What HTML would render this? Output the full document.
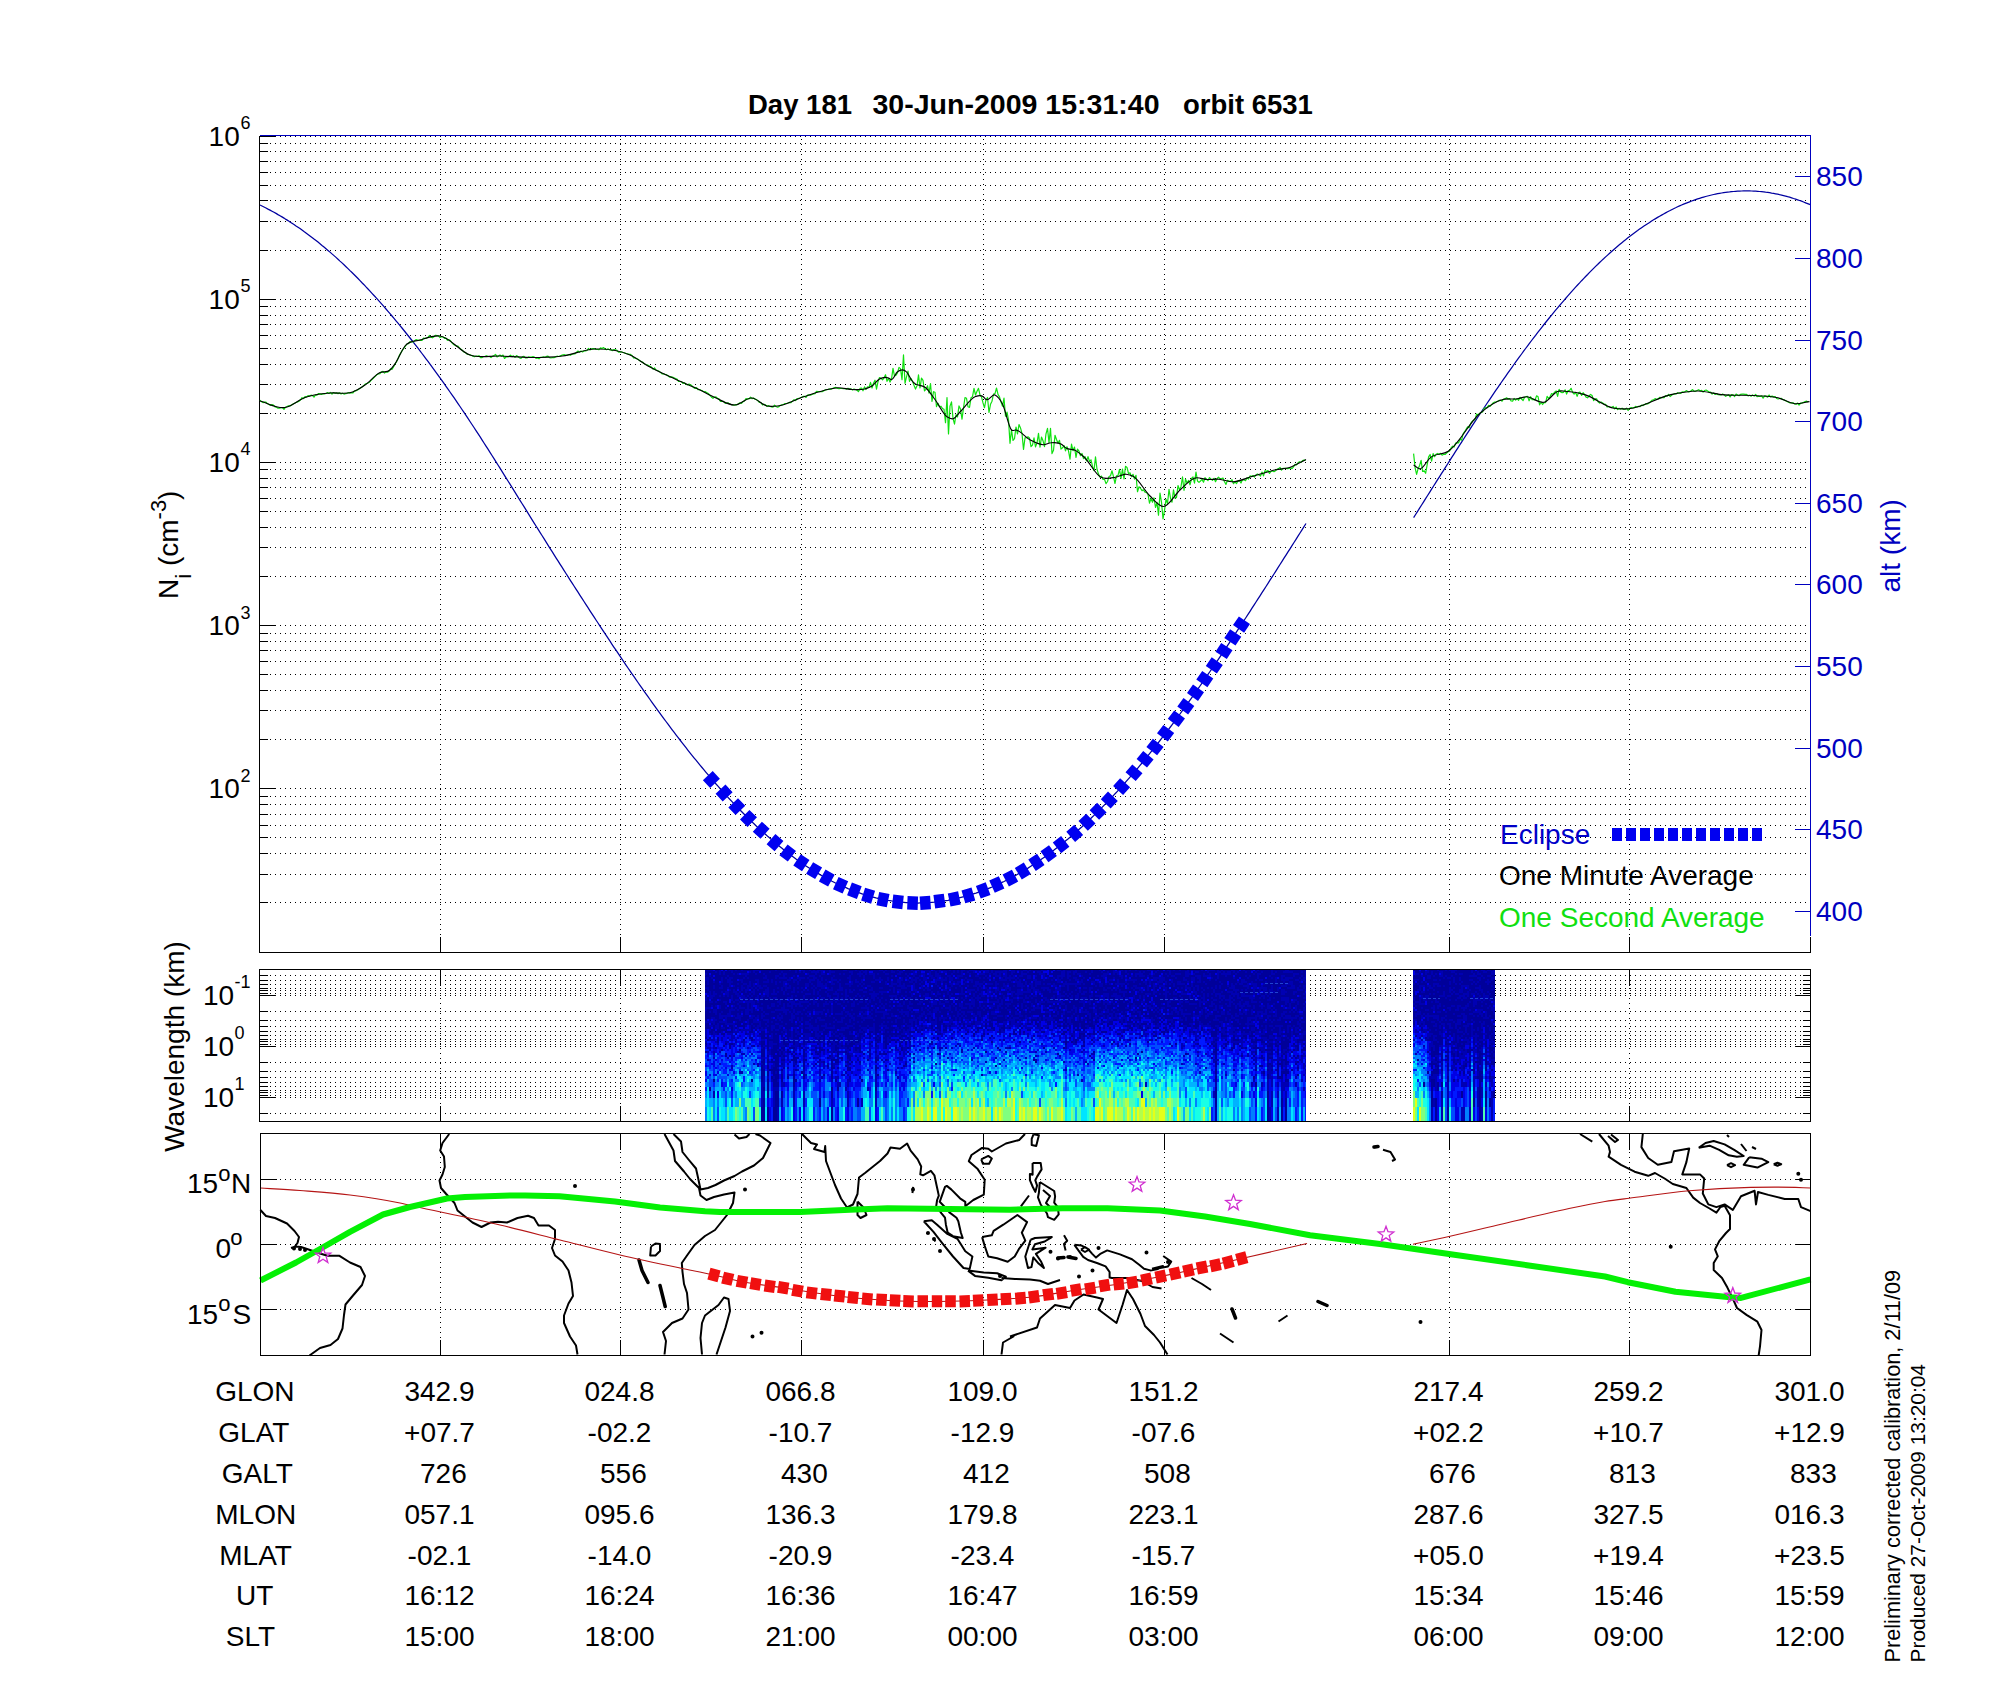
<!DOCTYPE html>
<html><head><meta charset="utf-8"><title>orbit 6531</title>
<style>html,body{margin:0;padding:0;background:#fff;overflow:hidden;width:2000px;height:1700px}svg{display:block}</style>
</head><body>
<svg width="2000" height="1700" viewBox="0 0 2000 1700" font-family="'Liberation Sans', sans-serif">
<rect width="2000" height="1700" fill="#fff"/>
<path d="M260 902.5H1810.5M260 874.5H1810.5M260 853.5H1810.5M260 837.5H1810.5M260 825.5H1810.5M260 814.5H1810.5M260 804.5H1810.5M260 796.5H1810.5M260 788.5H1810.5M260 739.5H1810.5M260 710.5H1810.5M260 690.5H1810.5M260 674.5H1810.5M260 661.5H1810.5M260 650.5H1810.5M260 641.5H1810.5M260 633.5H1810.5M260 625.5H1810.5M260 576.5H1810.5M260 547.5H1810.5M260 527.5H1810.5M260 511.5H1810.5M260 498.5H1810.5M260 487.5H1810.5M260 478.5H1810.5M260 469.5H1810.5M260 462.5H1810.5M260 413.5H1810.5M260 384.5H1810.5M260 364.5H1810.5M260 348.5H1810.5M260 335.5H1810.5M260 324.5H1810.5M260 315.5H1810.5M260 306.5H1810.5M260 299.5H1810.5M260 250.5H1810.5M260 221.5H1810.5M260 200.5H1810.5M260 185.5H1810.5M260 172.5H1810.5M260 161.5H1810.5M260 151.5H1810.5M260 143.5H1810.5M260 136.5H1810.5" stroke="#000" stroke-width="1" stroke-dasharray="1 4" fill="none" shape-rendering="crispEdges"/>
<path d="M440.5 138.5V951.5M620.5 138.5V951.5M801.5 138.5V951.5M983.5 138.5V951.5M1164.5 138.5V951.5M1449.5 138.5V951.5M1629.5 138.5V951.5" stroke="#000" stroke-width="1" stroke-dasharray="1 4" fill="none" shape-rendering="crispEdges"/>
<path d="M259.5 952.5H275.5M259.5 902.5H267.5M259.5 874.5H267.5M259.5 853.5H267.5M259.5 837.5H267.5M259.5 825.5H267.5M259.5 814.5H267.5M259.5 804.5H267.5M259.5 796.5H267.5M259.5 788.5H275.5M259.5 739.5H267.5M259.5 710.5H267.5M259.5 690.5H267.5M259.5 674.5H267.5M259.5 661.5H267.5M259.5 650.5H267.5M259.5 641.5H267.5M259.5 633.5H267.5M259.5 625.5H275.5M259.5 576.5H267.5M259.5 547.5H267.5M259.5 527.5H267.5M259.5 511.5H267.5M259.5 498.5H267.5M259.5 487.5H267.5M259.5 478.5H267.5M259.5 469.5H267.5M259.5 462.5H275.5M259.5 413.5H267.5M259.5 384.5H267.5M259.5 364.5H267.5M259.5 348.5H267.5M259.5 335.5H267.5M259.5 324.5H267.5M259.5 315.5H267.5M259.5 306.5H267.5M259.5 299.5H275.5M259.5 250.5H267.5M259.5 221.5H267.5M259.5 200.5H267.5M259.5 185.5H267.5M259.5 172.5H267.5M259.5 161.5H267.5M259.5 151.5H267.5M259.5 143.5H267.5M259.5 136.5H275.5" stroke="#000" stroke-width="1.2" fill="none" shape-rendering="crispEdges"/>
<path d="M440.5 952.5V936.5M620.5 952.5V936.5M801.5 952.5V936.5M983.5 952.5V936.5M1164.5 952.5V936.5M1449.5 952.5V936.5M1629.5 952.5V936.5M1810.5 952.5V936.5" stroke="#000" stroke-width="1.2" fill="none" shape-rendering="crispEdges"/>
<path d="M1810.5 911.5H1794.5M1810.5 829.5H1794.5M1810.5 748.5H1794.5M1810.5 666.5H1794.5M1810.5 584.5H1794.5M1810.5 503.5H1794.5M1810.5 421.5H1794.5M1810.5 340.5H1794.5M1810.5 258.5H1794.5M1810.5 176.5H1794.5" stroke="#0000c0" stroke-width="1.2" fill="none" shape-rendering="crispEdges"/>
<path d="M259.5 135.5V952.5H1810.5" stroke="#000" stroke-width="1.3" fill="none" shape-rendering="crispEdges"/>
<path d="M259.5 135.5H1810.5V935.5" stroke="#0000c0" stroke-width="1.3" fill="none" shape-rendering="crispEdges"/>
<text x="208.6" y="798.3" font-size="28">10</text>
<text x="240.5" y="781.8" font-size="18">2</text>
<text x="208.6" y="635.1" font-size="28">10</text>
<text x="240.5" y="618.6" font-size="18">3</text>
<text x="208.6" y="471.9" font-size="28">10</text>
<text x="240.5" y="455.4" font-size="18">4</text>
<text x="208.6" y="308.7" font-size="28">10</text>
<text x="240.5" y="292.2" font-size="18">5</text>
<text x="208.6" y="145.5" font-size="28">10</text>
<text x="240.5" y="129" font-size="18">6</text>
<text x="1816" y="920.7" font-size="28" fill="#0000c0">400</text>
<text x="1816" y="839.1" font-size="28" fill="#0000c0">450</text>
<text x="1816" y="757.5" font-size="28" fill="#0000c0">500</text>
<text x="1816" y="675.9" font-size="28" fill="#0000c0">550</text>
<text x="1816" y="594.3" font-size="28" fill="#0000c0">600</text>
<text x="1816" y="512.7" font-size="28" fill="#0000c0">650</text>
<text x="1816" y="431.1" font-size="28" fill="#0000c0">700</text>
<text x="1816" y="349.5" font-size="28" fill="#0000c0">750</text>
<text x="1816" y="267.9" font-size="28" fill="#0000c0">800</text>
<text x="1816" y="186.3" font-size="28" fill="#0000c0">850</text>
<g transform="translate(178 599) rotate(-90)"><text x="0" y="0" font-size="28">N<tspan font-size="22" dy="13">i</tspan><tspan dy="-13"> (cm</tspan><tspan font-size="22" dy="-12">-3</tspan><tspan dy="12">)</tspan></text></g>
<g transform="translate(1900 592.5) rotate(-90)"><text x="0" y="0" font-size="28" fill="#0000c0">alt (km)</text></g>
<text x="748" y="114" font-size="27.5" font-weight="bold">Day 181</text>
<text x="872.5" y="114" font-size="27.5" font-weight="bold" textLength="287" lengthAdjust="spacingAndGlyphs">30-Jun-2009 15:31:40</text>
<text x="1183" y="114" font-size="27.5" font-weight="bold">orbit 6531</text>
<path d="M260 205L262 206 264 207 266 208 268 209.1 270 210.1 272 211.2 274 212.3 276 213.4 278 214.6 280 215.7 282 216.9 284 218.1 286 219.4 288 220.6 290 221.9 292 223.2 294 224.5 296 225.9 298 227.2 300 228.6 302 230 304 231.5 306 232.9 308 234.4 310 235.9 312 237.4 314 239 316 240.5 318 242.1 320 243.7 322 245.4 324 247 326 248.7 328 250.4 330 252.1 332 253.9 334 255.6 336 257.4 338 259.2 340 261.1 342 262.9 344 264.8 346 266.7 348 268.6 350 270.6 352 272.5 354 274.5 356 276.5 358 278.5 360 280.6 362 282.7 364 284.7 366 286.9 368 289 370 291.1 372 293.3 374 295.5 376 297.7 378 299.9 380 302.1 382 304.4 384 306.7 386 309 388 311.3 390 313.6 392 316 394 318.4 396 320.8 398 323.2 400 325.6 402 328 404 330.5 406 333 408 335.5 410 338 412 340.5 414 343.1 416 345.7 418 348.2 420 350.8 422 353.5 424 356.1 426 358.8 428 361.4 430 364.1 432 366.8 434 369.6 436 372.3 438 375.1 440 377.8 442 380.6 444 383.4 446 386.3 448 389.1 450 392 452 394.8 454 397.7 456 400.6 458 403.6 460 406.5 462 409.5 464 412.4 466 415.4 468 418.4 470 421.5 472 424.5 474 427.5 476 430.6 478 433.7 480 436.7 482 439.8 484 443 486 446.1 488 449.2 490 452.3 492 455.5 494 458.7 496 461.8 498 465 500 468.2 502 471.4 504 474.6 506 477.8 508 481 510 484.2 512 487.4 514 490.6 516 493.8 518 497.1 520 500.3 522 503.5 524 506.7 526 509.9 528 513.1 530 516.3 532 519.6 534 522.8 536 526 538 529.2 540 532.4 542 535.5 544 538.7 546 541.9 548 545.1 550 548.3 552 551.4 554 554.6 556 557.8 558 560.9 560 564.1 562 567.2 564 570.4 566 573.5 568 576.6 570 579.8 572 582.9 574 586 576 589.1 578 592.2 580 595.3 582 598.4 584 601.5 586 604.6 588 607.7 590 610.8 592 613.9 594 616.9 596 620 598 623 600 626.1 602 629.1 604 632.2 606 635.2 608 638.2 610 641.2 612 644.3 614 647.3 616 650.2 618 653.2 620 656.2 622 659.2 624 662.1 626 665.1 628 668 630 670.9 632 673.8 634 676.7 636 679.6 638 682.5 640 685.4 642 688.2 644 691.1 646 693.9 648 696.7 650 699.5 652 702.3 654 705.1 656 707.9 658 710.6 660 713.4 662 716.1 664 718.8 666 721.5 668 724.2 670 726.9 672 729.6 674 732.2 676 734.8 678 737.4 680 740 682 742.6 684 745.2 686 747.7 688 750.3 690 752.8 692 755.3 694 757.8 696 760.2 698 762.7 700 765.1 702 767.5 704 769.9 706 772.3 708 774.7 710 777 712 779.4 714 781.7 716 784 718 786.2 720 788.5 722 790.7 724 792.9 726 795.1 728 797.3 730 799.5 732 801.6 734 803.7 736 805.8 738 807.9 740 810 742 812 744 814 746 816 748 818 750 819.9 752 821.9 754 823.8 756 825.7 758 827.6 760 829.4 762 831.2 764 833 766 834.8 768 836.6 770 838.3 772 840.1 774 841.8 776 843.4 778 845.1 780 846.7 782 848.3 784 849.9 786 851.5 788 853 790 854.6 792 856.1 794 857.5 796 859 798 860.4 800 861.8 802 863.2 804 864.6 806 865.9 808 867.2 810 868.5 812 869.8 814 871 816 872.3 818 873.4 820 874.6 822 875.8 824 876.9 826 878 828 879.1 830 880.1 832 881.2 834 882.2 836 883.2 838 884.1 840 885.1 842 886 844 886.9 846 887.7 848 888.6 850 889.4 852 890.2 854 891 856 891.7 858 892.4 860 893.1 862 893.8 864 894.5 866 895.1 868 895.7 870 896.3 872 896.8 874 897.3 876 897.9 878 898.3 880 898.8 882 899.2 884 899.6 886 900 888 900.4 890 900.7 892 901 894 901.3 896 901.6 898 901.8 900 902.1 902 902.2 904 902.4 906 902.6 908 902.7 910 902.8 912 902.9 914 902.9 916 903 918 903 920 902.9 922 902.9 924 902.8 926 902.7 928 902.6 930 902.5 932 902.3 934 902.2 936 902 938 901.7 940 901.5 942 901.2 944 900.9 946 900.6 948 900.3 950 899.9 952 899.5 954 899.1 956 898.7 958 898.2 960 897.7 962 897.2 964 896.7 966 896.1 968 895.6 970 895 972 894.4 974 893.7 976 893.1 978 892.4 980 891.7 982 891 984 890.2 986 889.4 988 888.6 990 887.8 992 887 994 886.1 996 885.2 998 884.3 1000 883.4 1002 882.4 1004 881.5 1006 880.5 1008 879.5 1010 878.4 1012 877.4 1014 876.3 1016 875.2 1018 874 1020 872.9 1022 871.7 1024 870.5 1026 869.3 1028 868.1 1030 866.8 1032 865.5 1034 864.2 1036 862.9 1038 861.6 1040 860.2 1042 858.8 1044 857.4 1046 856 1048 854.5 1050 853.1 1052 851.6 1054 850.1 1056 848.5 1058 847 1060 845.4 1062 843.8 1064 842.2 1066 840.5 1068 838.9 1070 837.2 1072 835.5 1074 833.8 1076 832 1078 830.3 1080 828.5 1082 826.7 1084 824.8 1086 823 1088 821.1 1090 819.2 1092 817.3 1094 815.4 1096 813.4 1098 811.5 1100 809.5 1102 807.4 1104 805.4 1106 803.4 1108 801.3 1110 799.2 1112 797.1 1114 794.9 1116 792.8 1118 790.6 1120 788.4 1122 786.2 1124 784 1126 781.7 1128 779.4 1130 777.1 1132 774.8 1134 772.5 1136 770.2 1138 767.8 1140 765.4 1142 763 1144 760.6 1146 758.1 1148 755.7 1150 753.2 1152 750.7 1154 748.2 1156 745.6 1158 743.1 1160 740.5 1162 737.9 1164 735.3 1166 732.7 1168 730.1 1170 727.5 1172 724.8 1174 722.1 1176 719.4 1178 716.7 1180 714 1182 711.2 1184 708.5 1186 705.7 1188 702.9 1190 700.1 1192 697.3 1194 694.5 1196 691.7 1198 688.8 1200 686 1202 683.1 1204 680.2 1206 677.3 1208 674.4 1210 671.5 1212 668.6 1214 665.7 1216 662.7 1218 659.8 1220 656.8 1222 653.8 1224 650.8 1226 647.8 1228 644.8 1230 641.8 1232 638.8 1234 635.8 1236 632.7 1238 629.7 1240 626.7 1242 623.6 1244 620.5 1246 617.5 1248 614.4 1250 611.3 1252 608.2 1254 605.1 1256 602 1258 598.9 1260 595.8 1262 592.7 1264 589.6 1266 586.5 1268 583.4 1270 580.2 1272 577.1 1274 574 1276 570.8 1278 567.7 1280 564.5 1282 561.4 1284 558.2 1286 555.1 1288 551.9 1290 548.8 1292 545.6 1294 542.5 1296 539.3 1298 536.2 1300 533 1302 529.8 1304 526.7 1306 523.5" stroke="#0000a0" stroke-width="1.25" fill="none"/>
<path d="M1413.6 517.6L1415.6 514.5 1417.6 511.3 1419.6 508.2 1421.6 505 1423.6 501.8 1425.6 498.7 1427.6 495.5 1429.6 492.4 1431.6 489.2 1433.6 486 1435.6 482.9 1437.6 479.7 1439.6 476.6 1441.6 473.4 1443.6 470.3 1445.6 467.1 1447.6 464 1449.6 460.8 1451.6 457.7 1453.6 454.6 1455.6 451.4 1457.6 448.3 1459.6 445.2 1461.6 442.1 1463.6 439 1465.6 435.9 1467.6 432.8 1469.6 429.8 1471.6 426.7 1473.6 423.6 1475.6 420.6 1477.6 417.5 1479.6 414.5 1481.6 411.5 1483.6 408.5 1485.6 405.5 1487.6 402.5 1489.6 399.6 1491.6 396.6 1493.6 393.7 1495.6 390.7 1497.6 387.8 1499.6 384.9 1501.6 382 1503.6 379.1 1505.6 376.3 1507.6 373.4 1509.6 370.6 1511.6 367.8 1513.6 365 1515.6 362.2 1517.6 359.4 1519.6 356.7 1521.6 354 1523.6 351.2 1525.6 348.5 1527.6 345.8 1529.6 343.2 1531.6 340.5 1533.6 337.9 1535.6 335.3 1537.6 332.7 1539.6 330.1 1541.6 327.6 1543.6 325 1545.6 322.5 1547.6 320 1549.6 317.5 1551.6 315.1 1553.6 312.6 1555.6 310.2 1557.6 307.8 1559.6 305.5 1561.6 303.1 1563.6 300.8 1565.6 298.5 1567.6 296.2 1569.6 293.9 1571.6 291.6 1573.6 289.4 1575.6 287.2 1577.6 285 1579.6 282.9 1581.6 280.7 1583.6 278.6 1585.6 276.5 1587.6 274.5 1589.6 272.4 1591.6 270.4 1593.6 268.4 1595.6 266.4 1597.6 264.5 1599.6 262.5 1601.6 260.6 1603.6 258.8 1605.6 256.9 1607.6 255.1 1609.6 253.3 1611.6 251.5 1613.6 249.7 1615.6 248 1617.6 246.3 1619.6 244.6 1621.6 242.9 1623.6 241.3 1625.6 239.7 1627.6 238.1 1629.6 236.6 1631.6 235 1633.6 233.5 1635.6 232 1637.6 230.6 1639.6 229.1 1641.6 227.7 1643.6 226.3 1645.6 225 1647.6 223.7 1649.6 222.4 1651.6 221.1 1653.6 219.8 1655.6 218.6 1657.6 217.4 1659.6 216.2 1661.6 215.1 1663.6 214 1665.6 212.9 1667.6 211.8 1669.6 210.8 1671.6 209.7 1673.6 208.7 1675.6 207.8 1677.6 206.8 1679.6 205.9 1681.6 205 1683.6 204.2 1685.6 203.4 1687.6 202.6 1689.6 201.8 1691.6 201 1693.6 200.3 1695.6 199.6 1697.6 198.9 1699.6 198.3 1701.6 197.7 1703.6 197.1 1705.6 196.5 1707.6 196 1709.6 195.5 1711.6 195 1713.6 194.5 1715.6 194.1 1717.6 193.7 1719.6 193.3 1721.6 193 1723.6 192.7 1725.6 192.4 1727.6 192.1 1729.6 191.9 1731.6 191.6 1733.6 191.5 1735.6 191.3 1737.6 191.2 1739.6 191.1 1741.6 191 1743.6 190.9 1745.6 190.9 1747.6 190.9 1749.6 190.9 1751.6 191 1753.6 191.1 1755.6 191.2 1757.6 191.3 1759.6 191.5 1761.6 191.7 1763.6 191.9 1765.6 192.2 1767.6 192.4 1769.6 192.7 1771.6 193.1 1773.6 193.4 1775.6 193.8 1777.6 194.2 1779.6 194.7 1781.6 195.1 1783.6 195.6 1785.6 196.1 1787.6 196.7 1789.6 197.2 1791.6 197.8 1793.6 198.5 1795.6 199.1 1797.6 199.8 1799.6 200.5 1801.6 201.2 1803.6 202 1805.6 202.8 1807.6 203.6 1809.6 204.4 1810 204.6" stroke="#0000a0" stroke-width="1.25" fill="none"/>
<path d="M260 400.2L261.5 401.7 263 402.6 264.5 402.1 266 402.2 267.5 403.6 269 404.5 270.5 405.5 272 404.6 273.5 405.1 275 406.9 276.5 407.2 278 408.2 279.5 408.1 281 407.6 282.5 407.5 284 409.3 285.5 407.2 287 406.5 288.5 405.8 290 405.9 291.5 405.1 293 404 294.5 403.3 296 402.5 297.5 401.9 299 401.2 300.5 399.8 302 397.7 303.5 398.6 305 396.6 306.5 396.9 308 395.6 309.5 396.1 311 395.2 312.5 395.5 314 397.2 315.5 394.8 317 395.1 318.5 393.5 320 393.9 321.5 394.4 323 393.7 324.5 393.8 326 393.5 327.5 392.6 329 393.5 330.5 392.4 332 394.1 333.5 392.5 335 393.3 336.5 392.9 338 393.6 339.5 392.8 341 393.9 342.5 393.2 344 394.1 345.5 393.7 347 393.3 348.5 392.5 350 393.2 351.5 392.6 353 392.9 354.5 390.9 356 390.8 357.5 390 359 389 360.5 388.1 362 387.1 363.5 385.6 365 384.4 366.5 383.6 368 383 369.5 382.2 371 380.4 372.5 379 374 377.5 375.5 376.1 377 374.5 378.5 373.8 380 373.6 381.5 371.8 383 371.4 384.5 373.1 386 371.9 387.5 372.1 389 371.3 390.5 368.8 392 369.4 393.5 367 395 363.9 396.5 361.8 398 358.7 399.5 355.1 401 352.6 402.5 350.1 404 348.1 405.5 345.9 407 344 408.5 343.7 410 341.6 411.5 342 413 341.9 414.5 340.8 416 339.6 417.5 340 419 340.4 420.5 340.2 422 340.3 423.5 338.2 425 338.4 426.5 338.3 428 337.3 429.5 335.5 431 337.2 432.5 337.8 434 336.7 435.5 335.3 437 335.6 438.5 336 440 337.6 441.5 336.7 443 336.8 444.5 338.4 446 338.1 447.5 340.3 449 339.6 450.5 340.8 452 342.8 453.5 344.4 455 345.2 456.5 346.2 458 346.1 459.5 348 461 349.3 462.5 350.5 464 352.2 465.5 352.6 467 354.2 468.5 354.5 470 354.8 471.5 355.5 473 356.1 474.5 356.7 476 356 477.5 356.4 479 355.7 480.5 357.7 482 357.6 483.5 356.5 485 356.3 486.5 355.7 488 356.5 489.5 356.5 491 357.6 492.5 356.3 494 355.6 495.5 354.4 497 356.9 498.5 356.1 500 355 501.5 356.2 503 355.1 504.5 358.5 506 357 507.5 356.8 509 356.4 510.5 355.2 512 356.6 513.5 355.8 515 357.3 516.5 355.6 518 356.5 519.5 357.9 521 358.3 522.5 356.6 524 356.4 525.5 358 527 358 528.5 356.9 530 357.1 531.5 357.1 533 356.7 534.5 357.1 536 358.3 537.5 357.9 539 358.8 540.5 357.4 542 357.3 543.5 356.8 545 357.3 546.5 356.4 548 356.1 549.5 357.6 551 358 552.5 357.5 554 357.7 555.5 356.9 557 356.2 558.5 356.5 560 356.1 561.5 355.4 563 354.8 564.5 354.7 566 355.4 567.5 355.2 569 354.5 570.5 355.3 572 354.1 573.5 354 575 353.9 576.5 352.2 578 351 579.5 352.4 581 351 582.5 351.9 584 350.9 585.5 351 587 350.5 588.5 348.4 590 349.9 591.5 348.8 593 348.6 594.5 348.7 596 349.5 597.5 349.5 599 349.6 600.5 347.9 602 348.6 603.5 347.5 605 349.1 606.5 349.6 608 348.9 609.5 349.7 611 349.9 612.5 350.6 614 349.6 615.5 349.9 617 350.3 618.5 352.2 620 352.2 621.5 351.8 623 352.5 624.5 352.9 626 353.5 627.5 353.8 629 354.4 630.5 354.4 632 355.5 633.5 357.8 635 358 636.5 358.6 638 359.3 639.5 360.5 641 361.6 642.5 362 644 363.5 645.5 364.5 647 364.8 648.5 365.6 650 366.4 651.5 367.1 653 369.2 654.5 367.9 656 370 657.5 370.5 659 371.2 660.5 372.4 662 373.8 663.5 373.8 665 374.3 666.5 374.7 668 375.7 669.5 377.1 671 376.9 672.5 377.1 674 377.7 675.5 378.5 677 379 678.5 381.3 680 381.5 681.5 381.7 683 383.5 684.5 382.7 686 384.3 687.5 385 689 384.1 690.5 384.7 692 385.8 693.5 387.6 695 388.5 696.5 387.6 698 389.7 699.5 389.5 701 390.2 702.5 390.9 704 391.8 705.5 391.6 707 392.9 708.5 393.5 710 395.4 711.5 397.2 713 398.3 714.5 397.1 716 396.9 717.5 398.4 719 398.9 720.5 401.5 722 401.4 723.5 401.3 725 403.1 726.5 403.5 728 402.7 729.5 403.9 731 404.5 732.5 404.9 734 405.1 735.5 404.7 737 404.8 738.5 403.7 740 402.7 741.5 403.4 743 401.7 744.5 400.9 746 398.7 747.5 398.8 749 398.9 750.5 397.2 752 398.7 753.5 398.1 755 399.2 756.5 399.6 758 400.8 759.5 402.5 761 402.6 762.5 404.9 764 404.3 765.5 404.9 767 406.5 768.5 405.6 770 406.2 771.5 407 773 407.2 774.5 405.2 776 406.5 777.5 407.2 779 406.6 780.5 405.4 782 404.8 783.5 404.5 785 403.5 786.5 403.5 788 403 789.5 402.4 791 402.6 792.5 401.1 794 399.7 795.5 400.6 797 398.6 798.5 398.4 800 398 801.5 397.3 803 396.4 804.5 396.3 806 397.4 807.5 395.1 809 394.9 810.5 395.2 812 394.5 813.5 394 815 393.6 816.5 391.3 818 391.5 819.5 391.7 821 391.5 822.5 391.6 824 390.7 825.5 389.8 827 389.7 828.5 389.2 830 389.2 831.5 389.1 833 388.2 834.5 387.6 836 387.4 837.5 388.5 839 388.6 840.5 388.5 842 388.5 843.5 388.7 845 388.5 846.5 389.2 848 388.3 849.5 389.1 851 388.9 852.5 390.1 854 389 855.5 389.5 857 390.2 858.5 391.6 860 388.4 861.5 388 863 390.8 864.5 386.9 866 389.5 867.5 386.9 869 387.3 870.5 382.3 872 388 873.5 383.2 875 380.2 876.5 389.2 878 381.7 879.5 377.5 881 378.1 882.5 379.9 884 378.1 885.5 374.7 887 381.3 888.5 378.4 890 382.1 891.5 379.1 893 368.3 894.5 376.1 896 375.2 897.5 372.9 899 367.4 900.5 368.6 902 379.7 903.5 354.9 905 383.3 906.5 376.8 908 371.1 909.5 381.3 911 378.5 912.5 381 914 385.3 915.5 389.1 917 385.8 918.5 374.8 920 387.9 921.5 378.1 923 380.4 924.5 390.8 926 389.4 927.5 385.7 929 393.1 930.5 383.6 932 401.4 933.5 391.7 935 392.2 936.5 406.6 938 403.3 939.5 406.7 941 406.2 942.5 408.6 944 409.2 945.5 422.7 947 397.5 948.5 433.9 950 406.1 951.5 401.9 953 418.4 954.5 424.2 956 414.6 957.5 416.9 959 405.9 960.5 409.1 962 419.1 963.5 407.9 965 397.5 966.5 398.3 968 406.8 969.5 407.4 971 397.8 972.5 396.7 974 388.3 975.5 395 977 391.2 978.5 388.4 980 395.2 981.5 396.8 983 402.9 984.5 407.7 986 399.5 987.5 397.5 989 412.5 990.5 404.3 992 401.2 993.5 394.1 995 393.6 996.5 388 998 394.4 999.5 396.9 1001 401.9 1002.5 406.2 1004 398.2 1005.5 416.2 1007 412.1 1008.5 419.9 1010 443.3 1011.5 429.8 1013 440.4 1014.5 438.6 1016 427 1017.5 434 1019 424.5 1020.5 427.9 1022 433.5 1023.5 449.5 1025 437.8 1026.5 437.7 1028 436.8 1029.5 437.9 1031 446.6 1032.5 445 1034 437.8 1035.5 446.9 1037 443 1038.5 433.4 1040 447.1 1041.5 437.1 1043 440.7 1044.5 446.7 1046 433.8 1047.5 428.3 1049 442.8 1050.5 428.3 1052 453.6 1053.5 450.3 1055 435.3 1056.5 439.5 1058 443.3 1059.5 440.4 1061 449.1 1062.5 447.8 1064 445.6 1065.5 450.8 1067 446.7 1068.5 450.9 1070 459.2 1071.5 444.2 1073 450.7 1074.5 447 1076 457.3 1077.5 449.2 1079 451.2 1080.5 455.7 1082 453.5 1083.5 458.6 1085 456.6 1086.5 460.9 1088 456.6 1089.5 461.5 1091 459.8 1092.5 466.4 1094 470.6 1095.5 456.8 1097 469.3 1098.5 474.1 1100 477.2 1101.5 476.1 1103 479.5 1104.5 479.3 1106 483.6 1107.5 481.5 1109 476.6 1110.5 475.7 1112 470.8 1113.5 476.6 1115 483.5 1116.5 475.8 1118 475.3 1119.5 469.3 1121 478.3 1122.5 469.1 1124 479 1125.5 466.3 1127 467.4 1128.5 473.5 1130 472.8 1131.5 476.7 1133 474.3 1134.5 479.1 1136 475.3 1137.5 491.7 1139 486.8 1140.5 488.2 1142 490.6 1143.5 489.9 1145 492.2 1146.5 492.5 1148 494.5 1149.5 503.1 1151 498.6 1152.5 502.2 1154 497.8 1155.5 507.5 1157 502.4 1158.5 515.1 1160 493 1161.5 502.3 1163 518.8 1164.5 510.4 1166 499.3 1167.5 503.5 1169 489.4 1170.5 498.2 1172 502.2 1173.5 489.9 1175 498.2 1176.5 497.4 1178 485.5 1179.5 489.8 1181 486.7 1182.5 476.8 1184 490.3 1185.5 479 1187 483 1188.5 480.5 1190 484.8 1191.5 478.5 1193 477 1194.5 483.2 1196 472 1197.5 481 1199 482.4 1200.5 481 1202 479.4 1203.5 482.2 1205 477.7 1206.5 479.2 1208 480.6 1209.5 477.6 1211 479.1 1212.5 480.3 1214 478.3 1215.5 481.7 1217 478.7 1218.5 477.1 1220 478.9 1221.5 478.6 1223 478 1224.5 481.7 1226 484.4 1227.5 480.3 1229 481.2 1230.5 481.4 1232 479.6 1233.5 483.7 1235 481.8 1236.5 483.6 1238 480.8 1239.5 480.7 1241 483 1242.5 479.6 1244 479.8 1245.5 480.7 1247 477.7 1248.5 479 1250 475.9 1251.5 476.3 1253 475.5 1254.5 477 1256 474.8 1257.5 474 1259 475.1 1260.5 476.1 1262 472 1263.5 475.9 1265 470.7 1266.5 471.4 1268 470.6 1269.5 473.4 1271 471.5 1272.5 470.9 1274 471.7 1275.5 470.8 1277 469.4 1278.5 468.6 1280 467.4 1281.5 470.1 1283 468.4 1284.5 468.3 1286 468.4 1287.5 468.6 1289 468.4 1290.5 467.9 1292 468.6 1293.5 466.9 1295 464.3 1296.5 465 1298 462.8 1299.5 461.7 1301 462.5 1302.5 460.5 1304 460.1 1305.5 460.5" stroke="#10e010" stroke-width="1.2" fill="none" stroke-linejoin="round"/>
<path d="M1413.6 453.6L1415.1 467.8 1416.6 474.3 1418.1 468.7 1419.6 465.4 1421.1 460.3 1422.6 471.5 1424.1 470.7 1425.6 473.3 1427.1 465.1 1428.6 456.8 1430.1 454.5 1431.6 461.1 1433.1 453.6 1434.6 456.7 1436.1 454.3 1437.6 453.4 1439.1 454.5 1440.6 453.3 1442.1 455.2 1443.6 454.3 1445.1 454.5 1446.6 453 1448.1 451.7 1449.6 450.9 1451.1 447.9 1452.6 446.2 1454.1 447 1455.6 443.2 1457.1 442.8 1458.6 442.8 1460.1 439.1 1461.6 440.2 1463.1 433.8 1464.6 431.7 1466.1 429.2 1467.6 426.8 1469.1 427.7 1470.6 423.7 1472.1 421.4 1473.6 420.2 1475.1 419.7 1476.6 414 1478.1 414.9 1479.6 413.3 1481.1 412.4 1482.6 411.9 1484.1 408.5 1485.6 407.7 1487.1 407.6 1488.6 405.3 1490.1 406.3 1491.6 404.7 1493.1 403 1494.6 402 1496.1 401.8 1497.6 401.3 1499.1 400.4 1500.6 400 1502.1 401.2 1503.6 399 1505.1 398.7 1506.6 397.8 1508.1 399.2 1509.6 398.6 1511.1 401 1512.6 401.1 1514.1 398.5 1515.6 400.1 1517.1 398.6 1518.6 400.3 1520.1 397.3 1521.6 399 1523.1 400.5 1524.6 397.2 1526.1 396.6 1527.6 396.4 1529.1 400.8 1530.6 396.7 1532.1 399.7 1533.6 399.7 1535.1 399.9 1536.6 395.8 1538.1 396.8 1539.6 404.8 1541.1 402.3 1542.6 404.5 1544.1 402.6 1545.6 402.7 1547.1 396.3 1548.6 398.3 1550.1 396.6 1551.6 393.6 1553.1 394.3 1554.6 392.1 1556.1 390.9 1557.6 396.3 1559.1 389.4 1560.6 391.9 1562.1 392.6 1563.6 392.3 1565.1 389.8 1566.6 394.1 1568.1 390.5 1569.6 390.4 1571.1 388.3 1572.6 392.4 1574.1 394.1 1575.6 392.3 1577.1 396.4 1578.6 392.6 1580.1 392.2 1581.6 395.5 1583.1 392.7 1584.6 394.7 1586.1 397.1 1587.6 397.8 1589.1 395.9 1590.6 394.4 1592.1 395.4 1593.6 400.6 1595.1 398.8 1596.6 398.9 1598.1 401.7 1599.6 403.1 1601.1 402 1602.6 403 1604.1 404.1 1605.6 404.3 1607.1 406.9 1608.6 406.5 1610.1 407.1 1611.6 407.3 1613.1 406.4 1614.6 408.9 1616.1 407 1617.6 409.6 1619.1 408.3 1620.6 409.1 1622.1 408.2 1623.6 409.5 1625.1 409.3 1626.6 408.1 1628.1 410.5 1629.6 408.3 1631.1 407.6 1632.6 408 1634.1 407.7 1635.6 406.4 1637.1 407 1638.6 406.3 1640.1 406.7 1641.6 405.2 1643.1 405.6 1644.6 404.5 1646.1 403.6 1647.6 404 1649.1 403.1 1650.6 401.7 1652.1 400.2 1653.6 399.8 1655.1 398.6 1656.6 399.4 1658.1 399 1659.6 397.4 1661.1 397.7 1662.6 397.6 1664.1 397.6 1665.6 395.7 1667.1 396.1 1668.6 394.3 1670.1 396.5 1671.6 395.2 1673.1 394.2 1674.6 393.7 1676.1 394 1677.6 392.7 1679.1 393.2 1680.6 393.5 1682.1 391.9 1683.6 392 1685.1 391.5 1686.6 390.6 1688.1 391.8 1689.6 391.7 1691.1 390.7 1692.6 389.6 1694.1 391.4 1695.6 391.3 1697.1 390.5 1698.6 389.7 1700.1 390.8 1701.6 390.3 1703.1 392.1 1704.6 390.5 1706.1 390 1707.6 391 1709.1 392 1710.6 392 1712.1 394.1 1713.6 392.9 1715.1 394.5 1716.6 393.5 1718.1 394.7 1719.6 394.8 1721.1 395 1722.6 394.1 1724.1 394.7 1725.6 396.3 1727.1 395.5 1728.6 394.7 1730.1 397 1731.6 394.6 1733.1 394.8 1734.6 396.5 1736.1 394.1 1737.6 395.1 1739.1 395.7 1740.6 394.3 1742.1 394.1 1743.6 394.2 1745.1 394.4 1746.6 394.4 1748.1 395.9 1749.6 395.3 1751.1 396.2 1752.6 394.9 1754.1 396.1 1755.6 394.4 1757.1 396.6 1758.6 396.1 1760.1 396.4 1761.6 395.9 1763.1 398.2 1764.6 395.9 1766.1 396.2 1767.6 397.2 1769.1 395 1770.6 396.9 1772.1 396.1 1773.6 396.9 1775.1 396.5 1776.6 398.5 1778.1 399 1779.6 398.5 1781.1 398.3 1782.6 399.5 1784.1 399.9 1785.6 400.7 1787.1 401.5 1788.6 402.2 1790.1 403 1791.6 402.9 1793.1 402.8 1794.6 403.9 1796.1 404.2 1797.6 403.1 1799.1 405.1 1800.6 403.1 1802.1 402.9 1803.6 402.4 1805.1 401.5 1806.6 401.2 1808.1 402.1" stroke="#10e010" stroke-width="1.2" fill="none" stroke-linejoin="round"/>
<path d="M260 401C268.3 403.2 276.7 408.9 285 407.5C291.7 406.4 298.3 399.9 305 397.5C313.3 394.5 321.7 393.9 330 393C337.5 392.2 345 394.8 352.5 392C356.7 390.4 360.8 387.9 365 385C370 381.6 375 374.9 380 372.5C383.3 370.9 386.7 373.1 390 370C391.7 368.5 393.3 366.1 395 363.8C398.3 359 401.7 350.1 405 346C410 339.9 415 341.6 420 340C426.7 337.9 433.3 335.1 440 336C450 337.3 460 351.7 470 355C480 358.3 490 355.6 500 356C510 356.4 520 357.5 530 357.5C540.8 357.5 551.7 357.4 562.5 356C573.3 354.6 584.2 349.3 595 349C606.7 348.7 618.3 349.8 630 355C636.7 358 643.3 363.4 650 367C658.3 371.6 666.7 375.2 675 379C683.3 382.8 691.7 386 700 390C705 392.4 710 395.3 715 397.5C721.7 400.5 728.3 405.3 735 405C740.7 404.7 746.3 397.5 752 398C757 398.5 762 404.9 767 406C770.5 406.8 774 406.4 777.5 406C786 405.1 794.5 399.8 803 397C812 394.1 821 390.7 830 389C832.5 388.5 835 388 837.5 387.8C842.5 387.5 847.5 389.4 852.5 389.5C856.5 389.6 860.5 390 864.5 389C867 388.3 869.5 387.7 872 386C874.5 384.3 877 380.4 879.5 379C882.5 377.3 885.5 376.8 888.5 378C889.5 378.4 890.5 379.8 891.5 379.7C893.5 379.6 895.5 373.3 897.5 371.8C900.5 369.4 903.5 368.8 906.5 371.8C908.5 373.7 910.5 379 912.5 381.5C917 387.2 921.5 383.7 926 388C929 390.9 932 395.5 935 399.5C939 404.9 943 414 947 416.8C949 418.1 951 419.2 953 418.7C955.5 418.1 958 413.9 960.5 411.5C965.5 406.6 970.5 398.2 975.5 396.5C978 395.7 980.5 394.7 983 396.5C984 397.2 985 398.9 986 399.5C989 401.4 992 393.7 995 395C997.5 396.1 1000 399.1 1002.5 404C1005.5 409.9 1008.5 427.1 1011.5 430C1013 431.4 1014.5 429.7 1016 430C1020.7 430.8 1025.3 437.3 1030 439.8C1034.5 442.1 1039 444.9 1043.5 444.7C1046 444.6 1048.5 443 1051 442.8C1054.5 442.4 1058 442.1 1061.5 444.2C1063 445.2 1064.5 447 1066 448C1069 449.9 1072 448.8 1075 450.2C1078 451.8 1081 454.3 1084 457C1089.5 462 1095 473.8 1100.5 477C1105.5 479.9 1110.5 478.1 1115.5 477.2C1119 476.7 1122.5 474.1 1126 474.2C1128.5 474.4 1131 475.1 1133.5 476.5C1139 479.7 1144.5 490.7 1150 496C1154.5 500.3 1159 506.6 1163.5 506.5C1169 506.4 1174.5 494.9 1180 490C1185 485.5 1190 479.4 1195 478C1199 476.9 1203 479.3 1207 479.5C1211 479.7 1215 478.9 1219 479.2C1223.5 479.5 1228 481.7 1232.5 481.8C1239 481.8 1245.5 478.3 1252 476.5C1260 474.3 1268 471.4 1276 469.8C1280.5 468.8 1285 468.9 1289.5 467.5C1295 465.8 1300.5 462.2 1306 459.5" stroke="#000" stroke-width="1.15" fill="none"/>
<path d="M1413.6 465C1415.7 466.3 1417.9 468.9 1420 468.8C1423.5 468.7 1426.9 460.4 1430.4 457.6C1436.4 452.8 1442.3 455.2 1448.3 451.3C1458.8 444.4 1469.3 422.5 1479.8 413.5C1487.5 406.9 1495.2 401.5 1502.9 399.5C1507.8 398.2 1512.7 399.6 1517.6 398.8C1520.4 398.3 1523.2 397 1526 396.8C1532.3 396.2 1538.6 404.5 1544.9 402C1549.1 400.4 1553.3 393.1 1557.5 391.5C1561 390.2 1564.5 391.3 1568 391.5C1573.6 391.9 1579.2 393 1584.8 394.6C1594.6 397.4 1604.4 406.6 1614.2 408.3C1619.1 409.1 1624 409 1628.9 408.7C1642.9 407.8 1656.9 397.6 1670.9 394.6C1680 392.7 1689.1 390.8 1698.2 391C1705.9 391.2 1713.6 393.8 1721.3 394.6C1733.2 395.9 1745.1 394.8 1757 395.7C1764 396.2 1771 396.1 1778 397.8C1783.6 399.1 1789.2 403.2 1794.8 403.7C1799.7 404.1 1804.6 402.3 1809.5 401.6" stroke="#000" stroke-width="1.15" fill="none"/>
<path d="M712.7 771L719.9 778.7L710.1 787.9L702.9 780.2ZM725.5 784.6L732.6 792.3L722.7 801.5L715.6 793.8ZM738 798.2L745.3 805.8L735.6 815.1L728.3 807.6ZM749.4 809.9L757 817.2L747.6 826.9L740 819.6ZM761.9 821.7L769.6 828.8L760.5 838.8L752.8 831.7ZM775.4 834.1L783.4 841L774.6 851.2L766.6 844.3ZM787.6 844.5L796 850.9L787.8 861.6L779.4 855.2ZM800.8 854.3L809.5 860.1L802 871.3L793.3 865.5ZM813.1 862.2L822.1 867.6L815.1 879.1L806.1 873.7ZM825.5 869.6L834.7 874.7L828.1 886.5L818.9 881.5ZM838.6 876.9L848.2 881.3L842.6 893.5L833 889.2ZM851.9 882.6L861.7 886.3L856.9 898.9L847.1 895.2ZM865.1 887.7L875.1 890.8L871.1 903.7L861.1 900.6ZM879.2 892L889.5 894.1L886.8 907.3L876.5 905.2ZM893.3 894.6L903.8 895.8L902.3 909.2L891.8 908ZM907.6 896L918.1 896.4L917.6 909.9L907.1 909.5ZM919.6 896.6L930.1 895.8L931 909.3L920.5 910ZM933.4 895.1L943.8 893.7L945.6 907L935.2 908.5ZM947.8 893.4L958.1 891.3L960.8 904.6L950.5 906.6ZM961.5 890.4L971.5 887.4L975.3 900.4L965.3 903.3ZM975.9 886L985.7 882.3L990.5 894.9L980.7 898.6ZM989.2 880.6L998.8 876.2L1004.4 888.5L994.8 892.8ZM1002.6 874.6L1011.9 869.7L1018.2 881.6L1008.9 886.5ZM1014.8 867.9L1023.8 862.4L1030.8 874L1021.8 879.4ZM1028.3 859.6L1037 853.8L1044.5 865L1035.8 870.9ZM1040.5 851.3L1049 845.2L1056.9 856.1L1048.4 862.3ZM1052.8 842.5L1061.1 836.1L1069.4 846.7L1061.1 853.2ZM1066.3 831.7L1074.3 824.8L1083.1 835.1L1075.1 841.9ZM1078.5 821L1086.2 813.8L1095.5 823.6L1087.8 830.8ZM1089.6 810.2L1097.1 802.8L1106.6 812.4L1099.1 819.8ZM1100.8 799.2L1108 791.6L1117.8 800.9L1110.6 808.5ZM1113.1 786L1120.1 778.2L1130.1 787.3L1123.1 795ZM1125.5 772.3L1132.3 764.4L1142.5 773.2L1135.7 781.1ZM1136.6 759.1L1143.2 751L1153.6 759.5L1147 767.6ZM1146.4 747L1152.9 738.7L1163.6 747L1157.1 755.3ZM1157 733.2L1163.4 724.9L1174.2 733L1167.8 741.4ZM1167.8 718.8L1174.2 710.4L1185 718.5L1178.6 726.9ZM1177.3 706.5L1183.5 698L1194.3 706L1188.1 714.5ZM1187 693.1L1193 684.5L1204 692.3L1198 700.9ZM1196.3 679.6L1202.2 670.9L1213.3 678.6L1207.4 687.2ZM1205.8 666L1211.7 657.3L1222.8 664.9L1216.9 673.6ZM1215.5 651.7L1221.2 642.9L1232.5 650.3L1226.8 659.1ZM1224.3 638L1230.1 629.2L1241.3 636.7L1235.5 645.5ZM1233 625.1L1238.9 616.4L1250 624L1244.1 632.7Z" fill="#0000f0"/>
<text x="1500" y="843.5" font-size="28" fill="#0000c8">Eclipse</text>
<path d="M1612 834.5H1762" stroke="#0000f0" stroke-width="13" stroke-dasharray="10 4" fill="none"/>
<text x="1499" y="884.5" font-size="28" fill="#000">One Minute Average</text>
<text x="1499" y="926.5" font-size="28" fill="#10e010">One Second Average</text>
<path d="M260 975.5H1810.5M260 980.5H1810.5M260 984.5H1810.5M260 988.5H1810.5M260 990.5H1810.5M260 993.5H1810.5M260 995.5H1810.5M260 1011.5H1810.5M260 1020.5H1810.5M260 1026.5H1810.5M260 1031.5H1810.5M260 1035.5H1810.5M260 1039.5H1810.5M260 1041.5H1810.5M260 1044.5H1810.5M260 1046.5H1810.5M260 1062.5H1810.5M260 1071.5H1810.5M260 1077.5H1810.5M260 1082.5H1810.5M260 1086.5H1810.5M260 1090.5H1810.5M260 1092.5H1810.5M260 1095.5H1810.5M260 1097.5H1810.5M260 1113.5H1810.5" stroke="#000" stroke-width="1" stroke-dasharray="1 4" fill="none" shape-rendering="crispEdges"/><path d="M440.5 972.5V1121.5M620.5 972.5V1121.5M801.5 972.5V1121.5M983.5 972.5V1121.5M1164.5 972.5V1121.5M1449.5 972.5V1121.5M1629.5 972.5V1121.5" stroke="#000" stroke-width="1" stroke-dasharray="1 4" fill="none" shape-rendering="crispEdges"/>
<path d="M259.5 975.5H267.5M1810.5 975.5H1802.5M259.5 980.5H267.5M1810.5 980.5H1802.5M259.5 984.5H267.5M1810.5 984.5H1802.5M259.5 988.5H267.5M1810.5 988.5H1802.5M259.5 990.5H267.5M1810.5 990.5H1802.5M259.5 993.5H267.5M1810.5 993.5H1802.5M259.5 995.5H275.5M1810.5 995.5H1794.5M259.5 1011.5H267.5M1810.5 1011.5H1802.5M259.5 1020.5H267.5M1810.5 1020.5H1802.5M259.5 1026.5H267.5M1810.5 1026.5H1802.5M259.5 1031.5H267.5M1810.5 1031.5H1802.5M259.5 1035.5H267.5M1810.5 1035.5H1802.5M259.5 1039.5H267.5M1810.5 1039.5H1802.5M259.5 1041.5H267.5M1810.5 1041.5H1802.5M259.5 1044.5H267.5M1810.5 1044.5H1802.5M259.5 1046.5H275.5M1810.5 1046.5H1794.5M259.5 1062.5H267.5M1810.5 1062.5H1802.5M259.5 1071.5H267.5M1810.5 1071.5H1802.5M259.5 1077.5H267.5M1810.5 1077.5H1802.5M259.5 1082.5H267.5M1810.5 1082.5H1802.5M259.5 1086.5H267.5M1810.5 1086.5H1802.5M259.5 1090.5H267.5M1810.5 1090.5H1802.5M259.5 1092.5H267.5M1810.5 1092.5H1802.5M259.5 1095.5H267.5M1810.5 1095.5H1802.5M259.5 1097.5H275.5M1810.5 1097.5H1794.5M259.5 1113.5H267.5M1810.5 1113.5H1802.5M440.5 1121.5V1105.5M440.5 969.5V985.5M620.5 1121.5V1105.5M620.5 969.5V985.5M801.5 1121.5V1105.5M801.5 969.5V985.5M983.5 1121.5V1105.5M983.5 969.5V985.5M1164.5 1121.5V1105.5M1164.5 969.5V985.5M1449.5 1121.5V1105.5M1449.5 969.5V985.5M1629.5 1121.5V1105.5M1629.5 969.5V985.5M1810.5 1121.5V1105.5M1810.5 969.5V985.5" stroke="#000" stroke-width="1.2" fill="none" shape-rendering="crispEdges"/>
<path d="M1305.5 1069v2M1305.5 1045v6M1305.5 1035v6M1305.5 1007v24M1305.5 1003v2M1305.5 999v2M1305.5 987v2M1305.5 983v2M1305.5 979v2M1305.5 970v1" stroke="#00009a" stroke-width="1" fill="none" shape-rendering="crispEdges"/>
<path d="M706 1051v2M706 1043v2M706 1037v2M706 1023v6M706 1011v10M706 1001v6M706 995v2M706 989v4M706 981v6M706 975v2M706 971v2M708 1039v2M708 1023v6M708 1009v10M708 997v10M708 991v2M708 985v2M708 971v6M710 1087v4M710 1037v2M710 1031v2M710 1027v2M710 1013v6M710 1009v2M710 1003v4M710 977v14M710 971v2M712 1029v6M712 1023v2M712 1009v8M712 1003v2M712 999v2M712 979v16M712 971v6M714 1079v3M714 1025v6M714 1013v4M714 997v12M714 989v2M714 983v2M714 977v2M714 971v4M716 1047v2M716 1031v2M716 1021v4M716 1015v4M716 1007v2M716 1003v2M716 995v6M716 973v20M716 970v1M718 1037v6M718 1029v6M718 1009v14M718 1001v4M718 970v29M720 1023v10M720 1019v2M720 1009v4M720 1001v4M720 997v2M720 989v6M720 985v2M720 975v6M722 1049v2M722 1033v2M722 1029v2M722 1023v2M722 1019v2M722 1013v2M722 993v18M722 989v2M722 983v2M722 971v6M724 1045v2M724 1033v2M724 1029v2M724 1023v4M724 1017v2M724 1003v12M724 997v4M724 975v18M724 970v1M726 1053v4M726 1043v2M726 1025v8M726 1009v6M726 1005v2M726 995v6M726 979v12M726 971v6M728 1031v2M728 1027v2M728 1017v6M728 1007v6M728 997v8M728 983v4M728 977v2M728 970v5M730 1055v2M730 1043v6M730 1031v2M730 1025v2M730 1017v6M730 1003v6M730 991v8M730 987v2M730 971v6M732 1043v2M732 1025v8M732 1017v6M732 1011v4M732 1001v4M732 987v8M732 983v2M732 979v2M732 973v4M734 1017v4M734 1011v4M734 1007v2M734 1003v2M734 993v8M734 987v2M734 975v10M734 970v3M736 1033v2M736 1027v2M736 1023v2M736 1019v2M736 1009v8M736 1001v6M736 995v4M736 971v20M738 1019v8M738 1011v2M738 1005v4M738 1001v2M738 997v2M738 991v2M738 985v2M738 981v2M738 975v4M738 970v3M740 1049v2M740 1029v2M740 1021v6M740 1009v6M740 1003v2M740 999v2M740 993v2M740 981v10M740 975v4M740 970v3M742 1025v2M742 1017v6M742 1009v2M742 1003v4M742 991v2M742 983v2M742 975v4M742 971v2M744 1039v2M744 1023v6M744 1009v12M744 1003v4M744 999v2M744 989v6M744 985v2M744 979v4M744 975v2M744 970v3M746 1037v2M746 1033v2M746 1023v2M746 1015v6M746 1003v6M746 993v4M746 985v4M746 977v6M746 970v3M748 1015v4M748 997v4M748 991v4M748 979v6M748 975v2M748 970v1M750 1037v2M750 1031v2M750 1019v6M750 1011v4M750 1003v6M750 995v2M750 991v2M750 987v2M750 973v8M750 970v1M752 1079v3M752 1037v4M752 1025v8M752 1019v4M752 1013v2M752 997v2M752 993v2M752 989v2M752 970v17M754 1045v2M754 1027v2M754 1023v2M754 1017v2M754 1007v8M754 995v6M754 987v2M754 973v10M756 1029v2M756 1023v4M756 1011v6M756 999v6M756 989v8M756 985v2M756 981v2M756 975v4M756 971v2M758 1023v2M758 1011v4M758 1003v2M758 991v4M758 987v2M758 971v8M760 1033v2M760 1027v2M760 1009v12M760 995v12M760 989v4M760 973v12M762 1107v15M762 1065v17M762 1061v2M762 1049v8M762 1041v6M762 1031v8M762 1019v8M762 1011v2M762 1005v2M762 999v4M762 989v6M762 970v17M764 1098v24M764 1087v4M764 1069v7M764 1059v6M764 1047v10M764 1041v4M764 1031v8M764 1021v8M764 1017v2M764 1013v2M764 997v14M764 987v4M764 983v2M764 979v2M764 975v2M764 970v3M766 1037v2M766 1025v2M766 1021v2M766 1015v4M766 995v18M766 987v2M766 983v2M766 979v2M766 970v5M768 1107v15M768 1079v19M768 1071v5M768 1065v4M768 1059v4M768 1055v2M768 1033v18M768 1027v4M768 1023v2M768 1015v4M768 1009v4M768 997v8M768 983v4M768 970v9M770 1069v2M770 1039v2M770 1009v26M770 999v8M770 973v24M770 970v1M772 1076v3M772 1069v2M772 1059v4M772 1049v6M772 1039v2M772 1031v2M772 1023v2M772 1019v2M772 1013v4M772 1007v4M772 995v8M772 983v10M772 970v9M774 1107v15M774 1079v8M774 1067v9M774 1061v2M774 1045v14M774 1029v14M774 1019v6M774 1013v4M774 1007v4M774 999v4M774 995v2M774 970v19M776 1091v31M776 1074v13M776 1055v16M776 1045v8M776 1035v8M776 1031v2M776 1025v4M776 1021v2M776 1011v8M776 999v10M776 995v2M776 985v8M776 979v2M776 971v4M778 1091v16M778 1082v5M778 1069v10M778 1051v16M778 1031v18M778 1025v4M778 1019v4M778 1011v4M778 1007v2M778 1003v2M778 993v8M778 989v2M778 977v10M778 970v5M780 1055v2M780 1049v2M780 1029v6M780 1021v4M780 1015v2M780 1011v2M780 1005v4M780 983v16M780 979v2M780 975v2M780 970v3M782 1091v7M782 1074v8M782 1069v2M782 1063v2M782 1059v2M782 1051v4M782 1047v2M782 1033v4M782 1027v4M782 1023v2M782 1019v2M782 1011v4M782 991v16M782 979v8M782 973v4M782 970v1M784 1067v2M784 1059v2M784 1055v2M784 1047v4M784 1037v8M784 1031v2M784 1013v14M784 995v8M784 987v4M784 979v2M784 970v3M786 1043v4M786 1039v2M786 1035v2M786 1025v4M786 1015v8M786 991v18M786 979v2M786 975v2M786 970v3M788 1076v3M788 1067v2M788 1049v4M788 1043v2M788 1011v30M788 1007v2M788 1001v2M788 995v2M788 989v4M788 985v2M788 981v2M788 970v9M790 1051v2M790 1047v2M790 1041v2M790 1031v6M790 1021v8M790 1013v6M790 1007v4M790 1003v2M790 989v8M790 981v4M790 971v6M792 1059v2M792 1053v2M792 1047v2M792 1023v4M792 1009v4M792 999v2M792 993v2M792 979v12M792 970v7M794 1074v13M794 1065v2M794 1055v6M794 1051v2M794 1047v2M794 1041v4M794 1029v10M794 1019v8M794 1013v2M794 1005v4M794 993v8M794 983v4M794 977v2M794 970v5M796 1079v3M796 1069v2M796 1057v6M796 1053v2M796 1037v2M796 1033v2M796 1025v2M796 1015v6M796 1007v6M796 1001v2M796 997v2M796 981v14M796 973v6M798 1057v2M798 1035v4M798 1029v2M798 1021v6M798 1015v2M798 1005v6M798 1001v2M798 993v6M798 989v2M798 985v2M798 979v2M798 970v5M800 1061v2M800 1053v2M800 1043v4M800 1035v2M800 1027v6M800 1023v2M800 1013v8M800 1007v4M800 981v20M800 973v4M802 1071v3M802 1047v2M802 1033v2M802 1021v2M802 1015v2M802 1007v6M802 1003v2M802 993v8M802 989v2M802 979v8M802 971v6M804 1074v5M804 1059v10M804 1049v8M804 1041v4M804 1035v2M804 1011v22M804 1003v6M804 999v2M804 991v4M804 979v10M804 973v4M806 1059v2M806 1029v4M806 1025v2M806 1015v6M806 1009v4M806 1003v4M806 995v4M806 989v4M806 975v8M806 970v3M808 1041v2M808 1029v4M808 1025v2M808 1017v4M808 1013v2M808 1007v4M808 1003v2M808 995v6M808 991v2M808 987v2M808 979v4M808 975v2M808 970v3M810 1041v2M810 1031v2M810 1021v2M810 1017v2M810 1005v6M810 1001v2M810 995v4M810 983v10M810 977v2M810 971v4M812 1053v2M812 1033v4M812 1029v2M812 1019v6M812 989v28M812 985v2M812 981v2M812 977v2M812 973v2M812 970v1M814 1057v2M814 1041v2M814 1031v6M814 1015v12M814 1005v4M814 995v2M814 987v2M814 981v4M814 973v2M816 1063v2M816 1051v2M816 1047v2M816 1037v2M816 1023v4M816 1015v4M816 1003v8M816 989v12M816 979v8M816 975v2M816 970v1M818 1053v2M818 1043v2M818 1039v2M818 1031v2M818 1019v6M818 1015v2M818 1007v4M818 999v4M818 995v2M818 987v4M818 973v6M820 1098v9M820 1059v2M820 1047v6M820 1037v6M820 1033v2M820 1021v10M820 1013v4M820 997v14M820 991v4M820 987v2M820 977v4M820 971v4M822 1049v2M822 1035v2M822 1027v4M822 1021v4M822 1015v4M822 1001v10M822 989v8M822 981v2M822 975v2M824 1074v2M824 1061v2M824 1049v2M824 1043v4M824 1031v10M824 1027v2M824 1021v4M824 1011v8M824 1007v2M824 999v4M824 989v8M824 975v10M826 1029v6M826 1017v6M826 1005v8M826 993v8M826 989v2M826 981v2M826 970v9M828 1065v2M828 1057v2M828 1049v2M828 1041v4M828 1029v4M828 1013v14M828 1005v4M828 997v6M828 991v2M828 983v4M828 975v6M828 970v3M830 1055v2M830 1041v2M830 1037v2M830 1029v2M830 1025v2M830 1017v6M830 1003v12M830 999v2M830 991v4M830 983v6M830 975v6M832 1107v15M832 1087v11M832 1071v8M832 1059v10M832 1043v2M832 1037v2M832 1033v2M832 1029v2M832 1015v12M832 991v10M832 985v2M832 973v4M832 970v1M834 1067v2M834 1059v2M834 1051v2M834 1035v6M834 1029v4M834 1023v2M834 1019v2M834 1001v16M834 995v2M834 985v8M834 981v2M834 977v2M834 973v2M834 970v1M836 1079v3M836 1059v4M836 1045v6M836 1041v2M836 1037v2M836 1033v2M836 1021v10M836 1015v4M836 1003v10M836 999v2M836 995v2M836 981v10M836 970v9M838 1087v4M838 1067v2M838 1059v4M838 1051v6M838 1047v2M838 1037v8M838 1031v4M838 1023v6M838 1015v6M838 1005v8M838 1001v2M838 991v2M838 983v6M838 970v11M840 1039v2M840 1035v2M840 1031v2M840 1023v6M840 1015v6M840 1005v8M840 991v12M840 981v2M840 975v4M840 970v3M842 1057v2M842 1045v2M842 1037v2M842 1031v2M842 1023v4M842 1015v2M842 1007v4M842 1001v4M842 995v2M842 991v2M842 970v17M844 1031v4M844 1019v8M844 1011v6M844 1003v4M844 975v24M844 971v2M846 1065v2M846 1051v2M846 1043v4M846 1039v2M846 1029v8M846 1025v2M846 1017v6M846 1013v2M846 1007v4M846 999v6M846 985v4M846 971v12M848 1067v4M848 1061v2M848 1053v6M848 1045v4M848 1029v12M848 1015v10M848 1003v8M848 997v4M848 985v10M848 979v4M848 970v7M850 1067v4M850 1063v2M850 1055v6M850 1049v2M850 1043v4M850 1035v6M850 1027v4M850 1023v2M850 1017v2M850 999v14M850 993v4M850 987v2M850 973v2M850 970v1M852 1061v2M852 1035v12M852 1027v6M852 1019v6M852 1011v4M852 1007v2M852 1001v2M852 993v6M852 985v6M852 975v6M852 970v1M854 1043v2M854 1035v2M854 1029v2M854 1025v2M854 1021v2M854 1015v2M854 1007v6M854 999v2M854 991v6M854 970v19M856 1055v2M856 1047v4M856 1039v4M856 1033v2M856 1001v30M856 997v2M856 983v12M856 971v8M858 1098v9M858 1059v2M858 1047v2M858 1037v6M858 1023v10M858 1017v4M858 1005v10M858 995v8M858 987v6M858 983v2M858 975v6M858 970v3M860 1076v3M860 1061v2M860 1045v8M860 1033v8M860 1027v2M860 1017v8M860 1003v8M860 997v4M860 991v4M860 985v4M860 977v6M860 970v1M862 1079v3M862 1033v2M862 1029v2M862 1023v4M862 1019v2M862 1013v2M862 1009v2M862 1003v4M862 999v2M862 991v6M862 987v2M862 983v2M862 975v4M862 971v2M864 1053v2M864 1035v2M864 1031v2M864 1021v6M864 1015v2M864 1009v4M864 997v10M864 993v2M864 989v2M864 985v2M864 981v2M864 973v2M864 970v1M866 1019v8M866 1015v2M866 1009v2M866 1003v2M866 993v6M866 989v2M866 975v12M868 1059v2M868 1033v2M868 1027v2M868 1019v6M868 1005v2M868 999v4M868 987v10M868 970v15M870 1053v4M870 1049v2M870 1043v2M870 1031v8M870 1019v8M870 1013v2M870 1003v8M870 995v4M870 991v2M870 987v2M870 975v10M870 970v1M872 1041v2M872 1031v2M872 1019v8M872 1015v2M872 1011v2M872 1007v2M872 999v6M872 991v2M872 983v4M872 975v6M872 970v1M874 1021v2M874 1009v10M874 1001v4M874 983v8M874 979v2M874 970v3M876 1087v4M876 1065v6M876 1057v6M876 1051v2M876 1043v4M876 1037v4M876 1017v18M876 1013v2M876 1005v4M876 997v6M876 981v12M876 970v9M878 1074v2M878 1059v2M878 1039v4M878 1035v2M878 1013v20M878 1009v2M878 999v8M878 995v2M878 981v12M878 975v4M878 970v3M880 1053v2M880 1037v4M880 1031v2M880 1027v2M880 1013v12M880 1007v4M880 1003v2M880 993v6M880 989v2M880 983v4M880 971v6M882 1019v4M882 1013v4M882 1009v2M882 1005v2M882 999v4M882 995v2M882 989v2M882 981v6M882 971v8M884 1053v2M884 1041v2M884 1037v2M884 1033v2M884 1027v2M884 1023v2M884 1019v2M884 1009v2M884 993v12M884 973v18M884 970v1M886 1065v2M886 1059v2M886 1053v2M886 1029v20M886 1015v10M886 1005v4M886 1001v2M886 993v6M886 985v6M886 975v6M886 971v2M888 1069v2M888 1043v2M888 1033v4M888 1029v2M888 1023v4M888 1019v2M888 1015v2M888 1011v2M888 993v16M888 985v6M888 981v2M888 975v2M888 970v3M890 1041v2M890 1037v2M890 1019v16M890 1011v6M890 1007v2M890 1003v2M890 997v4M890 991v4M890 987v2M890 970v15M892 1039v2M892 1033v4M892 1027v4M892 1023v2M892 1017v4M892 1009v4M892 1001v6M892 987v8M892 977v2M892 973v2M894 1039v2M894 1033v2M894 1027v2M894 1017v8M894 1007v8M894 1003v2M894 997v2M894 993v2M894 985v2M894 973v10M894 970v1M896 1047v2M896 1041v2M896 1029v8M896 1023v2M896 1017v2M896 1003v12M896 999v2M896 985v10M896 977v6M896 970v5M898 1039v2M898 1033v2M898 1019v8M898 1011v4M898 1007v2M898 1003v2M898 995v6M898 987v2M898 983v2M898 975v4M898 971v2M900 1053v2M900 1043v4M900 1037v2M900 1031v4M900 1019v10M900 1013v4M900 1007v4M900 1001v2M900 993v4M900 987v2M900 975v2M900 970v1M902 1047v4M902 1039v4M902 1035v2M902 1029v4M902 1015v10M902 1007v2M902 997v8M902 989v6M902 981v4M902 973v4M902 970v1M904 1065v2M904 1039v2M904 1035v2M904 1027v2M904 1023v2M904 1017v2M904 1013v2M904 1005v6M904 999v2M904 989v8M904 971v12M906 1063v2M906 1041v4M906 1035v2M906 1025v6M906 1015v8M906 1001v10M906 997v2M906 993v2M906 989v2M906 981v6M906 975v2M906 970v3M908 1051v2M908 1047v2M908 1037v2M908 1027v2M908 1017v8M908 1009v2M908 999v6M908 987v10M908 981v4M908 977v2M908 970v5M910 1059v2M910 1053v2M910 1039v4M910 1031v2M910 1023v2M910 1011v8M910 1005v2M910 999v2M910 993v4M910 987v4M910 983v2M910 979v2M910 975v2M910 970v3M912 1031v2M912 1017v2M912 1013v2M912 1009v2M912 1005v2M912 997v6M912 991v2M912 983v2M912 975v2M912 971v2M914 1061v2M914 1045v2M914 1037v2M914 1031v2M914 1021v6M914 1011v4M914 995v14M914 991v2M914 981v2M914 977v2M914 970v1M916 1027v4M916 1013v6M916 1001v8M916 993v4M916 983v6M916 975v2M918 1031v2M918 1019v6M918 1013v4M918 1005v4M918 1001v2M918 993v6M918 979v12M918 971v6M920 1049v2M920 1005v10M920 997v4M920 989v4M920 985v2M920 981v2M920 977v2M920 970v5M922 1033v2M922 1029v2M922 1025v2M922 1017v4M922 1011v2M922 1003v4M922 989v12M922 983v2M922 977v4M924 1015v4M924 1005v6M924 1001v2M924 997v2M924 991v4M924 987v2M924 981v4M924 970v1M926 1037v2M926 1027v2M926 1019v2M926 1009v6M926 999v8M926 989v4M926 985v2M926 970v7M928 1015v8M928 1011v2M928 1007v2M928 999v6M928 991v2M928 979v4M928 975v2M928 970v3M930 1015v2M930 1009v2M930 1003v4M930 999v2M930 991v6M930 983v6M930 977v4M930 970v1M932 1041v2M932 1033v2M932 1025v4M932 1017v4M932 1007v6M932 995v4M932 989v2M932 983v2M932 979v2M932 971v4M934 1047v2M934 1037v2M934 1029v2M934 1019v2M934 1005v4M934 995v4M934 983v10M934 971v6M936 1063v2M936 1031v2M936 1027v2M936 1013v4M936 1005v2M936 997v2M936 985v10M936 977v2M936 970v1M938 1053v2M938 1037v2M938 1033v2M938 1011v18M938 1001v6M938 995v4M938 987v4M938 981v4M938 970v3M940 1033v2M940 1021v10M940 1013v4M940 1005v6M940 999v2M940 995v2M940 989v4M940 981v6M940 973v2M942 1019v4M942 1009v6M942 1005v2M942 991v12M942 987v2M942 973v4M942 970v1M944 1029v2M944 1023v4M944 1007v10M944 1001v2M944 991v2M944 981v8M944 973v6M944 970v1M946 1047v2M946 1025v6M946 1019v2M946 1009v8M946 1003v4M946 991v8M946 981v2M946 975v2M946 970v1M948 1017v4M948 1009v2M948 1003v4M948 995v6M948 989v2M948 977v10M948 970v5M950 1029v2M950 1025v2M950 1011v4M950 999v6M950 991v4M950 985v2M950 971v4M952 1037v2M952 1023v2M952 1013v6M952 1005v6M952 999v4M952 995v2M952 987v6M952 981v2M952 975v2M952 970v3M954 1031v2M954 1017v4M954 1007v8M954 1003v2M954 985v12M954 977v4M954 973v2M956 1011v6M956 1005v2M956 995v8M956 989v4M956 985v2M956 979v4M956 970v7M958 1017v4M958 999v12M958 995v2M958 985v8M958 979v2M958 973v2M960 1029v2M960 1023v2M960 1015v2M960 1011v2M960 1007v2M960 995v8M960 987v6M960 983v2M960 977v4M960 970v5M962 1035v2M962 1027v2M962 1017v6M962 1013v2M962 1009v2M962 999v2M962 995v2M962 985v2M962 977v2M964 1023v4M964 1015v2M964 1009v2M964 1001v6M964 995v4M964 985v8M964 981v2M964 975v4M964 971v2M966 1033v2M966 1017v2M966 1009v6M966 1005v2M966 999v4M966 993v2M966 989v2M966 983v4M966 979v2M966 970v7M968 1031v2M968 1025v2M968 1013v6M968 1005v6M968 997v6M968 993v2M968 987v2M968 983v2M968 973v6M968 970v1M970 1025v2M970 1013v8M970 1009v2M970 1001v2M970 995v4M970 981v8M970 977v2M970 971v2M972 1023v2M972 1015v2M972 1009v2M972 1005v2M972 991v6M972 983v6M972 971v8M974 1033v4M974 1021v4M974 1017v2M974 1007v6M974 997v2M974 991v2M974 987v2M974 973v12M976 1031v2M976 999v16M976 993v4M976 987v4M976 977v4M976 973v2M978 1027v4M978 1015v6M978 1009v2M978 1001v6M978 991v4M978 985v2M978 977v4M978 970v1M980 1027v2M980 1017v4M980 1007v4M980 999v2M980 995v2M980 987v6M980 979v4M980 975v2M980 970v1M982 1074v2M982 1039v2M982 1035v2M982 1027v2M982 1009v8M982 1003v4M982 997v4M982 989v2M982 985v2M982 975v8M982 971v2M984 1033v2M984 1011v4M984 1007v2M984 1003v2M984 997v4M984 989v2M984 983v2M984 979v2M984 975v2M986 1051v2M986 1023v6M986 1019v2M986 1009v6M986 1003v4M986 995v6M986 989v4M986 985v2M986 977v6M986 973v2M988 1033v2M988 1029v2M988 1007v4M988 1003v2M988 985v4M988 979v4M988 973v4M990 1037v2M990 1021v6M990 1009v10M990 1003v2M990 997v4M990 985v2M990 981v2M990 970v3M992 1041v2M992 1035v2M992 1023v6M992 1015v6M992 1009v2M992 1003v2M992 999v2M992 993v2M992 989v2M992 985v2M992 973v10M994 1027v4M994 1019v2M994 1015v2M994 1007v4M994 997v4M994 989v4M994 981v6M994 975v2M994 970v3M996 1065v2M996 1019v2M996 1015v2M996 1003v6M996 999v2M996 993v2M996 977v4M996 970v1M998 1047v2M998 1017v6M998 1013v2M998 1003v2M998 991v8M998 985v2M998 977v6M998 973v2M998 970v1M1000 1049v2M1000 1029v4M1000 1017v6M1000 1013v2M1000 1007v4M1000 999v4M1000 995v2M1000 981v10M1000 970v1M1002 1027v2M1002 1017v6M1002 1009v6M1002 1005v2M1002 995v4M1002 991v2M1002 981v6M1002 973v4M1002 970v1M1004 1039v2M1004 1025v6M1004 999v22M1004 991v4M1004 987v2M1004 981v2M1004 977v2M1006 1019v2M1006 1009v6M1006 1005v2M1006 1001v2M1006 991v6M1006 981v4M1008 1017v2M1008 1011v4M1008 1007v2M1008 1001v2M1008 989v2M1008 979v4M1008 970v7M1010 1047v2M1010 1033v4M1010 1027v2M1010 1021v4M1010 1015v2M1010 1005v4M1010 1001v2M1010 995v4M1010 991v2M1010 981v6M1010 971v4M1012 1017v2M1012 1003v12M1012 997v2M1012 983v8M1012 979v2M1012 975v2M1014 1039v2M1014 1031v4M1014 1007v10M1014 999v6M1014 993v4M1014 987v4M1014 983v2M1014 979v2M1014 973v2M1016 1033v2M1016 1019v4M1016 1015v2M1016 1009v2M1016 999v8M1016 995v2M1016 983v10M1016 977v2M1016 970v5M1018 1019v2M1018 1015v2M1018 1011v2M1018 1007v2M1018 1001v2M1018 987v2M1018 979v2M1018 973v4M1020 1041v2M1020 1029v6M1020 1025v2M1020 1017v2M1020 999v12M1020 995v2M1020 987v2M1020 977v2M1020 970v5M1022 1027v2M1022 1023v2M1022 1017v4M1022 1009v6M1022 999v4M1022 995v2M1022 977v6M1022 970v1M1024 1031v2M1024 1011v8M1024 1003v6M1024 993v6M1024 987v4M1024 981v4M1024 975v4M1024 971v2M1026 1013v2M1026 1007v2M1026 1003v2M1026 999v2M1026 993v2M1026 985v6M1026 975v6M1026 971v2M1028 1029v2M1028 1023v2M1028 1019v2M1028 1009v8M1028 1003v4M1028 999v2M1028 993v4M1028 979v6M1028 973v2M1028 970v1M1030 1041v2M1030 1029v2M1030 1023v2M1030 1013v4M1030 1003v8M1030 997v4M1030 993v2M1030 985v4M1030 979v4M1030 971v4M1032 1019v4M1032 1011v4M1032 1007v2M1032 999v4M1032 995v2M1032 989v4M1032 970v11M1034 1059v2M1034 1035v2M1034 1019v2M1034 1011v4M1034 997v8M1034 993v2M1034 981v6M1034 973v2M1034 970v1M1036 1061v2M1036 1019v6M1036 1009v6M1036 1003v4M1036 997v2M1036 987v2M1036 977v2M1036 970v5M1038 1023v4M1038 1017v4M1038 1009v6M1038 993v10M1038 985v4M1038 973v8M1038 970v1M1040 1021v2M1040 1009v8M1040 1005v2M1040 995v6M1040 985v6M1040 975v6M1040 970v1M1042 1031v2M1042 1027v2M1042 1013v8M1042 1003v2M1042 997v2M1042 989v4M1042 979v8M1042 971v2M1044 1047v2M1044 1031v2M1044 1013v2M1044 1009v2M1044 1003v2M1044 999v2M1044 991v6M1044 985v2M1044 981v2M1046 1019v2M1046 1013v4M1046 1009v2M1046 1001v6M1046 989v8M1046 979v8M1046 973v4M1048 1027v2M1048 1021v4M1048 1013v4M1048 1009v2M1048 1003v4M1048 991v8M1048 985v2M1048 979v4M1048 975v2M1050 1021v4M1050 1007v2M1050 1003v2M1050 993v8M1050 985v4M1050 977v6M1050 970v5M1052 1041v2M1052 1011v6M1052 1007v2M1052 1003v2M1052 999v2M1052 987v10M1052 981v4M1052 977v2M1052 973v2M1052 970v1M1054 1021v2M1054 1017v2M1054 1013v2M1054 1005v4M1054 999v2M1054 993v2M1054 987v4M1054 979v4M1054 971v6M1056 1027v2M1056 1017v4M1056 1011v4M1056 1003v4M1056 993v8M1056 981v4M1056 970v9M1058 1053v2M1058 1025v2M1058 1015v8M1058 1005v6M1058 983v4M1058 971v4M1060 1025v2M1060 1021v2M1060 1009v10M1060 1003v2M1060 991v2M1060 983v2M1060 977v2M1060 971v4M1062 1033v2M1062 1021v2M1062 1011v2M1062 1005v4M1062 997v4M1062 987v8M1062 983v2M1062 979v2M1062 970v1M1064 1047v2M1064 1031v4M1064 1023v6M1064 1019v2M1064 1015v2M1064 1005v4M1064 1001v2M1064 997v2M1064 993v2M1064 987v4M1064 977v6M1066 1041v4M1066 1031v2M1066 1025v2M1066 1011v12M1066 1001v4M1066 995v4M1066 985v8M1066 970v11M1068 1029v2M1068 1023v2M1068 1013v4M1068 1001v10M1068 997v2M1068 991v4M1068 979v4M1068 970v1M1070 1037v2M1070 1025v4M1070 1013v4M1070 1003v8M1070 999v2M1070 995v2M1070 985v8M1070 981v2M1070 977v2M1070 973v2M1070 970v1M1072 1041v2M1072 1035v2M1072 1019v4M1072 1011v4M1072 999v10M1072 993v2M1072 985v6M1072 970v13M1074 1031v2M1074 1015v14M1074 1009v4M1074 985v20M1074 979v4M1074 975v2M1074 970v1M1076 1039v4M1076 1029v2M1076 1021v6M1076 1013v4M1076 1001v6M1076 991v4M1076 987v2M1076 981v2M1076 973v4M1078 1021v10M1078 999v16M1078 989v4M1078 985v2M1078 975v4M1078 970v3M1080 1033v6M1080 1029v2M1080 1013v10M1080 1003v4M1080 993v8M1080 985v2M1080 977v4M1080 970v3M1082 1033v2M1082 1021v8M1082 1013v4M1082 1003v4M1082 995v2M1082 983v10M1082 977v2M1082 970v5M1084 1045v2M1084 1041v2M1084 1033v4M1084 1019v12M1084 1013v4M1084 1007v4M1084 995v2M1084 989v2M1084 985v2M1084 979v4M1084 970v7M1086 1027v2M1086 1023v2M1086 1017v2M1086 1013v2M1086 1003v6M1086 999v2M1086 993v4M1086 989v2M1086 973v14M1086 970v1M1088 1033v2M1088 1015v10M1088 1003v8M1088 981v20M1088 970v9M1090 1055v2M1090 1033v2M1090 1023v4M1090 1019v2M1090 1009v4M1090 1005v2M1090 993v2M1090 979v8M1090 975v2M1090 970v3M1092 1039v2M1092 1009v18M1092 1001v6M1092 997v2M1092 989v2M1092 985v2M1092 973v8M1094 1059v2M1094 1051v2M1094 1031v4M1094 1025v4M1094 1013v4M1094 985v18M1094 979v2M1094 970v7M1096 1019v4M1096 1007v2M1096 1003v2M1096 997v4M1096 993v2M1096 987v4M1096 981v4M1096 970v9M1098 1031v2M1098 1025v2M1098 1021v2M1098 1017v2M1098 1003v12M1098 997v4M1098 991v4M1098 983v6M1098 977v2M1098 970v5M1100 1037v2M1100 1027v2M1100 1015v2M1100 1009v4M1100 1003v4M1100 987v8M1100 971v8M1102 1031v2M1102 1023v2M1102 1019v2M1102 1015v2M1102 999v12M1102 987v8M1102 977v6M1102 973v2M1102 970v1M1104 1031v2M1104 1021v2M1104 1013v2M1104 1005v4M1104 991v2M1104 979v8M1104 971v2M1106 1031v2M1106 1013v6M1106 1009v2M1106 1003v2M1106 997v4M1106 991v2M1106 985v4M1106 970v3M1108 1023v4M1108 1013v2M1108 1005v4M1108 989v4M1108 983v4M1108 975v6M1108 970v1M1110 1027v2M1110 1021v4M1110 1015v2M1110 1005v8M1110 989v12M1110 985v2M1110 981v2M1110 975v4M1110 970v3M1112 1043v2M1112 1021v4M1112 1011v2M1112 1003v6M1112 997v2M1112 991v4M1112 985v4M1112 981v2M1112 970v9M1114 1041v2M1114 1019v2M1114 1013v4M1114 1009v2M1114 1005v2M1114 997v6M1114 989v4M1114 981v6M1114 975v2M1116 1019v2M1116 1009v4M1116 1003v4M1116 999v2M1116 991v2M1116 985v2M1116 973v10M1118 1033v2M1118 1015v2M1118 1011v2M1118 1007v2M1118 1001v2M1118 989v6M1118 975v4M1118 970v1M1120 1039v2M1120 1033v2M1120 1021v2M1120 999v14M1120 993v2M1120 985v4M1120 977v6M1122 1035v2M1122 1023v2M1122 1013v2M1122 999v12M1122 993v4M1122 987v4M1122 979v4M1122 971v4M1124 1029v4M1124 1019v4M1124 1003v12M1124 997v4M1124 985v6M1124 970v13M1126 1025v2M1126 1013v4M1126 1009v2M1126 1001v6M1126 993v4M1126 989v2M1126 983v2M1126 973v2M1128 1029v2M1128 1025v2M1128 1021v2M1128 1015v2M1128 1009v2M1128 1001v2M1128 989v8M1128 985v2M1128 981v2M1128 975v4M1128 970v3M1130 1043v2M1130 1039v2M1130 1025v4M1130 1017v6M1130 1011v2M1130 1003v6M1130 999v2M1130 993v4M1130 981v10M1130 971v6M1132 1027v4M1132 1021v2M1132 1017v2M1132 1011v4M1132 1003v2M1132 989v8M1132 981v6M1132 977v2M1132 970v3M1134 1023v4M1134 1013v2M1134 999v4M1134 991v4M1134 987v2M1134 983v2M1134 970v9M1136 1057v2M1136 1037v2M1136 1021v2M1136 1017v2M1136 1011v4M1136 1007v2M1136 1001v4M1136 995v4M1136 989v2M1136 981v4M1136 977v2M1136 971v2M1138 1053v2M1138 1023v2M1138 1013v6M1138 1009v2M1138 1001v6M1138 993v6M1138 989v2M1138 975v12M1138 970v3M1140 1025v4M1140 1017v4M1140 1007v4M1140 999v6M1140 991v4M1140 985v2M1140 977v6M1140 970v1M1142 1051v2M1142 1035v2M1142 1027v4M1142 1023v2M1142 1005v10M1142 993v8M1142 981v6M1142 977v2M1142 970v3M1144 1023v2M1144 1015v2M1144 1011v2M1144 1007v2M1144 1003v2M1144 991v4M1144 983v4M1144 977v4M1144 973v2M1144 970v1M1146 1029v2M1146 1023v2M1146 1011v6M1146 995v8M1146 985v8M1146 970v9M1148 1041v2M1148 1027v2M1148 1015v2M1148 1007v4M1148 997v8M1148 991v2M1148 981v4M1148 971v4M1150 1023v2M1150 1009v10M1150 1003v2M1150 995v6M1150 987v6M1150 975v4M1150 971v2M1152 1011v6M1152 1005v2M1152 991v6M1152 981v8M1152 977v2M1154 1035v2M1154 1031v2M1154 1027v2M1154 1021v2M1154 1013v6M1154 1009v2M1154 995v6M1154 981v2M1154 975v2M1154 970v3M1156 1039v2M1156 1035v2M1156 1027v2M1156 1017v8M1156 1011v4M1156 1007v2M1156 997v8M1156 993v2M1156 987v4M1156 981v2M1156 973v4M1156 970v1M1158 1027v2M1158 1019v4M1158 1013v4M1158 1009v2M1158 991v16M1158 985v4M1158 979v2M1158 971v6M1160 1037v2M1160 1033v2M1160 1029v2M1160 1023v2M1160 1019v2M1160 1015v2M1160 1011v2M1160 995v14M1160 989v4M1160 983v2M1160 970v5M1162 1031v2M1162 1021v2M1162 1017v2M1162 1013v2M1162 1005v2M1162 987v16M1162 983v2M1162 970v3M1164 1031v4M1164 1027v2M1164 1023v2M1164 1019v2M1164 1015v2M1164 1009v4M1164 1005v2M1164 995v8M1164 991v2M1164 981v2M1164 971v6M1166 1027v4M1166 1015v4M1166 1001v12M1166 985v2M1166 975v6M1166 970v3M1168 1031v2M1168 1021v4M1168 1015v4M1168 1007v2M1168 993v8M1168 977v14M1168 971v4M1170 1025v2M1170 1021v2M1170 1015v4M1170 1007v6M1170 1003v2M1170 995v4M1170 989v4M1170 985v2M1170 981v2M1170 975v4M1172 1023v2M1172 1015v4M1172 1009v2M1172 1001v6M1172 983v16M1172 977v2M1172 970v5M1174 1031v2M1174 1025v2M1174 1019v4M1174 1011v6M1174 1001v6M1174 995v2M1174 987v4M1174 977v6M1174 971v4M1176 1043v2M1176 1019v2M1176 1013v4M1176 1001v6M1176 995v2M1176 991v2M1176 979v10M1176 975v2M1176 970v3M1178 1015v2M1178 1005v6M1178 1001v2M1178 993v6M1178 989v2M1178 985v2M1178 975v6M1178 970v3M1180 1021v6M1180 1011v6M1180 1005v2M1180 997v2M1180 993v2M1180 985v6M1180 975v6M1180 971v2M1182 1025v2M1182 1021v2M1182 1015v4M1182 1007v2M1182 1003v2M1182 999v2M1182 995v2M1182 989v2M1182 985v2M1182 970v13M1184 1037v2M1184 1029v2M1184 1017v8M1184 1001v12M1184 995v4M1184 985v8M1184 981v2M1184 970v7M1186 1053v2M1186 1027v2M1186 1021v4M1186 1015v2M1186 1011v2M1186 1003v6M1186 995v4M1186 991v2M1186 981v4M1186 977v2M1186 970v1M1188 1015v12M1188 1003v10M1188 995v6M1188 989v2M1188 985v2M1188 977v4M1190 1031v2M1190 1025v2M1190 1015v8M1190 1005v8M1190 999v4M1190 991v2M1190 975v12M1190 970v3M1192 1019v4M1192 1005v12M1192 995v8M1192 987v4M1192 975v2M1194 1031v2M1194 1025v2M1194 1005v6M1194 999v4M1194 993v2M1194 983v4M1194 975v2M1194 970v3M1196 1039v2M1196 1019v10M1196 1009v6M1196 1005v2M1196 1001v2M1196 995v2M1196 987v4M1196 977v8M1196 973v2M1196 970v1M1198 1043v2M1198 1021v6M1198 1001v14M1198 997v2M1198 991v4M1198 983v2M1198 979v2M1198 973v2M1198 970v1M1200 1031v4M1200 1017v4M1200 1007v4M1200 997v2M1200 983v12M1200 970v5M1202 1027v4M1202 1015v8M1202 1003v6M1202 999v2M1202 993v4M1202 989v2M1202 971v16M1204 1035v2M1204 1009v16M1204 1005v2M1204 991v2M1204 983v6M1204 977v4M1204 970v3M1206 1019v6M1206 1013v2M1206 1003v4M1206 985v16M1206 977v6M1206 971v4M1208 1043v2M1208 1029v2M1208 1017v6M1208 1011v2M1208 1001v8M1208 997v2M1208 989v4M1208 979v8M1208 973v2M1210 1023v2M1210 1015v6M1210 1007v4M1210 981v24M1210 971v2M1212 1057v2M1212 1043v2M1212 1031v6M1212 1015v12M1212 1007v4M1212 999v2M1212 995v2M1212 989v4M1212 979v8M1212 971v6M1214 1051v2M1214 1045v2M1214 1041v2M1214 1031v6M1214 1021v8M1214 1011v8M1214 1005v4M1214 1001v2M1214 993v6M1214 971v18M1216 1087v20M1216 1076v6M1216 1069v5M1216 1061v6M1216 1043v16M1216 1039v2M1216 1027v10M1216 1021v4M1216 1011v4M1216 1001v4M1216 997v2M1216 989v4M1216 981v4M1216 975v4M1216 970v3M1218 1029v2M1218 1021v4M1218 1017v2M1218 1013v2M1218 995v16M1218 979v14M1220 1031v2M1220 1023v4M1220 1017v4M1220 1009v6M1220 1003v2M1220 999v2M1220 989v4M1220 983v2M1220 973v8M1220 970v1M1222 1033v4M1222 1027v2M1222 1015v6M1222 1009v2M1222 1001v4M1222 997v2M1222 993v2M1222 985v6M1222 975v8M1222 971v2M1224 1047v2M1224 1035v2M1224 1015v8M1224 999v10M1224 975v20M1224 970v1M1226 1043v4M1226 1039v2M1226 1035v2M1226 1031v2M1226 1027v2M1226 1021v2M1226 1005v12M1226 1001v2M1226 991v8M1226 977v12M1226 970v3M1228 1041v2M1228 1015v8M1228 1007v4M1228 1001v4M1228 993v6M1228 987v4M1228 975v6M1228 970v1M1230 1015v4M1230 1011v2M1230 1007v2M1230 993v2M1230 989v2M1230 975v12M1230 970v1M1232 1047v4M1232 1023v2M1232 1019v2M1232 1003v12M1232 999v2M1232 995v2M1232 989v2M1232 971v12M1234 1069v2M1234 1043v6M1234 1035v6M1234 1031v2M1234 1019v8M1234 1005v12M1234 1001v2M1234 997v2M1234 991v2M1234 979v6M1234 973v2M1236 1039v2M1236 1029v2M1236 1021v6M1236 1017v2M1236 1009v4M1236 995v10M1236 985v4M1236 975v8M1236 970v3M1238 1043v2M1238 1039v2M1238 1029v2M1238 1023v4M1238 1017v2M1238 1005v10M1238 999v4M1238 991v2M1238 983v6M1238 973v6M1238 970v1M1240 1045v2M1240 1025v4M1240 1015v8M1240 1007v2M1240 999v2M1240 985v12M1240 979v4M1240 971v6M1242 1055v2M1242 1047v2M1242 1037v2M1242 1019v14M1242 1015v2M1242 1009v4M1242 1001v4M1242 997v2M1242 991v2M1242 985v4M1242 970v9M1244 1035v2M1244 1029v2M1244 1013v14M1244 1007v2M1244 997v6M1244 987v6M1244 983v2M1244 971v8M1246 1047v2M1246 1035v4M1246 1029v4M1246 1025v2M1246 1015v8M1246 1005v4M1246 997v4M1246 991v4M1246 987v2M1246 983v2M1246 977v4M1246 973v2M1246 970v1M1248 1029v4M1248 1011v6M1248 1007v2M1248 997v4M1248 989v6M1248 979v4M1248 970v7M1250 1035v2M1250 1025v6M1250 1021v2M1250 1007v10M1250 999v6M1250 985v10M1250 977v6M1250 970v5M1252 1039v4M1252 1031v6M1252 1025v2M1252 1019v2M1252 1015v2M1252 1003v6M1252 989v6M1252 985v2M1252 973v8M1254 1076v3M1254 1055v2M1254 1047v2M1254 1041v2M1254 1035v2M1254 1031v2M1254 1025v2M1254 1019v2M1254 1013v4M1254 1009v2M1254 1003v2M1254 999v2M1254 975v8M1254 971v2M1256 1082v5M1256 1069v2M1256 1051v4M1256 1045v4M1256 1037v6M1256 1027v4M1256 1003v12M1256 989v12M1256 981v2M1256 973v6M1256 970v1M1258 1047v2M1258 1039v2M1258 1029v2M1258 1017v4M1258 995v16M1258 989v4M1258 979v8M1258 971v2M1260 1065v2M1260 1049v2M1260 1039v2M1260 1019v10M1260 1013v2M1260 1007v4M1260 1003v2M1260 999v2M1260 995v2M1260 981v6M1260 975v4M1260 970v3M1262 1065v2M1262 1055v4M1262 1051v2M1262 1039v4M1262 1035v2M1262 1027v6M1262 1019v6M1262 1009v2M1262 997v6M1262 993v2M1262 989v2M1262 981v2M1262 973v6M1262 970v1M1264 1071v3M1264 1041v2M1264 1035v2M1264 1023v6M1264 1015v6M1264 1007v6M1264 999v6M1264 993v2M1264 985v2M1264 970v13M1266 1049v2M1266 1043v2M1266 1033v4M1266 1023v2M1266 1015v4M1266 995v14M1266 991v2M1266 983v4M1266 979v2M1266 970v7M1268 1091v31M1268 1074v5M1268 1069v2M1268 1063v4M1268 1053v8M1268 1049v2M1268 1045v2M1268 1041v2M1268 1019v20M1268 1009v6M1268 1001v2M1268 997v2M1268 970v25M1270 1063v2M1270 1057v2M1270 1053v2M1270 1049v2M1270 1043v4M1270 1039v2M1270 1027v8M1270 1021v4M1270 1017v2M1270 1013v2M1270 1009v2M1270 1001v4M1270 995v2M1270 977v12M1270 970v5M1272 1069v2M1272 1065v2M1272 1057v2M1272 1043v12M1272 1039v2M1272 1031v4M1272 1027v2M1272 1023v2M1272 1013v8M1272 1007v2M1272 993v12M1272 979v6M1272 975v2M1274 1035v2M1274 1029v4M1274 1021v6M1274 1017v2M1274 1013v2M1274 1009v2M1274 1005v2M1274 999v4M1274 993v4M1274 975v16M1274 970v3M1276 1043v4M1276 1039v2M1276 1027v6M1276 1017v8M1276 983v26M1276 973v4M1276 970v1M1278 1061v18M1278 1049v6M1278 1045v2M1278 1041v2M1278 1027v10M1278 1021v4M1278 1003v16M1278 991v10M1278 979v8M1278 970v7M1280 1076v3M1280 1063v2M1280 1043v2M1280 1035v2M1280 1021v4M1280 989v28M1280 970v17M1282 1098v24M1282 1071v8M1282 1059v10M1282 1055v2M1282 1037v16M1282 1033v2M1282 1027v4M1282 1017v8M1282 1007v6M1282 1001v4M1282 995v2M1282 987v2M1282 981v4M1282 970v5M1284 1071v3M1284 1059v2M1284 1053v2M1284 1041v8M1284 1037v2M1284 1033v2M1284 1019v10M1284 1015v2M1284 1009v2M1284 1001v4M1284 995v2M1284 987v2M1284 983v2M1284 977v2M1284 973v2M1284 970v1M1286 1098v24M1286 1079v3M1286 1069v7M1286 1055v10M1286 1051v2M1286 1037v12M1286 1023v12M1286 1019v2M1286 1013v2M1286 1009v2M1286 1005v2M1286 993v4M1286 987v4M1286 981v2M1286 973v4M1288 1079v3M1288 1071v3M1288 1061v2M1288 1049v2M1288 1039v8M1288 1033v4M1288 1019v6M1288 1009v6M1288 1003v4M1288 989v8M1288 985v2M1288 981v2M1288 973v4M1290 1041v2M1290 1027v12M1290 1023v2M1290 1019v2M1290 1013v2M1290 1009v2M1290 989v14M1290 985v2M1290 979v2M1290 973v4M1290 970v1M1292 1069v2M1292 1051v2M1292 1021v6M1292 1011v6M1292 1003v6M1292 989v10M1292 979v2M1292 973v4M1292 970v1M1294 1055v2M1294 1049v2M1294 1043v2M1294 1027v8M1294 1019v6M1294 1013v4M1294 1009v2M1294 1003v4M1294 995v4M1294 989v2M1294 977v8M1294 970v3M1296 1063v2M1296 1057v2M1296 1045v2M1296 1033v4M1296 1019v8M1296 1011v4M1296 1001v4M1296 993v6M1296 981v10M1296 975v4M1296 970v3M1298 1074v2M1298 1067v2M1298 1061v2M1298 1055v2M1298 1045v6M1298 1039v4M1298 1033v2M1298 1029v2M1298 1025v2M1298 1017v4M1298 1013v2M1298 1005v6M1298 997v4M1298 991v4M1298 981v6M1298 975v4M1298 970v3M1300 1039v2M1300 1031v2M1300 1027v2M1300 1021v2M1300 1015v2M1300 997v12M1300 991v4M1300 987v2M1300 983v2M1300 979v2M1300 970v7M1302 1055v2M1302 1049v2M1302 1039v2M1302 1029v4M1302 1023v4M1302 1019v2M1302 1015v2M1302 991v20M1302 983v6M1302 977v2M1302 973v2M1302 970v1M1304 1047v4M1304 1043v2M1304 1035v6M1304 1023v8M1304 1011v10M1304 1005v2M1304 999v4M1304 995v2M1304 989v4M1304 981v4M1304 970v7M1414 1021v4M1414 1011v8M1414 1005v2M1414 1001v2M1414 985v12M1414 981v2M1414 975v4M1414 970v1M1416 1035v2M1416 1017v2M1416 1011v2M1416 1007v2M1416 1003v2M1416 995v6M1416 983v8M1416 975v4M1416 970v3M1418 1059v2M1418 1015v10M1418 1003v8M1418 993v8M1418 985v4M1418 981v2M1418 975v4M1418 970v3M1420 1037v2M1420 1025v2M1420 1015v6M1420 1005v6M1420 991v4M1420 973v12M1422 1035v2M1422 1027v4M1422 1023v2M1422 1009v6M1422 1005v2M1422 999v4M1422 993v2M1422 987v4M1422 983v2M1422 977v4M1422 970v3M1424 1082v5M1424 1031v2M1424 1019v2M1424 1015v2M1424 1005v8M1424 1001v2M1424 993v4M1424 981v4M1424 970v7M1426 1037v2M1426 1017v8M1426 1011v4M1426 1005v4M1426 983v12M1426 975v6M1428 1071v3M1428 1051v2M1428 1039v2M1428 1029v2M1428 1021v6M1428 1011v2M1428 999v10M1428 991v4M1428 987v2M1428 979v4M1428 973v2M1430 1037v4M1430 1031v2M1430 1017v12M1430 995v20M1430 989v4M1430 979v6M1430 970v5M1432 1079v28M1432 1071v5M1432 1061v8M1432 1047v10M1432 1035v6M1432 1023v10M1432 1017v4M1432 1009v6M1432 1003v4M1432 989v12M1432 975v12M1432 970v1M1434 1079v8M1434 1069v5M1434 1063v2M1434 1051v6M1434 1041v4M1434 1027v8M1434 1023v2M1434 1019v2M1434 1013v2M1434 995v10M1434 991v2M1434 987v2M1434 981v2M1434 977v2M1434 970v5M1436 1098v24M1436 1069v5M1436 1063v4M1436 1057v4M1436 1041v14M1436 1037v2M1436 1031v4M1436 1027v2M1436 1019v4M1436 1003v12M1436 985v14M1436 981v2M1436 975v4M1436 970v3M1438 1082v9M1438 1065v9M1438 1061v2M1438 1043v12M1438 1021v20M1438 1013v2M1438 1009v2M1438 1003v2M1438 993v8M1438 987v4M1438 971v12M1440 1035v10M1440 1029v2M1440 1023v2M1440 1013v8M1440 1007v4M1440 997v6M1440 987v8M1440 981v4M1440 977v2M1440 970v1M1442 1091v7M1442 1082v5M1442 1069v2M1442 1063v2M1442 1051v10M1442 1037v8M1442 1025v8M1442 1021v2M1442 997v20M1442 977v18M1442 970v1M1444 1019v4M1444 1011v6M1444 1007v2M1444 997v8M1444 987v4M1444 979v6M1444 970v7M1446 1059v2M1446 1055v2M1446 1051v2M1446 1041v4M1446 1037v2M1446 1033v2M1446 1021v8M1446 1017v2M1446 1013v2M1446 999v12M1446 977v20M1446 971v4M1448 1107v15M1448 1076v6M1448 1063v8M1448 1055v6M1448 1049v4M1448 1043v2M1448 1039v2M1448 1025v12M1448 1009v14M1448 997v10M1448 979v16M1448 970v7M1450 1043v2M1450 1033v2M1450 1029v2M1450 1021v2M1450 1011v8M1450 1001v6M1450 997v2M1450 993v2M1450 985v2M1450 979v2M1450 971v6M1452 1069v2M1452 1051v4M1452 1047v2M1452 1041v2M1452 1029v8M1452 1021v6M1452 1007v12M1452 995v10M1452 991v2M1452 977v12M1452 973v2M1454 1079v3M1454 1059v4M1454 1053v4M1454 1047v2M1454 1041v4M1454 1023v10M1454 1015v6M1454 1007v6M1454 993v12M1454 989v2M1454 983v4M1454 973v4M1456 1069v2M1456 1063v2M1456 1047v2M1456 1029v14M1456 1011v12M1456 1001v8M1456 995v4M1456 985v8M1456 975v8M1456 971v2M1458 1059v2M1458 1051v6M1458 1043v6M1458 1033v2M1458 1025v4M1458 1017v2M1458 1011v4M1458 999v6M1458 995v2M1458 970v23M1460 1071v3M1460 1067v2M1460 1063v2M1460 1039v8M1460 1033v4M1460 1029v2M1460 1025v2M1460 1017v2M1460 1007v8M1460 999v6M1460 993v2M1460 985v4M1460 981v2M1460 975v2M1460 970v3M1462 1091v7M1462 1053v2M1462 1045v4M1462 1041v2M1462 1037v2M1462 1033v2M1462 1021v10M1462 1015v4M1462 1009v4M1462 1001v6M1462 997v2M1462 993v2M1462 983v2M1462 975v6M1462 970v3M1464 1071v3M1464 1065v4M1464 1049v2M1464 1041v6M1464 1035v4M1464 1027v6M1464 1023v2M1464 1011v2M1464 999v8M1464 987v6M1464 970v15M1466 1063v4M1466 1059v2M1466 1041v2M1466 1033v4M1466 1021v4M1466 1009v6M1466 999v6M1466 995v2M1466 989v4M1466 970v15M1468 1049v4M1468 1035v4M1468 1027v6M1468 1007v16M1468 997v6M1468 989v2M1468 970v15M1470 1074v2M1470 1065v2M1470 1057v6M1470 1047v8M1470 1043v2M1470 1039v2M1470 1025v12M1470 1015v8M1470 1011v2M1470 1003v6M1470 991v10M1470 981v8M1470 977v2M1470 970v5M1472 1049v2M1472 1021v2M1472 1015v4M1472 999v14M1472 995v2M1472 985v8M1472 981v2M1472 977v2M1472 973v2M1474 1098v9M1474 1069v5M1474 1063v2M1474 1057v2M1474 1047v2M1474 1037v8M1474 1031v4M1474 1023v6M1474 1017v4M1474 1013v2M1474 1007v4M1474 983v10M1474 977v4M1474 970v3M1476 1061v2M1476 1045v2M1476 1013v20M1476 1005v4M1476 993v6M1476 989v2M1476 985v2M1476 977v6M1476 971v4M1478 1076v3M1478 1065v6M1478 1061v2M1478 1057v2M1478 1047v6M1478 1043v2M1478 1037v4M1478 1031v4M1478 1017v10M1478 1013v2M1478 1001v8M1478 995v2M1478 989v4M1478 983v4M1478 979v2M1478 975v2M1478 970v1M1480 1071v51M1480 1051v14M1480 1045v4M1480 1041v2M1480 1023v16M1480 1015v6M1480 1001v8M1480 997v2M1480 991v4M1480 981v4M1480 975v2M1480 970v3M1482 1076v6M1482 1071v3M1482 1057v2M1482 1053v2M1482 1041v6M1482 1033v6M1482 1029v2M1482 1017v6M1482 1011v2M1482 1007v2M1482 1003v2M1482 999v2M1482 993v4M1482 977v12M1482 971v4M1484 1025v2M1484 1019v2M1484 1013v4M1484 1001v10M1484 979v14M1484 973v4M1486 1091v16M1486 1067v4M1486 1057v8M1486 1049v4M1486 1041v6M1486 1035v4M1486 1019v14M1486 1005v6M1486 999v4M1486 983v12M1486 973v8M1486 970v1M1488 1027v12M1488 1019v6M1488 1009v8M1488 999v8M1488 993v2M1488 985v6M1488 977v2M1488 971v4M1490 1098v9M1490 1076v3M1490 1065v2M1490 1055v2M1490 1045v8M1490 1039v2M1490 1031v4M1490 1017v10M1490 1007v8M1490 1001v4M1490 995v4M1490 983v10M1490 977v4M1490 971v4M1492 1069v2M1492 1061v4M1492 1053v6M1492 1047v4M1492 1043v2M1492 1035v4M1492 1023v10M1492 1011v8M1492 1003v4M1492 991v10M1492 987v2M1492 981v4M1492 975v2M1492 970v1M1494 1091v7M1494 1061v4M1494 1057v2M1494 1051v2M1494 1047v2M1494 1037v4M1494 1025v4M1494 1021v2M1494 1015v4M1494 989v12M1494 979v8M1494 975v2" stroke="#00009a" stroke-width="2" fill="none" shape-rendering="crispEdges"/>
<path d="M1305.5 1076v6M1305.5 1071v3M1305.5 1065v2M1305.5 1059v4M1305.5 1055v2M1305.5 1041v4M1305.5 1031v4M1305.5 1005v2M1305.5 993v6M1305.5 989v2M1305.5 985v2M1305.5 981v2M1305.5 971v8" stroke="#0000b2" stroke-width="1" fill="none" shape-rendering="crispEdges"/>
<path d="M706 1045v2M706 1041v2M706 1029v8M706 1021v2M706 1007v4M706 997v4M706 987v2M706 977v4M706 973v2M706 970v1M708 1059v2M708 1051v2M708 1047v2M708 1021v2M708 1007v2M708 993v2M708 987v4M708 977v8M708 970v1M710 1047v4M710 1043v2M710 1039v2M710 1033v2M710 1029v2M710 1025v2M710 1019v4M710 1011v2M710 1007v2M710 1001v2M710 991v8M710 975v2M710 970v1M712 1039v2M712 1025v2M712 1021v2M712 1017v2M712 1005v2M712 1001v2M712 995v4M712 977v2M712 970v1M714 1091v7M714 1057v2M714 1051v4M714 1045v4M714 1031v10M714 1017v8M714 1009v4M714 991v6M714 985v4M714 981v2M716 1041v2M716 1033v2M716 1025v4M716 1019v2M716 1009v6M716 1005v2M716 1001v2M716 993v2M716 971v2M718 1043v2M718 1023v6M720 1063v2M720 1051v2M720 1021v2M720 1013v6M720 1005v4M720 999v2M720 995v2M720 987v2M720 983v2M720 970v5M722 1037v4M722 1031v2M722 1027v2M722 1021v2M722 1015v4M722 1011v2M722 991v2M722 985v4M722 977v6M724 1035v2M724 1027v2M724 1021v2M724 1015v2M724 1001v2M724 995v2M724 971v4M726 1041v2M726 1015v10M726 1007v2M726 1001v4M726 991v4M726 977v2M728 1057v2M728 1041v2M728 1037v2M728 1033v2M728 1023v2M728 1013v4M728 991v6M728 987v2M728 979v4M728 975v2M730 1039v2M730 1033v2M730 1027v2M730 1023v2M730 1009v8M730 989v2M730 977v10M730 970v1M732 1065v4M732 1033v8M732 1023v2M732 1007v4M732 995v6M732 981v2M732 977v2M732 970v3M734 1055v2M734 1043v4M734 1035v4M734 1023v10M734 1015v2M734 1009v2M734 1005v2M734 1001v2M734 989v4M734 985v2M734 973v2M736 1039v4M736 1031v2M736 1021v2M736 1017v2M736 1007v2M736 999v2M736 991v4M736 970v1M738 1051v2M738 1037v2M738 1027v6M738 1013v6M738 1009v2M738 1003v2M738 999v2M738 993v4M738 987v2M738 983v2M738 973v2M740 1071v3M740 1051v2M740 1045v2M740 1035v2M740 1015v6M740 1005v4M740 1001v2M740 995v2M740 991v2M740 979v2M742 1071v3M742 1053v2M742 1041v2M742 1029v4M742 1015v2M742 1011v2M742 1007v2M742 995v8M742 985v6M742 979v4M742 973v2M742 970v1M744 1053v2M744 1041v6M744 1029v2M744 1021v2M744 1007v2M744 995v4M744 987v2M744 983v2M744 977v2M744 973v2M746 1029v4M746 1025v2M746 1009v6M746 997v6M746 989v4M746 983v2M746 973v4M748 1047v2M748 1033v2M748 1029v2M748 1019v6M748 1001v14M748 995v2M748 985v6M748 977v2M748 973v2M750 1043v2M750 1033v4M750 1025v6M750 1017v2M750 1009v2M750 997v6M750 993v2M750 981v6M750 971v2M752 1053v2M752 1045v2M752 1023v2M752 1015v4M752 999v14M752 995v2M752 991v2M752 987v2M754 1063v2M754 1039v2M754 1031v6M754 1025v2M754 1019v4M754 1015v2M754 1001v4M754 989v6M754 983v4M754 970v3M756 1027v2M756 1017v6M756 1009v2M756 997v2M756 987v2M756 979v2M756 973v2M756 970v1M758 1063v4M758 1045v2M758 1035v2M758 1031v2M758 1025v4M758 1021v2M758 1015v4M758 1005v4M758 1001v2M758 995v4M758 989v2M758 979v8M758 970v1M760 1041v4M760 1035v2M760 1029v2M760 1021v6M760 1007v2M760 985v4M760 970v1M762 1082v25M762 1063v2M762 1057v4M762 1047v2M762 1039v2M762 1027v4M762 1013v6M762 1007v4M762 1003v2M762 995v4M762 987v2M764 1091v7M764 1076v11M764 1065v4M764 1057v2M764 1045v2M764 1039v2M764 1029v2M764 1019v2M764 1015v2M764 1011v2M764 995v2M764 991v2M764 985v2M764 981v2M764 977v2M764 973v2M766 1045v2M766 1033v2M766 1027v2M766 1023v2M766 1019v2M766 1013v2M766 989v6M766 985v2M766 981v2M766 975v4M768 1076v3M768 1069v2M768 1063v2M768 1057v2M768 1051v4M768 1031v2M768 1025v2M768 1019v4M768 1013v2M768 1005v4M768 987v10M768 979v4M770 1061v2M770 1049v6M770 1041v6M770 1037v2M770 1007v2M770 997v2M770 971v2M772 1079v3M772 1071v3M772 1065v4M772 1055v2M772 1041v8M772 1033v6M772 1025v6M772 1021v2M772 1017v2M772 1011v2M772 1003v4M772 993v2M772 979v4M774 1087v20M774 1076v3M774 1063v4M774 1043v2M774 1025v4M774 1011v2M774 1003v4M774 997v2M774 989v6M776 1087v4M776 1071v3M776 1043v2M776 1033v2M776 1029v2M776 1023v2M776 1019v2M776 1009v2M776 997v2M776 993v2M776 981v4M776 975v4M776 970v1M778 1107v15M778 1087v4M778 1079v3M778 1067v2M778 1049v2M778 1029v2M778 1023v2M778 1015v4M778 1009v2M778 1005v2M778 1001v2M778 991v2M778 987v2M778 975v2M780 1065v2M780 1051v4M780 1043v4M780 1025v4M780 1017v4M780 1013v2M780 1009v2M780 999v6M780 981v2M780 977v2M780 973v2M782 1098v9M782 1082v5M782 1071v3M782 1065v2M782 1061v2M782 1055v4M782 1049v2M782 1037v10M782 1031v2M782 1025v2M782 1021v2M782 1015v4M782 1007v4M782 987v4M782 977v2M782 971v2M784 1082v5M784 1061v6M784 1057v2M784 1051v4M784 1045v2M784 1033v2M784 1029v2M784 1003v10M784 991v4M784 981v6M784 973v6M786 1055v2M786 1051v2M786 1041v2M786 1029v4M786 1023v2M786 1009v6M786 985v6M786 981v2M786 977v2M786 973v2M788 1074v2M788 1063v2M788 1053v8M788 1045v2M788 1041v2M788 1009v2M788 1003v4M788 997v2M788 993v2M788 987v2M788 983v2M788 979v2M790 1061v2M790 1037v2M790 1029v2M790 1019v2M790 1011v2M790 1005v2M790 997v6M790 985v4M790 977v4M790 970v1M792 1045v2M792 1031v12M792 1013v10M792 1001v8M792 995v4M792 991v2M794 1087v20M794 1069v5M794 1061v4M794 1049v2M794 1045v2M794 1039v2M794 1027v2M794 1015v4M794 1009v4M794 1001v4M794 987v6M794 979v4M794 975v2M796 1063v2M796 1039v12M796 1035v2M796 1027v6M796 1023v2M796 1013v2M796 1003v4M796 995v2M796 979v2M796 970v3M798 1069v2M798 1065v2M798 1039v8M798 1031v4M798 1017v4M798 1011v4M798 1003v2M798 999v2M798 991v2M798 987v2M798 981v4M798 977v2M800 1047v4M800 1039v2M800 1033v2M800 1025v2M800 1021v2M800 1011v2M800 1001v6M800 977v4M800 971v2M802 1043v2M802 1037v2M802 1025v4M802 1017v4M802 1013v2M802 1005v2M802 1001v2M802 991v2M802 987v2M802 977v2M802 970v1M804 1091v16M804 1069v5M804 1057v2M804 1045v2M804 1037v4M804 1033v2M804 1009v2M804 1001v2M804 995v4M804 989v2M804 977v2M804 970v3M806 1074v2M806 1053v4M806 1047v4M806 1033v12M806 1027v2M806 1021v4M806 1013v2M806 1007v2M806 999v4M806 993v2M806 983v4M808 1063v2M808 1047v2M808 1033v8M808 1027v2M808 1021v4M808 1015v2M808 1011v2M808 1005v2M808 1001v2M808 993v2M808 989v2M808 983v4M808 977v2M808 973v2M810 1033v4M810 1023v8M810 1019v2M810 1015v2M810 1011v2M810 1003v2M810 999v2M810 993v2M810 979v4M810 975v2M810 970v1M812 1049v2M812 1045v2M812 1039v4M812 1025v4M812 1017v2M812 987v2M812 983v2M812 979v2M812 975v2M812 971v2M814 1065v2M814 1049v2M814 1045v2M814 1037v2M814 1027v4M814 1009v2M814 997v8M814 989v6M814 985v2M814 975v6M814 970v3M816 1057v2M816 1053v2M816 1049v2M816 1045v2M816 1039v4M816 1027v10M816 1019v4M816 1011v4M816 1001v2M816 987v2M816 977v2M816 971v4M818 1061v2M818 1057v2M818 1051v2M818 1047v2M818 1041v2M818 1033v6M818 1025v6M818 1017v2M818 1011v4M818 1003v4M818 991v4M818 979v8M818 970v3M820 1079v3M820 1069v7M820 1061v6M820 1053v4M820 1043v4M820 1035v2M820 1031v2M820 1017v4M820 1011v2M820 995v2M820 989v2M820 981v6M820 975v2M820 970v1M822 1076v3M822 1061v2M822 1047v2M822 1037v6M822 1031v2M822 1025v2M822 1019v2M822 1011v4M822 997v4M822 983v6M822 977v4M822 970v5M824 1063v6M824 1051v4M824 1041v2M824 1029v2M824 1025v2M824 1019v2M824 1009v2M824 1003v4M824 997v2M824 985v4M824 973v2M824 970v1M826 1023v6M826 1015v2M826 1001v4M826 991v2M826 983v4M826 979v2M828 1067v2M828 1063v2M828 1051v2M828 1045v2M828 1039v2M828 1033v4M828 1027v2M828 1009v4M828 1003v2M828 993v4M828 987v4M828 981v2M830 1057v2M830 1051v2M830 1045v2M830 1039v2M830 1027v2M830 1023v2M830 1015v2M830 1001v2M830 995v4M830 989v2M830 970v5M832 1098v9M832 1079v3M832 1069v2M832 1045v14M832 1039v4M832 1035v2M832 1031v2M832 1027v2M832 1005v8M832 1001v2M832 987v4M832 977v8M832 971v2M834 1063v4M834 1057v2M834 1041v10M834 1033v2M834 1025v4M834 1021v2M834 1017v2M834 997v4M834 993v2M834 983v2M834 979v2M834 975v2M834 971v2M836 1076v3M836 1071v3M836 1063v2M836 1055v2M836 1051v2M836 1043v2M836 1035v2M836 1031v2M836 1019v2M836 1013v2M836 1001v2M836 997v2M836 991v4M836 979v2M838 1082v5M838 1076v3M838 1063v2M838 1057v2M838 1049v2M838 1045v2M838 1035v2M838 1021v2M838 1013v2M838 1003v2M838 993v8M838 989v2M838 981v2M840 1082v5M840 1057v2M840 1051v2M840 1043v6M840 1037v2M840 1033v2M840 1029v2M840 1021v2M840 1013v2M840 1003v2M840 983v8M840 979v2M840 973v2M842 1074v2M842 1059v2M842 1051v2M842 1047v2M842 1039v6M842 1033v4M842 1027v4M842 1017v6M842 1011v4M842 1005v2M842 997v4M842 993v2M842 987v4M844 1074v2M844 1051v2M844 1045v4M844 1035v2M844 1027v4M844 1017v2M844 1009v2M844 999v4M844 973v2M844 970v1M846 1087v4M846 1071v3M846 1061v2M846 1053v2M846 1047v4M846 1041v2M846 1037v2M846 1027v2M846 1023v2M846 1015v2M846 1011v2M846 1005v2M846 989v10M846 983v2M846 970v1M848 1091v16M848 1079v8M848 1074v2M848 1063v4M848 1059v2M848 1049v4M848 1041v4M848 1025v4M848 1011v4M848 1001v2M848 995v2M848 983v2M848 977v2M850 1076v6M850 1053v2M850 1047v2M850 1041v2M850 1031v4M850 1025v2M850 1019v4M850 1013v4M850 997v2M850 989v4M850 983v4M850 975v6M850 971v2M852 1071v3M852 1053v4M852 1033v2M852 1025v2M852 1015v4M852 1009v2M852 1003v4M852 999v2M852 991v2M852 981v4M852 971v4M854 1065v2M854 1047v6M854 1037v6M854 1027v2M854 1023v2M854 1017v4M854 1013v2M854 1001v6M854 997v2M854 989v2M856 1074v2M856 1061v2M856 1051v2M856 1043v4M856 1037v2M856 1031v2M856 999v2M856 995v2M856 979v4M856 970v1M858 1069v2M858 1057v2M858 1049v4M858 1043v2M858 1033v4M858 1021v2M858 1015v2M858 1003v2M858 993v2M858 985v2M858 981v2M858 973v2M860 1069v2M860 1063v2M860 1055v2M860 1041v4M860 1029v4M860 1025v2M860 1015v2M860 1011v2M860 1001v2M860 995v2M860 989v2M860 983v2M860 971v6M862 1098v9M862 1051v2M862 1035v4M862 1031v2M862 1027v2M862 1021v2M862 1015v4M862 1011v2M862 1007v2M862 1001v2M862 997v2M862 989v2M862 985v2M862 979v4M862 973v2M862 970v1M864 1057v2M864 1045v2M864 1039v4M864 1033v2M864 1027v4M864 1017v4M864 1013v2M864 1007v2M864 995v2M864 991v2M864 987v2M864 983v2M864 975v4M864 971v2M866 1037v2M866 1027v6M866 1017v2M866 1011v4M866 1005v4M866 999v4M866 991v2M866 970v5M868 1087v4M868 1069v2M868 1051v2M868 1037v2M868 1025v2M868 1015v4M868 1007v4M868 1003v2M868 997v2M868 985v2M870 1057v2M870 1051v2M870 1045v4M870 1041v2M870 1027v4M870 1015v4M870 1011v2M870 999v4M870 993v2M870 989v2M870 985v2M870 973v2M872 1045v2M872 1035v2M872 1027v4M872 1017v2M872 1013v2M872 1009v2M872 993v6M872 987v4M872 981v2M872 973v2M874 1037v2M874 1023v12M874 1019v2M874 1005v4M874 991v10M874 981v2M874 973v6M876 1091v16M876 1071v16M876 1053v4M876 1047v4M876 1041v2M876 1035v2M876 1015v2M876 1009v4M876 1003v2M876 993v4M876 979v2M878 1067v2M878 1055v4M878 1045v4M878 1037v2M878 1011v2M878 997v2M878 993v2M878 979v2M878 973v2M880 1051v2M880 1041v2M880 1033v4M880 1029v2M880 1025v2M880 1011v2M880 1005v2M880 999v4M880 991v2M880 987v2M880 977v4M880 970v1M882 1059v2M882 1053v2M882 1033v2M882 1029v2M882 1023v4M882 1017v2M882 1011v2M882 1007v2M882 1003v2M882 997v2M882 991v4M882 987v2M882 979v2M882 970v1M884 1061v2M884 1051v2M884 1043v6M884 1039v2M884 1035v2M884 1029v4M884 1025v2M884 1021v2M884 1011v8M884 1005v4M884 991v2M884 971v2M886 1025v4M886 1011v4M886 1003v2M886 999v2M886 991v2M886 981v4M886 973v2M886 970v1M888 1059v2M888 1051v2M888 1037v6M888 1031v2M888 1027v2M888 1021v2M888 1017v2M888 1013v2M888 1009v2M888 977v4M888 973v2M890 1063v2M890 1051v2M890 1047v2M890 1039v2M890 1035v2M890 1017v2M890 1009v2M890 1005v2M890 1001v2M890 995v2M890 989v2M890 985v2M892 1049v2M892 1031v2M892 1025v2M892 1021v2M892 1013v4M892 1007v2M892 995v6M892 981v6M892 975v2M892 970v3M894 1035v2M894 1029v2M894 1015v2M894 999v2M894 995v2M894 987v6M894 983v2M894 971v2M896 1071v3M896 1049v2M896 1045v2M896 1039v2M896 1027v2M896 1019v4M896 1001v2M896 995v4M896 983v2M898 1076v3M898 1067v2M898 1057v2M898 1049v2M898 1035v2M898 1027v4M898 1015v4M898 1009v2M898 1005v2M898 993v2M898 989v2M898 985v2M898 979v4M898 973v2M898 970v1M900 1063v2M900 1057v4M900 1051v2M900 1041v2M900 1035v2M900 1029v2M900 1017v2M900 1011v2M900 1003v4M900 997v4M900 989v4M900 979v8M900 971v4M902 1067v2M902 1057v4M902 1045v2M902 1037v2M902 1033v2M902 1025v4M902 1009v6M902 1005v2M902 995v2M902 985v4M902 977v4M902 971v2M904 1047v10M904 1029v6M904 1019v4M904 1015v2M904 1011v2M904 1001v4M904 983v6M906 1065v2M906 1061v2M906 1053v2M906 1045v6M906 1037v4M906 1031v2M906 1023v2M906 1011v4M906 999v2M906 995v2M906 991v2M906 987v2M906 977v2M906 973v2M908 1039v2M908 1029v6M908 1025v2M908 1011v6M908 1005v4M908 997v2M908 985v2M908 979v2M908 975v2M910 1071v3M910 1043v6M910 1033v6M910 1025v6M910 1019v4M910 1007v4M910 1001v4M910 997v2M910 991v2M910 985v2M910 981v2M910 973v2M912 1035v2M912 1019v8M912 1011v2M912 1007v2M912 1003v2M912 993v4M912 977v6M912 970v1M914 1057v2M914 1053v2M914 1027v2M914 1015v6M914 983v8M914 979v2M914 971v6M916 1019v6M916 1011v2M916 997v4M916 989v4M916 977v6M916 973v2M916 970v1M918 1029v2M918 1025v2M918 1017v2M918 1011v2M918 1003v2M918 999v2M918 977v2M918 970v1M920 1043v2M920 1025v8M920 1015v6M920 1001v4M920 993v2M920 983v2M920 979v2M920 975v2M922 1027v2M922 1023v2M922 1013v4M922 1007v4M922 1001v2M922 985v4M922 981v2M922 973v2M922 970v1M924 1037v2M924 1025v6M924 1019v4M924 1011v4M924 999v2M924 995v2M924 989v2M924 973v8M926 1025v2M926 1015v2M926 1007v2M926 993v4M926 987v2M926 977v4M928 1047v2M928 1027v4M928 1013v2M928 1009v2M928 993v4M928 987v4M930 1043v2M930 1025v4M930 1017v6M930 1011v4M930 1007v2M930 1001v2M930 989v2M930 981v2M930 971v6M932 1043v2M932 1029v2M932 1021v4M932 1013v4M932 1003v4M932 999v2M932 991v4M932 987v2M932 975v4M934 1021v6M934 1009v4M934 999v6M934 977v2M934 970v1M936 1043v2M936 1017v8M936 1007v6M936 999v6M936 995v2M936 979v6M936 971v6M938 1039v2M938 1029v4M938 1007v4M938 991v4M938 985v2M938 973v8M940 1053v2M940 1047v4M940 1031v2M940 1017v4M940 1011v2M940 1001v4M940 997v2M940 993v2M940 979v2M940 975v2M940 970v3M942 1047v2M942 1033v4M942 1023v2M942 1017v2M942 1007v2M942 1003v2M942 985v2M942 977v6M944 1031v2M944 1027v2M944 1017v4M944 1003v2M944 997v4M944 993v2M944 989v2M944 979v2M944 971v2M946 1043v2M946 1035v2M946 1031v2M946 1023v2M946 1017v2M946 1007v2M946 999v4M946 989v2M946 983v2M946 977v4M946 971v2M948 1057v2M948 1023v4M948 1015v2M948 1011v2M948 1007v2M948 1001v2M948 991v4M948 987v2M948 975v2M950 1027v2M950 1019v6M950 1015v2M950 1005v6M950 995v4M950 987v2M950 983v2M950 975v6M950 970v1M952 1047v2M952 1033v2M952 1029v2M952 1025v2M952 1019v4M952 1011v2M952 1003v2M952 993v2M952 983v4M952 977v4M952 973v2M954 1023v4M954 1015v2M954 1005v2M954 981v2M954 970v3M956 1045v2M956 1039v2M956 1025v2M956 1017v4M956 1007v4M956 987v2M956 983v2M958 1043v2M958 1031v2M958 1027v2M958 1021v4M958 1011v6M958 997v2M958 981v4M958 975v4M958 970v3M960 1045v2M960 1025v2M960 1017v4M960 1013v2M960 1009v2M960 1003v4M960 993v2M960 985v2M960 981v2M960 975v2M962 1049v4M962 1023v2M962 1015v2M962 1011v2M962 1003v6M962 997v2M962 987v8M962 970v7M964 1037v2M964 1027v2M964 1021v2M964 1017v2M964 1011v4M964 1007v2M964 999v2M964 993v2M964 983v2M964 979v2M964 970v1M966 1027v4M966 1023v2M966 1019v2M966 1015v2M966 1007v2M966 1003v2M966 997v2M966 981v2M966 977v2M968 1029v2M968 1019v6M968 1011v2M968 1003v2M968 995v2M968 989v4M968 985v2M968 979v2M968 971v2M970 1023v2M970 1011v2M970 1003v6M970 989v4M970 979v2M970 973v2M970 970v1M972 1059v2M972 1031v2M972 1025v4M972 1021v2M972 1017v2M972 1011v2M972 1007v2M972 997v8M972 989v2M972 979v4M972 970v1M974 1047v2M974 1029v2M974 1019v2M974 1013v4M974 999v8M974 993v4M974 989v2M974 985v2M974 970v3M976 1021v8M976 1015v2M976 997v2M976 991v2M976 981v6M976 975v2M976 970v1M978 1039v2M978 1031v2M978 1021v4M978 1011v4M978 1007v2M978 995v6M978 987v4M978 981v4M978 975v2M978 971v2M980 1021v4M980 1011v6M980 1003v4M980 997v2M980 993v2M980 983v4M980 977v2M980 973v2M982 1037v2M982 1023v4M982 1017v4M982 1007v2M982 991v6M982 987v2M982 983v2M982 973v2M982 970v1M984 1035v2M984 1029v4M984 1025v2M984 1021v2M984 1015v2M984 1009v2M984 1005v2M984 1001v2M984 995v2M984 981v2M984 977v2M984 973v2M984 970v1M986 1061v2M986 1021v2M986 1007v2M986 1001v2M986 987v2M986 975v2M986 970v3M988 1025v2M988 1021v2M988 1015v4M988 1011v2M988 997v2M988 989v6M988 983v2M988 977v2M988 970v3M990 1029v2M990 1019v2M990 1005v2M990 1001v2M990 993v4M990 989v2M990 983v2M990 977v2M990 973v2M992 1029v2M992 1021v2M992 1011v4M992 1005v4M992 1001v2M992 997v2M992 991v2M992 987v2M992 983v2M992 970v3M994 1037v2M994 1017v2M994 1011v4M994 1005v2M994 1001v2M994 995v2M994 979v2M994 973v2M996 1057v2M996 1023v2M996 1017v2M996 1013v2M996 1009v2M996 1001v2M996 997v2M996 989v4M996 981v6M996 971v6M998 1031v2M998 1023v4M998 1015v2M998 1005v6M998 999v4M998 987v4M998 983v2M998 975v2M998 971v2M1000 1063v2M1000 1039v2M1000 1033v2M1000 1025v4M1000 1015v2M1000 1011v2M1000 1003v4M1000 997v2M1000 991v2M1000 979v2M1000 971v6M1002 1029v4M1002 1025v2M1002 1015v2M1002 1007v2M1002 999v6M1002 993v2M1002 987v2M1002 977v4M1002 971v2M1004 1059v2M1004 1035v2M1004 1031v2M1004 1021v4M1004 995v4M1004 983v4M1004 979v2M1004 975v2M1004 970v3M1006 1051v2M1006 1047v2M1006 1027v2M1006 1021v4M1006 1015v4M1006 1007v2M1006 1003v2M1006 997v2M1006 985v6M1006 970v11M1008 1047v2M1008 1025v4M1008 1019v2M1008 1009v2M1008 1003v4M1008 995v2M1008 991v2M1008 987v2M1008 983v2M1008 977v2M1010 1025v2M1010 1017v4M1010 1013v2M1010 1009v2M1010 1003v2M1010 999v2M1010 987v4M1010 975v6M1012 1019v8M1012 1015v2M1012 999v4M1012 991v6M1012 981v2M1012 977v2M1012 970v5M1014 1029v2M1014 1017v8M1014 1005v2M1014 997v2M1014 991v2M1014 985v2M1014 975v4M1014 970v3M1016 1029v2M1016 1023v4M1016 1017v2M1016 1011v4M1016 997v2M1016 993v2M1016 979v4M1018 1023v6M1018 1017v2M1018 1013v2M1018 1003v2M1018 999v2M1018 989v8M1018 981v6M1018 977v2M1018 970v1M1020 1019v6M1020 1013v4M1020 997v2M1020 989v6M1020 979v8M1020 975v2M1022 1015v2M1022 1003v6M1022 997v2M1022 991v4M1022 983v6M1022 971v6M1024 1033v2M1024 1025v2M1024 1019v2M1024 1009v2M1024 999v4M1024 991v2M1024 985v2M1024 973v2M1024 970v1M1026 1057v2M1026 1023v6M1026 1015v4M1026 1011v2M1026 1005v2M1026 1001v2M1026 995v4M1026 991v2M1026 981v4M1026 973v2M1026 970v1M1028 1033v4M1028 1027v2M1028 1021v2M1028 1017v2M1028 1007v2M1028 997v2M1028 987v6M1028 975v4M1028 971v2M1030 1027v2M1030 1019v2M1030 1011v2M1030 1001v2M1030 995v2M1030 989v4M1030 983v2M1030 975v4M1030 970v1M1032 1037v2M1032 1027v2M1032 1023v2M1032 1015v4M1032 1009v2M1032 1003v4M1032 997v2M1032 983v6M1034 1039v2M1034 1025v2M1034 1017v2M1034 1007v4M1034 995v2M1034 987v6M1034 979v2M1036 1059v2M1036 1055v2M1036 1051v2M1036 1031v2M1036 1027v2M1036 1017v2M1036 1007v2M1036 999v4M1036 995v2M1036 989v2M1036 979v8M1036 975v2M1038 1035v2M1038 1031v2M1038 1027v2M1038 1005v4M1038 989v4M1038 981v4M1038 971v2M1040 1035v2M1040 1023v8M1040 1017v4M1040 1007v2M1040 1001v4M1040 991v2M1040 981v4M1040 971v4M1042 1043v2M1042 1001v2M1042 993v2M1042 987v2M1042 973v2M1042 970v1M1044 1025v2M1044 1017v4M1044 1005v4M1044 1001v2M1044 997v2M1044 987v4M1044 983v2M1044 973v8M1044 970v1M1046 1051v2M1046 1035v2M1046 1025v4M1046 1021v2M1046 1017v2M1046 1011v2M1046 1007v2M1046 997v4M1046 987v2M1046 970v1M1048 1025v2M1048 1017v4M1048 1011v2M1048 999v4M1048 987v4M1048 983v2M1048 977v2M1050 1037v2M1050 1029v2M1050 1017v4M1050 1011v4M1050 1001v2M1050 989v4M1050 983v2M1052 1033v2M1052 1029v2M1052 1017v4M1052 1005v2M1052 1001v2M1052 997v2M1052 979v2M1054 1047v2M1054 1033v4M1054 1023v6M1054 1019v2M1054 1015v2M1054 1009v2M1054 1001v2M1054 995v4M1054 991v2M1054 983v4M1054 977v2M1056 1023v2M1056 1015v2M1056 1007v4M1056 1001v2M1056 989v4M1056 985v2M1058 1031v2M1058 1023v2M1058 1011v4M1058 995v8M1058 987v4M1058 975v8M1058 970v1M1060 1055v2M1060 1035v6M1060 1031v2M1060 1027v2M1060 1023v2M1060 1005v2M1060 1001v2M1060 993v6M1060 987v4M1060 979v4M1060 975v2M1060 970v1M1062 1029v2M1062 1025v2M1062 1017v2M1062 1013v2M1062 1009v2M1062 1001v4M1062 995v2M1062 985v2M1062 971v8M1064 1061v2M1064 1041v2M1064 1021v2M1064 1017v2M1064 1011v4M1064 1003v2M1064 995v2M1064 991v2M1064 983v4M1064 970v7M1066 1069v2M1066 1045v4M1066 1035v6M1066 1027v2M1066 1023v2M1066 1005v6M1066 999v2M1066 993v2M1066 981v4M1068 1041v2M1068 1025v2M1068 1019v4M1068 1011v2M1068 999v2M1068 995v2M1068 983v8M1068 971v8M1070 1049v2M1070 1039v2M1070 1029v6M1070 1017v8M1070 1011v2M1070 997v2M1070 993v2M1070 983v2M1070 979v2M1070 975v2M1070 971v2M1072 1033v2M1072 1023v2M1072 1015v4M1072 1009v2M1072 995v4M1072 991v2M1072 983v2M1074 1033v12M1074 1029v2M1074 1013v2M1074 1005v4M1074 983v2M1074 977v2M1074 971v4M1076 1043v2M1076 1007v6M1076 995v6M1076 989v2M1076 983v4M1076 977v4M1076 970v3M1078 1074v2M1078 1037v4M1078 1015v6M1078 993v6M1078 987v2M1078 983v2M1078 979v2M1078 973v2M1080 1031v2M1080 1023v4M1080 1007v2M1080 1001v2M1080 989v4M1080 981v4M1080 973v2M1082 1079v3M1082 1051v2M1082 1045v2M1082 1035v6M1082 1031v2M1082 1019v2M1082 1009v4M1082 997v6M1082 993v2M1082 979v4M1082 975v2M1084 1049v2M1084 1043v2M1084 1037v4M1084 1031v2M1084 1017v2M1084 1011v2M1084 997v10M1084 991v4M1084 987v2M1084 983v2M1084 977v2M1086 1061v2M1086 1035v2M1086 1031v2M1086 1025v2M1086 1019v2M1086 1009v4M1086 997v2M1086 991v2M1086 987v2M1086 971v2M1088 1063v2M1088 1037v2M1088 1025v4M1088 1011v4M1088 1001v2M1090 1035v2M1090 1021v2M1090 1013v6M1090 1007v2M1090 995v10M1090 987v6M1090 973v2M1092 1057v2M1092 1053v2M1092 1043v2M1092 1033v2M1092 1027v2M1092 1007v2M1092 999v2M1092 993v4M1092 987v2M1092 981v2M1092 970v3M1094 1053v2M1094 1041v2M1094 1037v2M1094 1029v2M1094 1021v4M1094 1017v2M1094 1009v4M1094 1005v2M1094 981v4M1094 977v2M1096 1033v2M1096 1023v2M1096 1015v4M1096 1009v4M1096 1005v2M1096 1001v2M1096 995v2M1096 985v2M1098 1039v2M1098 1019v2M1098 1015v2M1098 995v2M1098 989v2M1098 981v2M1098 975v2M1100 1033v2M1100 1029v2M1100 1023v2M1100 1017v2M1100 1013v2M1100 1007v2M1100 1001v2M1100 995v4M1100 983v4M1100 979v2M1100 970v1M1102 1021v2M1102 1011v4M1102 997v2M1102 983v4M1102 975v2M1102 971v2M1104 1045v2M1104 1039v2M1104 1035v2M1104 1025v4M1104 1015v4M1104 1009v2M1104 1001v4M1104 993v6M1104 987v4M1104 973v6M1106 1021v2M1106 1011v2M1106 1005v4M1106 1001v2M1106 993v4M1106 989v2M1106 983v2M1106 973v4M1108 1037v2M1108 1015v8M1108 1009v4M1108 1001v4M1108 993v6M1108 987v2M1108 981v2M1108 971v4M1110 1033v2M1110 1029v2M1110 1019v2M1110 1013v2M1110 1003v2M1110 987v2M1110 983v2M1110 979v2M1112 1029v2M1112 1013v8M1112 1009v2M1112 999v4M1112 995v2M1112 989v2M1112 979v2M1114 1025v4M1114 1017v2M1114 1011v2M1114 1003v2M1114 993v4M1114 977v2M1114 970v5M1116 1031v2M1116 1023v2M1116 1013v6M1116 1007v2M1116 993v6M1116 987v4M1116 983v2M1116 971v2M1118 1043v4M1118 1029v2M1118 1017v4M1118 1013v2M1118 1009v2M1118 1003v2M1118 995v6M1118 987v2M1118 979v6M1118 971v4M1120 1037v2M1120 1027v4M1120 1019v2M1120 1015v2M1120 995v4M1120 989v4M1120 983v2M1120 975v2M1120 970v1M1122 1043v2M1122 1029v4M1122 1017v6M1122 1011v2M1122 997v2M1122 991v2M1122 983v4M1122 975v4M1122 970v1M1124 1039v2M1124 1025v2M1124 1015v4M1124 1001v2M1124 991v6M1124 983v2M1126 1045v2M1126 1029v2M1126 1017v6M1126 1011v2M1126 1007v2M1126 997v2M1126 991v2M1126 981v2M1126 977v2M1126 970v3M1128 1039v2M1128 1027v2M1128 1023v2M1128 1007v2M1128 1003v2M1128 997v4M1128 987v2M1128 983v2M1128 979v2M1128 973v2M1130 1033v2M1130 1023v2M1130 1009v2M1130 1001v2M1130 979v2M1130 970v1M1132 1033v2M1132 1023v2M1132 1015v2M1132 1005v4M1132 987v2M1132 979v2M1132 975v2M1134 1015v6M1134 1009v4M1134 1003v4M1134 995v4M1134 989v2M1134 985v2M1134 979v4M1136 1033v2M1136 1029v2M1136 1023v4M1136 1019v2M1136 1009v2M1136 1005v2M1136 999v2M1136 985v4M1136 979v2M1136 973v4M1136 970v1M1138 1033v2M1138 1025v4M1138 1019v2M1138 1011v2M1138 991v2M1138 987v2M1138 973v2M1140 1037v2M1140 1033v2M1140 1021v4M1140 1011v6M1140 1005v2M1140 995v4M1140 987v4M1140 983v2M1140 971v6M1142 1025v2M1142 1017v2M1142 1001v2M1142 989v4M1142 973v4M1144 1029v6M1144 1021v2M1144 1001v2M1144 995v4M1144 987v2M1144 981v2M1144 975v2M1144 971v2M1146 1082v5M1146 1033v4M1146 1025v4M1146 1021v2M1146 1017v2M1146 1005v4M1146 993v2M1146 981v4M1148 1033v2M1148 1025v2M1148 1021v2M1148 1017v2M1148 1011v2M1148 1005v2M1148 993v2M1148 985v6M1148 979v2M1148 975v2M1148 970v1M1150 1039v2M1150 1025v4M1150 1005v4M1150 993v2M1150 979v6M1150 973v2M1150 970v1M1152 1039v2M1152 1033v2M1152 1017v6M1152 1007v2M1152 1001v4M1152 975v2M1152 970v1M1154 1023v2M1154 1019v2M1154 1011v2M1154 1005v4M1154 1001v2M1154 983v12M1154 977v4M1154 973v2M1156 1031v4M1156 1025v2M1156 1015v2M1156 1009v2M1156 991v2M1156 985v2M1156 977v4M1156 971v2M1158 1037v2M1158 1023v4M1158 1017v2M1158 1011v2M1158 1007v2M1158 981v4M1158 977v2M1158 970v1M1160 1025v2M1160 1013v2M1160 1009v2M1160 993v2M1160 985v2M1160 977v6M1162 1047v2M1162 1015v2M1162 1007v2M1162 1003v2M1162 985v2M1162 975v8M1164 1017v2M1164 1007v2M1164 993v2M1164 985v4M1164 977v4M1166 1031v2M1166 1023v4M1166 1013v2M1166 987v14M1166 981v4M1166 973v2M1168 1037v2M1168 1029v2M1168 1019v2M1168 1011v2M1168 1001v6M1168 991v2M1168 975v2M1168 970v1M1170 1043v2M1170 1027v2M1170 1019v2M1170 1013v2M1170 1005v2M1170 999v4M1170 993v2M1170 983v2M1170 970v5M1172 1045v2M1172 1029v2M1172 1025v2M1172 1019v4M1172 1011v4M1172 1007v2M1172 999v2M1172 979v4M1172 975v2M1174 1027v2M1174 1023v2M1174 1007v4M1174 997v4M1174 991v4M1174 983v4M1174 975v2M1174 970v1M1176 1009v4M1176 997v4M1176 993v2M1176 977v2M1176 973v2M1178 1027v2M1178 1019v2M1178 1011v4M1178 999v2M1178 987v2M1178 981v4M1178 973v2M1180 1039v2M1180 1035v2M1180 1029v2M1180 1017v4M1180 1007v4M1180 999v6M1180 995v2M1180 981v4M1180 973v2M1180 970v1M1182 1063v2M1182 1043v6M1182 1033v2M1182 1019v2M1182 1009v6M1182 1005v2M1182 1001v2M1182 997v2M1182 991v4M1182 987v2M1182 983v2M1184 1055v2M1184 1045v2M1184 1031v2M1184 1025v4M1184 1013v4M1184 999v2M1184 993v2M1184 983v2M1184 977v4M1186 1041v2M1186 1037v2M1186 1029v2M1186 1025v2M1186 1017v4M1186 1013v2M1186 1009v2M1186 999v4M1186 993v2M1186 985v4M1186 979v2M1186 971v6M1188 1053v2M1188 1013v2M1188 1001v2M1188 991v2M1188 987v2M1188 981v2M1188 970v7M1190 1033v4M1190 1029v2M1190 1023v2M1190 1013v2M1190 1003v2M1190 995v4M1190 987v4M1190 973v2M1192 1023v10M1192 1017v2M1192 1003v2M1192 993v2M1192 983v4M1192 977v4M1192 970v1M1194 1045v2M1194 1041v2M1194 1033v2M1194 1027v2M1194 1021v2M1194 1013v4M1194 1003v2M1194 997v2M1194 987v6M1194 977v6M1194 973v2M1196 1063v2M1196 1043v2M1196 1031v8M1196 1015v4M1196 1007v2M1196 1003v2M1196 991v4M1196 985v2M1196 975v2M1196 971v2M1198 1055v2M1198 1051v2M1198 1039v2M1198 1035v2M1198 1027v6M1198 1019v2M1198 1015v2M1198 999v2M1198 985v6M1198 981v2M1198 975v4M1198 971v2M1200 1071v3M1200 1045v2M1200 1037v2M1200 1021v4M1200 1013v4M1200 999v8M1200 995v2M1200 975v8M1202 1023v4M1202 1009v6M1202 1001v2M1202 997v2M1202 991v2M1202 987v2M1202 970v1M1204 1029v4M1204 1025v2M1204 1007v2M1204 993v10M1204 989v2M1204 981v2M1204 973v4M1206 1067v2M1206 1053v2M1206 1037v4M1206 1031v2M1206 1025v2M1206 1015v4M1206 1009v4M1206 1001v2M1206 983v2M1206 975v2M1208 1033v2M1208 1023v4M1208 1013v4M1208 993v4M1208 987v2M1208 975v2M1208 970v3M1210 1045v2M1210 1037v2M1210 1029v4M1210 1025v2M1210 1021v2M1210 1011v4M1210 1005v2M1210 979v2M1210 973v4M1210 970v1M1212 1053v2M1212 1041v2M1212 1027v4M1212 1013v2M1212 1001v6M1212 997v2M1212 993v2M1212 987v2M1212 977v2M1212 970v1M1214 1091v7M1214 1059v4M1214 1053v2M1214 1049v2M1214 1043v2M1214 1037v4M1214 1019v2M1214 1009v2M1214 1003v2M1214 999v2M1214 989v4M1214 970v1M1216 1107v15M1216 1082v5M1216 1074v2M1216 1067v2M1216 1059v2M1216 1041v2M1216 1037v2M1216 1025v2M1216 1015v6M1216 1005v6M1216 999v2M1216 993v4M1216 985v4M1216 979v2M1218 1059v2M1218 1049v2M1218 1037v4M1218 1031v4M1218 1025v4M1218 1019v2M1218 1015v2M1218 1011v2M1218 993v2M1218 970v9M1220 1021v2M1220 1015v2M1220 1005v4M1220 1001v2M1220 993v6M1220 985v4M1220 981v2M1220 971v2M1222 1053v2M1222 1045v2M1222 1037v4M1222 1029v4M1222 1021v6M1222 1011v4M1222 1005v2M1222 999v2M1222 995v2M1222 991v2M1222 983v2M1222 973v2M1222 970v1M1224 1063v2M1224 1043v2M1224 1037v2M1224 1027v8M1224 1011v4M1224 995v4M1224 971v4M1226 1074v2M1226 1037v2M1226 1033v2M1226 1029v2M1226 1023v4M1226 1017v4M1226 1003v2M1226 999v2M1226 973v4M1228 1043v2M1228 1035v2M1228 1031v2M1228 1025v2M1228 1011v4M1228 1005v2M1228 999v2M1228 991v2M1228 985v2M1228 971v4M1230 1049v2M1230 1029v6M1230 1019v8M1230 1013v2M1230 1009v2M1230 995v12M1230 991v2M1230 987v2M1230 971v4M1232 1037v6M1232 1025v10M1232 1015v4M1232 1001v2M1232 997v2M1232 991v4M1232 983v6M1232 970v1M1234 1059v2M1234 1041v2M1234 1033v2M1234 1027v4M1234 1017v2M1234 1003v2M1234 999v2M1234 993v4M1234 985v6M1234 977v2M1234 970v3M1236 1041v4M1236 1031v6M1236 1027v2M1236 1019v2M1236 1013v4M1236 1005v4M1236 989v6M1236 983v2M1236 973v2M1238 1053v2M1238 1041v2M1238 1035v4M1238 1031v2M1238 1019v4M1238 1015v2M1238 1003v2M1238 993v6M1238 989v2M1238 981v2M1238 971v2M1240 1049v2M1240 1039v4M1240 1035v2M1240 1029v2M1240 1023v2M1240 1011v4M1240 1001v6M1240 997v2M1240 983v2M1242 1063v2M1242 1053v2M1242 1039v8M1242 1033v4M1242 1017v2M1242 1013v2M1242 1005v4M1242 999v2M1242 993v4M1242 989v2M1242 979v6M1244 1047v2M1244 1041v2M1244 1037v2M1244 1031v4M1244 1009v4M1244 1003v4M1244 993v4M1244 985v2M1244 979v4M1244 970v1M1246 1039v2M1246 1033v2M1246 1027v2M1246 1023v2M1246 1011v4M1246 1001v4M1246 995v2M1246 989v2M1246 985v2M1246 981v2M1246 975v2M1246 971v2M1248 1053v4M1248 1041v2M1248 1033v2M1248 1017v10M1248 1009v2M1248 1001v6M1248 995v2M1248 983v6M1248 977v2M1250 1049v2M1250 1043v4M1250 1037v2M1250 1031v4M1250 1023v2M1250 1017v4M1250 1005v2M1250 995v4M1250 975v2M1252 1082v5M1252 1057v2M1252 1051v4M1252 1045v4M1252 1037v2M1252 1027v4M1252 1021v4M1252 1017v2M1252 1009v6M1252 995v8M1252 981v4M1252 970v1M1254 1079v3M1254 1063v2M1254 1059v2M1254 1051v2M1254 1043v4M1254 1039v2M1254 1027v4M1254 1023v2M1254 1017v2M1254 1005v4M1254 1001v2M1254 997v2M1254 983v12M1254 973v2M1256 1074v2M1256 1065v4M1256 1057v6M1256 1049v2M1256 1043v2M1256 1031v4M1256 1015v8M1256 1001v2M1256 983v6M1256 979v2M1256 971v2M1258 1031v4M1258 1023v2M1258 1011v6M1258 973v6M1258 970v1M1260 1057v2M1260 1047v2M1260 1033v4M1260 1029v2M1260 1015v4M1260 1011v2M1260 1005v2M1260 1001v2M1260 997v2M1260 987v8M1260 979v2M1260 973v2M1262 1082v5M1262 1071v3M1262 1047v4M1262 1043v2M1262 1037v2M1262 1033v2M1262 1025v2M1262 1017v2M1262 1011v4M1262 1005v4M1262 995v2M1262 985v4M1262 979v2M1262 971v2M1264 1074v2M1264 1057v4M1264 1043v10M1264 1037v4M1264 1029v6M1264 1021v2M1264 1013v2M1264 1005v2M1264 995v4M1264 987v6M1264 983v2M1266 1037v4M1266 1025v6M1266 1021v2M1266 1009v6M1266 993v2M1266 987v4M1266 981v2M1268 1079v12M1268 1071v3M1268 1067v2M1268 1061v2M1268 1051v2M1268 1047v2M1268 1043v2M1268 1039v2M1268 1015v4M1268 1003v6M1268 999v2M1268 995v2M1270 1107v15M1270 1065v14M1270 1055v2M1270 1051v2M1270 1047v2M1270 1041v2M1270 1035v4M1270 1025v2M1270 1019v2M1270 1015v2M1270 1011v2M1270 1005v4M1270 997v4M1270 989v6M1270 975v2M1272 1091v16M1272 1076v11M1272 1071v3M1272 1067v2M1272 1059v6M1272 1055v2M1272 1041v2M1272 1035v4M1272 1029v2M1272 1025v2M1272 1021v2M1272 1009v4M1272 985v8M1272 977v2M1272 970v5M1274 1059v2M1274 1049v2M1274 1043v2M1274 1037v4M1274 1027v2M1274 1019v2M1274 1015v2M1274 1007v2M1274 1003v2M1274 997v2M1274 991v2M1274 973v2M1276 1069v2M1276 1059v2M1276 1051v2M1276 1041v2M1276 1035v2M1276 1025v2M1276 1009v8M1276 977v6M1276 971v2M1278 1107v15M1278 1091v7M1278 1082v5M1278 1055v6M1278 1047v2M1278 1043v2M1278 1037v4M1278 1025v2M1278 1019v2M1278 987v4M1280 1057v4M1280 1037v4M1280 1025v10M1280 1017v4M1282 1079v19M1282 1069v2M1282 1057v2M1282 1053v2M1282 1035v2M1282 1031v2M1282 1025v2M1282 1013v4M1282 997v4M1282 989v6M1282 985v2M1282 975v6M1284 1082v9M1284 1069v2M1284 1061v6M1284 1049v4M1284 1039v2M1284 1029v2M1284 1017v2M1284 1011v4M1284 1005v4M1284 997v4M1284 989v6M1284 985v2M1284 979v4M1284 975v2M1284 971v2M1286 1091v7M1286 1082v5M1286 1076v3M1286 1065v4M1286 1053v2M1286 1049v2M1286 1035v2M1286 1015v4M1286 1011v2M1286 997v8M1286 991v2M1286 983v4M1286 977v4M1286 970v3M1288 1082v5M1288 1069v2M1288 1063v2M1288 1051v2M1288 1047v2M1288 1037v2M1288 1025v8M1288 1015v4M1288 1007v2M1288 997v6M1288 987v2M1288 983v2M1288 977v4M1288 970v3M1290 1053v4M1290 1049v2M1290 1039v2M1290 1025v2M1290 1015v4M1290 1011v2M1290 1003v6M1290 987v2M1290 981v4M1290 977v2M1290 971v2M1292 1057v2M1292 1045v2M1292 1031v6M1292 1027v2M1292 1017v4M1292 1009v2M1292 1001v2M1292 981v8M1292 977v2M1292 971v2M1294 1045v2M1294 1037v4M1294 1025v2M1294 1017v2M1294 1011v2M1294 999v4M1294 991v4M1294 985v4M1294 973v4M1296 1082v5M1296 1076v3M1296 1061v2M1296 1047v4M1296 1039v4M1296 1027v6M1296 1015v4M1296 1005v6M1296 999v2M1296 991v2M1296 979v2M1296 973v2M1298 1069v2M1298 1065v2M1298 1057v2M1298 1043v2M1298 1035v2M1298 1031v2M1298 1027v2M1298 1021v4M1298 1015v2M1298 1011v2M1298 1001v4M1298 987v4M1298 979v2M1298 973v2M1300 1059v2M1300 1041v2M1300 1035v4M1300 1023v4M1300 1017v4M1300 1013v2M1300 1009v2M1300 995v2M1300 989v2M1300 985v2M1300 981v2M1300 977v2M1302 1079v3M1302 1057v6M1302 1051v2M1302 1041v6M1302 1033v6M1302 1027v2M1302 1021v2M1302 1013v2M1302 989v2M1302 979v2M1302 975v2M1302 971v2M1304 1087v4M1304 1074v2M1304 1063v6M1304 1053v4M1304 1031v4M1304 1021v2M1304 1007v4M1304 1003v2M1304 997v2M1304 993v2M1304 985v4M1304 977v4M1414 1039v2M1414 1025v2M1414 1019v2M1414 1009v2M1414 1003v2M1414 997v4M1414 983v2M1414 979v2M1416 1053v2M1416 1029v4M1416 1019v2M1416 1013v4M1416 1005v2M1416 1001v2M1416 979v2M1416 973v2M1418 1031v2M1418 1011v4M1418 1001v2M1418 989v2M1418 983v2M1418 979v2M1418 973v2M1420 1029v2M1420 1021v4M1420 1011v4M1420 997v8M1420 985v6M1420 971v2M1422 1039v2M1422 1031v2M1422 1025v2M1422 1021v2M1422 1015v4M1422 1007v2M1422 1003v2M1422 995v4M1422 991v2M1422 985v2M1422 981v2M1422 975v2M1424 1045v2M1424 1029v2M1424 1021v6M1424 1013v2M1424 1003v2M1424 997v4M1424 991v2M1424 985v2M1426 1039v2M1426 1029v4M1426 1015v2M1426 1009v2M1426 995v6M1426 981v2M1426 971v4M1428 1033v6M1428 1027v2M1428 1013v8M1428 1009v2M1428 995v4M1428 989v2M1428 985v2M1428 975v4M1428 970v3M1430 1076v6M1430 1063v2M1430 1053v2M1430 1043v8M1430 1033v4M1430 1029v2M1430 1015v2M1430 993v2M1430 985v4M1430 975v4M1432 1107v15M1432 1076v3M1432 1057v4M1432 1041v6M1432 1033v2M1432 1021v2M1432 1015v2M1432 1007v2M1432 1001v2M1432 987v2M1432 971v4M1434 1098v9M1434 1074v5M1434 1059v4M1434 1045v6M1434 1035v6M1434 1025v2M1434 1021v2M1434 1015v4M1434 1005v6M1434 993v2M1434 989v2M1434 983v4M1434 979v2M1434 975v2M1436 1074v17M1436 1067v2M1436 1061v2M1436 1055v2M1436 1039v2M1436 1035v2M1436 1029v2M1436 1023v4M1436 1015v4M1436 999v4M1436 983v2M1436 979v2M1436 973v2M1438 1074v2M1438 1063v2M1438 1055v6M1438 1041v2M1438 1015v6M1438 1011v2M1438 1005v4M1438 1001v2M1438 991v2M1438 983v4M1438 970v1M1440 1061v2M1440 1053v2M1440 1045v2M1440 1031v4M1440 1025v4M1440 1021v2M1440 1011v2M1440 1003v4M1440 995v2M1440 985v2M1440 979v2M1440 975v2M1440 971v2M1442 1098v24M1442 1071v8M1442 1065v4M1442 1061v2M1442 1045v6M1442 1033v4M1442 1023v2M1442 1017v4M1442 995v2M1442 971v6M1444 1037v2M1444 1029v4M1444 1023v4M1444 1017v2M1444 1005v2M1444 991v6M1444 985v2M1444 977v2M1446 1045v2M1446 1039v2M1446 1035v2M1446 1029v2M1446 1019v2M1446 1015v2M1446 1011v2M1446 997v2M1446 975v2M1446 970v1M1448 1082v25M1448 1071v5M1448 1061v2M1448 1053v2M1448 1045v4M1448 1041v2M1448 1023v2M1448 1007v2M1448 995v2M1448 977v2M1450 1037v4M1450 1031v2M1450 1023v6M1450 1019v2M1450 1007v4M1450 999v2M1450 995v2M1450 987v6M1450 981v4M1450 977v2M1450 970v1M1452 1065v4M1452 1059v2M1452 1055v2M1452 1049v2M1452 1043v4M1452 1027v2M1452 1019v2M1452 1005v2M1452 993v2M1452 989v2M1452 975v2M1452 970v3M1454 1063v6M1454 1057v2M1454 1049v4M1454 1033v8M1454 1021v2M1454 1013v2M1454 1005v2M1454 991v2M1454 987v2M1454 977v6M1454 970v3M1456 1067v2M1456 1059v4M1456 1051v6M1456 1043v4M1456 1023v6M1456 1009v2M1456 999v2M1456 993v2M1456 983v2M1456 973v2M1456 970v1M1458 1079v3M1458 1061v2M1458 1049v2M1458 1035v8M1458 1029v4M1458 1019v6M1458 1015v2M1458 1005v6M1458 997v2M1458 993v2M1460 1074v2M1460 1053v10M1460 1047v4M1460 1037v2M1460 1031v2M1460 1027v2M1460 1019v6M1460 1015v2M1460 1005v2M1460 995v4M1460 989v4M1460 983v2M1460 977v4M1460 973v2M1462 1107v15M1462 1079v8M1462 1065v6M1462 1055v4M1462 1049v4M1462 1043v2M1462 1035v2M1462 1031v2M1462 1019v2M1462 1013v2M1462 1007v2M1462 999v2M1462 995v2M1462 985v8M1462 981v2M1462 973v2M1464 1107v15M1464 1082v5M1464 1074v2M1464 1069v2M1464 1061v4M1464 1051v8M1464 1047v2M1464 1039v2M1464 1033v2M1464 1025v2M1464 1013v8M1464 1007v4M1464 993v6M1464 985v2M1466 1082v5M1466 1061v2M1466 1057v2M1466 1049v6M1466 1043v2M1466 1037v4M1466 1025v8M1466 1015v6M1466 1005v4M1466 997v2M1466 993v2M1466 985v2M1468 1076v3M1468 1071v3M1468 1061v2M1468 1039v6M1468 1033v2M1468 1023v4M1468 1003v4M1468 991v6M1468 985v4M1470 1107v15M1470 1079v12M1470 1071v3M1470 1067v2M1470 1063v2M1470 1055v2M1470 1045v2M1470 1041v2M1470 1037v2M1470 1023v2M1470 1013v2M1470 1009v2M1470 1001v2M1470 989v2M1470 979v2M1470 975v2M1472 1069v2M1472 1025v12M1472 1019v2M1472 1013v2M1472 997v2M1472 993v2M1472 983v2M1472 979v2M1472 975v2M1472 970v3M1474 1076v22M1474 1065v4M1474 1059v4M1474 1049v8M1474 1045v2M1474 1035v2M1474 1029v2M1474 1021v2M1474 1015v2M1474 1011v2M1474 997v10M1474 993v2M1474 981v2M1474 973v4M1476 1076v3M1476 1057v2M1476 1049v4M1476 1033v10M1476 1011v2M1476 999v6M1476 991v2M1476 987v2M1476 983v2M1476 975v2M1478 1087v20M1478 1071v5M1478 1063v2M1478 1059v2M1478 1053v4M1478 1045v2M1478 1041v2M1478 1035v2M1478 1027v4M1478 1015v2M1478 1009v4M1478 997v4M1478 993v2M1478 987v2M1478 981v2M1478 977v2M1478 971v4M1480 1067v4M1480 1049v2M1480 1043v2M1480 1039v2M1480 1021v2M1480 1009v6M1480 999v2M1480 995v2M1480 985v6M1480 977v4M1480 973v2M1482 1107v15M1482 1087v11M1482 1074v2M1482 1059v12M1482 1055v2M1482 1047v6M1482 1039v2M1482 1031v2M1482 1023v6M1482 1013v4M1482 1009v2M1482 1005v2M1482 1001v2M1482 997v2M1482 989v4M1482 975v2M1482 970v1M1484 1053v2M1484 1043v2M1484 1039v2M1484 1033v2M1484 1021v4M1484 1017v2M1484 993v8M1484 977v2M1484 970v3M1486 1082v5M1486 1076v3M1486 1065v2M1486 1053v4M1486 1047v2M1486 1039v2M1486 1033v2M1486 1011v8M1486 1003v2M1486 995v4M1486 981v2M1486 971v2M1488 1061v4M1488 1055v2M1488 1051v2M1488 1047v2M1488 1025v2M1488 1017v2M1488 1007v2M1488 995v4M1488 991v2M1488 979v6M1488 975v2M1488 970v1M1490 1087v4M1490 1079v3M1490 1071v5M1490 1067v2M1490 1063v2M1490 1057v4M1490 1053v2M1490 1041v4M1490 1035v4M1490 1027v4M1490 1015v2M1490 1005v2M1490 999v2M1490 993v2M1490 981v2M1490 975v2M1490 970v1M1492 1091v31M1492 1076v11M1492 1059v2M1492 1051v2M1492 1045v2M1492 1039v4M1492 1033v2M1492 1021v2M1492 1007v4M1492 989v2M1492 985v2M1492 977v4M1492 971v4M1494 1076v3M1494 1065v2M1494 1059v2M1494 1053v4M1494 1049v2M1494 1041v4M1494 1029v8M1494 1019v2M1494 1007v8M1494 1001v4M1494 987v2M1494 977v2M1494 970v5" stroke="#0000b2" stroke-width="2" fill="none" shape-rendering="crispEdges"/>
<path d="M1305.5 1091v7M1305.5 1074v2M1305.5 1067v2M1305.5 1063v2M1305.5 1057v2M1305.5 1051v4M1305.5 1001v2M1305.5 991v2" stroke="#0000e5" stroke-width="1" fill="none" shape-rendering="crispEdges"/>
<path d="M706 1079v3M706 1071v5M706 1065v2M706 1047v2M706 1039v2M706 993v2M708 1053v4M708 1043v4M708 1029v10M708 1019v2M708 995v2M710 1074v2M710 1059v2M710 1045v2M710 1023v2M710 999v2M710 973v2M712 1063v2M712 1051v2M712 1047v2M712 1041v2M712 1035v2M712 1027v2M712 1019v2M712 1007v2M714 1074v2M714 1061v6M714 1055v2M714 1049v2M714 1041v4M714 979v2M714 975v2M714 970v1M716 1074v2M716 1067v2M716 1059v2M716 1049v4M716 1043v2M716 1039v2M716 1035v2M716 1029v2M718 1091v7M718 1071v3M718 1053v2M718 1045v4M718 1035v2M718 1005v4M718 999v2M720 1047v4M720 1033v8M720 981v2M722 1082v5M722 1059v2M722 1055v2M722 1047v2M722 1041v2M722 1035v2M722 1025v2M722 970v1M724 1049v2M724 1037v8M724 1031v2M724 1019v2M724 993v2M726 1067v2M726 1045v4M726 1033v8M726 970v1M728 1074v2M728 1049v2M728 1043v2M728 1035v2M728 1029v2M728 1025v2M728 1005v2M728 989v2M730 1069v2M730 1061v2M730 1035v4M730 1029v2M730 999v4M732 1087v4M732 1069v2M732 1045v16M732 1041v2M732 1015v2M732 1005v2M732 985v2M734 1071v3M734 1053v2M734 1039v2M734 1021v2M736 1047v6M736 1043v2M736 1037v2M736 1029v2M736 1025v2M738 1045v2M738 1041v2M738 1035v2M738 989v2M738 979v2M740 1041v4M740 1037v2M740 1031v4M740 1027v2M740 997v2M740 973v2M742 1057v2M742 1033v8M742 1027v2M742 1023v2M742 1013v2M742 993v2M744 1065v2M744 1031v6M744 1001v2M746 1055v2M746 1041v2M746 1027v2M746 1021v2M748 1035v2M748 1031v2M748 1025v4M748 971v2M750 1051v2M750 1047v2M750 1039v2M750 1015v2M750 989v2M752 1041v2M752 1033v2M754 1041v2M754 1029v2M754 1005v2M756 1059v2M756 1033v12M756 1005v4M756 983v2M758 1057v2M758 1051v2M758 1043v2M758 1039v2M758 1033v2M758 1029v2M758 1019v2M758 1009v2M758 999v2M760 1063v2M760 1057v2M760 1051v2M760 1045v2M760 1037v4M760 1031v2M760 993v2M760 971v2M764 993v2M766 1065v4M766 1057v2M766 1047v2M766 1039v6M766 1035v2M766 1029v4M768 1098v9M770 1107v15M770 1063v6M770 1059v2M770 1055v2M770 1047v2M770 1035v2M772 1098v9M772 1082v9M772 1074v2M772 1063v2M772 1057v2M774 1059v2M774 1017v2M776 1053v2M780 1074v5M780 1069v2M780 1057v6M780 1047v2M780 1035v8M782 1107v15M782 1087v4M782 1067v2M784 1069v10M784 1035v2M784 1027v2M786 1082v5M786 1059v4M786 1053v2M786 1049v2M786 1037v2M786 1033v2M786 983v2M788 1082v9M788 1069v5M788 1065v2M788 1061v2M788 1047v2M788 999v2M790 1074v2M790 1059v2M790 1053v2M790 1049v2M790 1043v4M790 1039v2M792 1074v2M792 1055v2M792 1051v2M792 1043v2M792 1027v4M792 977v2M794 1107v15M794 1067v2M794 1053v2M796 1082v9M796 1074v2M796 1065v4M796 1055v2M796 1051v2M796 1021v2M796 999v2M798 1061v2M798 1053v4M798 1047v2M798 1027v2M798 975v2M800 1107v15M800 1082v5M800 1074v2M800 1059v2M800 1055v2M800 1051v2M800 1037v2M800 970v1M802 1055v6M802 1045v2M802 1039v4M802 1029v4M802 1023v2M804 1107v15M804 1079v12M804 1047v2M806 1082v5M806 1076v3M806 1065v6M806 1061v2M806 1057v2M806 1051v2M806 1045v2M806 987v2M806 973v2M808 1079v3M808 1065v2M808 1051v2M808 1043v2M810 1071v3M810 1057v2M810 1049v2M810 1043v2M810 1037v4M810 1013v2M812 1067v2M812 1063v2M812 1051v2M812 1047v2M812 1043v2M812 1037v2M812 1031v2M814 1079v3M814 1074v2M814 1061v4M814 1051v6M814 1047v2M814 1043v2M814 1039v2M814 1011v4M816 1071v3M816 1067v2M816 1059v2M816 1055v2M816 1043v2M818 1071v3M818 1065v2M818 1055v2M818 1045v2M818 997v2M820 1082v16M820 1076v3M820 1067v2M820 1057v2M822 1069v2M822 1063v4M822 1059v2M822 1051v6M822 1043v4M822 1033v2M824 1091v7M824 1076v3M824 1071v3M824 1059v2M824 1055v2M824 1047v2M824 971v2M826 1065v2M826 1057v2M826 1047v8M826 1043v2M826 1035v6M826 1013v2M826 987v2M828 1107v15M828 1074v2M828 1059v4M828 1053v4M828 1047v2M828 1037v2M828 973v2M830 1076v6M830 1069v2M830 1059v2M830 1047v2M830 1043v2M830 1031v6M830 981v2M832 1082v5M832 1013v2M832 1003v2M834 1098v9M834 1076v3M834 1071v3M834 1055v2M836 1082v5M836 1065v6M836 1053v2M836 1039v2M838 1107v15M838 1091v7M838 1079v3M838 1069v7M838 1065v2M838 1029v2M840 1061v2M840 1053v2M840 1041v2M842 1071v3M842 1053v2M842 1049v2M844 1069v2M844 1037v8M844 1007v2M846 1082v5M846 1076v3M846 1063v2M846 1055v6M848 1107v15M848 1087v4M848 1076v3M848 1071v3M850 1091v7M850 1082v5M850 1071v5M850 1065v2M850 1061v2M850 1051v2M850 981v2M852 1082v5M852 1063v6M852 1057v4M852 1047v6M854 1087v4M854 1071v5M854 1055v6M854 1045v2M854 1031v4M856 1082v5M856 1063v11M856 1057v4M856 1053v2M856 1035v2M858 1079v8M858 1071v5M858 1061v8M858 1053v4M858 1045v2M860 1082v5M860 1071v3M860 1065v4M860 1057v4M860 1053v2M860 1013v2M862 1053v4M862 1043v6M862 1039v2M864 1061v2M864 1047v4M864 1043v2M864 1037v2M864 979v2M866 1047v2M866 1043v2M866 1035v2M866 987v2M868 1055v4M868 1047v2M868 1041v4M868 1035v2M868 1029v4M868 1011v4M870 1087v4M870 1076v3M870 1071v3M870 1063v4M870 1059v2M870 1039v2M870 971v2M872 1076v3M872 1067v2M872 1061v2M872 1057v2M872 1053v2M872 1047v2M872 1043v2M872 1037v4M872 1033v2M872 1005v2M872 971v2M874 1051v2M874 1047v2M874 1039v2M876 1107v15M876 1063v2M878 1082v5M878 1076v3M878 1063v2M878 1049v6M878 1043v2M878 1033v2M878 1007v2M880 1065v2M880 1057v2M880 1043v6M880 981v2M882 1055v2M882 1043v8M882 1031v2M882 1027v2M884 1071v3M884 1057v2M884 1049v2M886 1091v7M886 1082v5M886 1067v12M886 1061v4M886 1055v4M886 1049v4M886 1009v2M888 1079v3M888 1061v2M888 1053v6M888 1045v6M888 991v2M888 983v2M890 1045v2M892 1055v2M892 1051v2M892 1041v6M892 1037v2M892 979v2M894 1059v2M894 1041v6M894 1037v2M894 1031v2M894 1025v2M894 1005v2M894 1001v2M896 1074v2M896 1069v2M896 1061v4M896 1051v8M896 1043v2M896 1037v2M896 1025v2M896 1015v2M896 975v2M898 1051v2M898 1047v2M898 1041v2M898 1037v2M898 1031v2M898 1001v2M898 991v2M900 1087v4M900 1071v11M900 1067v2M900 1061v2M900 1055v2M900 1047v4M900 1039v2M900 977v2M902 1082v5M902 1074v2M902 1061v2M902 1051v6M902 1043v2M904 1082v9M904 1074v5M904 1067v2M904 1061v4M904 1057v2M904 1041v6M904 1037v2M904 1025v2M904 997v2M904 970v1M906 1076v6M906 1057v4M906 1051v2M906 1033v2M906 979v2M908 1055v2M908 1041v6M908 1035v2M910 1065v2M910 1055v2M910 1049v2M910 977v2M912 1045v2M912 1027v4M912 1015v2M912 985v6M912 973v2M914 1039v4M914 1033v4M914 1029v2M914 1009v2M914 993v2M916 1049v2M916 1033v8M916 1025v2M916 1009v2M916 971v2M918 1045v2M918 1041v2M918 1033v4M918 1027v2M918 1009v2M918 991v2M920 1039v4M920 1033v4M920 1021v4M920 995v2M920 987v2M922 1035v2M922 1021v2M922 975v2M922 971v2M924 1057v2M924 1047v2M924 1043v2M924 1039v2M924 1031v6M924 1023v2M924 1003v2M924 985v2M924 971v2M926 1031v2M926 1021v4M926 1017v2M926 997v2M926 981v4M928 1041v2M928 1031v2M928 1025v2M928 1005v2M928 997v2M928 983v4M928 977v2M928 973v2M930 1051v2M930 1045v2M930 1029v2M930 997v2M932 1067v2M932 1053v2M932 1047v2M932 1037v4M932 1031v2M932 1001v2M932 981v2M932 970v1M934 1082v5M934 1035v2M934 1027v2M934 1013v6M934 993v2M934 979v4M936 1035v6M936 1029v2M938 1043v6M938 1035v2M938 999v2M940 1057v2M940 1035v12M940 987v2M940 977v2M942 1039v2M942 1025v8M942 1015v2M942 989v2M942 983v2M942 971v2M944 1055v2M944 1045v2M944 1041v2M944 1037v2M944 1033v2M944 1021v2M944 1005v2M944 995v2M946 1039v2M946 1021v2M946 985v4M946 973v2M948 1037v6M948 1031v2M948 1027v2M948 1021v2M948 1013v2M950 1053v2M950 1035v4M950 1031v2M950 1017v2M950 989v2M950 981v2M952 1057v2M952 1039v2M952 1035v2M952 1027v2M952 997v2M954 1033v6M954 1027v2M954 1021v2M954 997v6M954 983v2M954 975v2M956 1069v2M956 1027v2M956 1021v4M956 1003v2M956 993v2M956 977v2M958 1033v4M958 1029v2M958 1025v2M958 993v2M960 1043v2M960 1031v4M960 1027v2M960 1021v2M962 1031v2M962 1025v2M962 1001v2M962 979v6M964 1029v4M964 1019v2M964 973v2M966 1039v4M966 1031v2M966 1025v2M966 1021v2M966 995v2M966 991v2M966 987v2M968 1049v2M968 1041v2M968 1037v2M968 1033v2M968 1027v2M968 981v2M970 1027v6M970 1021v2M970 999v2M970 993v2M970 975v2M972 1057v2M972 1049v2M972 1043v2M972 1035v2M972 1019v2M972 1013v2M974 1039v2M974 1025v2M976 1045v2M976 1039v2M976 1033v2M976 1029v2M976 1017v4M976 971v2M978 1045v4M978 1035v2M978 1025v2M978 973v2M980 1043v2M980 1039v2M980 1029v4M980 1001v2M980 971v2M982 1055v2M982 1047v2M982 1033v2M982 1029v2M982 1021v2M982 1001v2M984 1023v2M984 1017v4M984 991v4M984 985v4M984 971v2M986 1041v2M986 1029v6M986 1015v4M986 993v2M986 983v2M988 1039v2M988 1031v2M988 1027v2M988 1023v2M988 1019v2M988 1013v2M988 1005v2M988 999v4M988 995v2M990 1071v3M990 1039v2M990 1031v2M990 1027v2M990 1007v2M990 991v2M990 987v2M990 979v2M990 975v2M992 1051v2M992 1043v2M992 1037v4M992 1031v2M992 995v2M994 1059v2M994 1021v6M994 1003v2M994 993v2M994 987v2M994 977v2M996 1071v3M996 1045v2M996 1025v10M996 1021v2M996 1011v2M996 995v2M996 987v2M998 1035v2M998 1027v4M998 1011v2M1000 1035v2M1000 1023v2M1000 993v2M1000 977v2M1002 1039v8M1002 1023v2M1002 989v2M1004 1037v2M1004 1033v2M1004 989v2M1004 973v2M1006 1041v2M1006 1037v2M1006 1033v2M1006 1025v2M1006 999v2M1008 1041v2M1008 1035v4M1008 1029v2M1008 1021v2M1008 1015v2M1008 997v4M1008 993v2M1008 985v2M1010 1055v2M1010 1045v2M1010 1037v4M1010 1029v2M1010 1011v2M1010 993v2M1010 970v1M1012 1041v2M1012 1037v2M1012 1033v2M1012 1027v2M1014 1051v2M1014 1025v2M1014 981v2M1016 1043v4M1016 1035v2M1016 1027v2M1016 1007v2M1016 975v2M1018 1057v2M1018 1051v2M1018 1045v2M1018 1041v2M1018 1035v4M1018 1031v2M1018 1021v2M1018 1009v2M1018 1005v2M1018 997v2M1018 971v2M1020 1059v2M1020 1043v2M1020 1035v2M1020 1011v2M1022 1067v2M1022 1047v2M1022 1037v2M1022 1029v6M1022 1025v2M1022 1021v2M1022 989v2M1024 1041v2M1024 1027v4M1024 1023v2M1024 979v2M1026 1074v2M1026 1045v2M1026 1039v2M1026 1029v6M1026 1019v4M1026 1009v2M1028 1037v2M1028 1031v2M1028 1025v2M1028 1001v2M1028 985v2M1030 1051v2M1030 1047v2M1030 1031v4M1030 1025v2M1030 1021v2M1030 1017v2M1032 1051v2M1032 1039v2M1032 1035v2M1032 1025v2M1032 993v2M1032 981v2M1034 1057v2M1034 1051v2M1034 1033v2M1034 1029v2M1034 1021v4M1034 1015v2M1034 1005v2M1034 975v4M1034 971v2M1036 1043v2M1036 1029v2M1036 1025v2M1036 1015v2M1036 991v4M1038 1055v2M1038 1049v2M1038 1033v2M1038 1029v2M1038 1021v2M1038 1015v2M1038 1003v2M1040 1037v2M1040 1031v4M1040 993v2M1042 1067v2M1042 1053v2M1042 1045v2M1042 1035v4M1042 1029v2M1042 1021v6M1042 1005v8M1042 999v2M1042 995v2M1042 975v4M1044 1045v2M1044 1039v2M1044 1033v4M1044 1027v4M1044 1021v4M1044 1015v2M1044 1011v2M1044 971v2M1046 1059v2M1046 1045v2M1046 1037v2M1046 1031v4M1046 1023v2M1046 977v2M1046 971v2M1048 1037v4M1048 1029v6M1048 1007v2M1048 970v5M1050 1025v4M1050 1015v2M1050 1009v2M1050 1005v2M1050 975v2M1052 1045v2M1052 1037v2M1052 1031v2M1052 1021v8M1052 1009v2M1052 985v2M1052 975v2M1052 971v2M1054 1043v2M1054 1039v2M1054 1029v2M1054 1011v2M1054 1003v2M1054 970v1M1056 1057v2M1056 1049v2M1056 1041v2M1056 1035v2M1056 1031v2M1056 1025v2M1056 1021v2M1056 987v2M1056 979v2M1058 1045v2M1058 1041v2M1058 1033v4M1058 1027v4M1058 1003v2M1058 991v4M1060 1057v2M1060 1019v2M1060 1007v2M1060 999v2M1060 985v2M1062 1041v2M1062 1037v2M1062 1031v2M1062 1023v2M1062 1019v2M1062 1015v2M1062 981v2M1064 1069v2M1064 1035v4M1064 1029v2M1064 1009v2M1064 999v2M1066 1067v2M1066 1049v4M1066 1033v2M1066 1029v2M1068 1043v6M1068 1037v2M1068 1031v4M1068 1027v2M1068 1017v2M1070 1061v2M1070 1051v4M1070 1041v6M1070 1035v2M1070 1001v2M1072 1049v6M1072 1043v4M1072 1037v4M1072 1025v8M1074 1049v4M1076 1033v4M1076 1027v2M1076 1017v4M1078 1061v2M1078 1049v2M1078 1045v2M1078 1041v2M1078 1031v6M1078 981v2M1080 1057v2M1080 1049v4M1080 1041v2M1080 1027v2M1080 1009v4M1080 987v2M1080 975v2M1082 1057v2M1082 1047v2M1082 1017v2M1082 1007v2M1084 1059v6M1084 1051v4M1086 1051v2M1086 1029v2M1086 1021v2M1086 1015v2M1086 1001v2M1088 1051v2M1088 1043v2M1088 1035v2M1088 1029v2M1088 979v2M1090 1041v4M1090 1037v2M1090 1027v6M1090 977v2M1092 1035v4M1092 1029v4M1092 991v2M1092 983v2M1094 1055v4M1094 1045v2M1094 1039v2M1094 1035v2M1094 1019v2M1094 1007v2M1094 1003v2M1096 1039v2M1096 1025v6M1096 1013v2M1096 991v2M1096 979v2M1098 1067v2M1098 1035v4M1098 1027v4M1098 1023v2M1098 1001v2M1098 979v2M1100 1061v2M1100 1043v2M1100 1031v2M1100 1025v2M1100 1019v4M1100 999v2M1100 981v2M1102 1045v2M1102 1033v2M1102 1027v4M1102 1017v2M1102 995v2M1104 1065v2M1104 1051v2M1104 1043v2M1104 1029v2M1104 1023v2M1104 1019v2M1104 1011v2M1104 999v2M1104 970v1M1106 1037v2M1106 1033v2M1106 1023v8M1106 1019v2M1106 977v6M1108 1049v2M1108 1039v2M1108 1027v8M1108 999v2M1110 1039v4M1110 1031v2M1110 1025v2M1110 1017v2M1110 1001v2M1110 973v2M1112 1039v2M1112 1025v4M1112 983v2M1114 1057v2M1114 1039v2M1114 1031v6M1114 1021v4M1114 1007v2M1114 987v2M1114 979v2M1116 1043v2M1116 1033v2M1116 1029v2M1116 1025v2M1116 1021v2M1116 1001v2M1116 970v1M1118 1041v2M1118 1035v2M1118 1031v2M1118 1021v6M1118 1005v2M1118 985v2M1120 1035v2M1120 1031v2M1120 1023v4M1120 1017v2M1120 1013v2M1120 971v4M1122 1065v2M1122 1059v2M1122 1037v2M1122 1033v2M1122 1025v2M1122 1015v2M1124 1035v4M1124 1027v2M1124 1023v2M1126 1039v4M1126 1033v2M1126 1027v2M1126 1023v2M1126 999v2M1126 985v4M1126 979v2M1126 975v2M1128 1057v2M1128 1041v2M1128 1017v4M1128 1011v2M1128 1005v2M1130 1059v2M1130 1045v2M1130 1037v2M1130 1029v4M1130 1013v4M1130 997v2M1130 991v2M1130 977v2M1132 1037v2M1132 1031v2M1132 1025v2M1132 1019v2M1132 1009v2M1132 997v6M1132 973v2M1134 1027v6M1134 1021v2M1134 1007v2M1136 1059v2M1136 1043v2M1136 1031v2M1136 1027v2M1136 1015v2M1136 991v4M1138 1029v2M1138 1021v2M1138 1007v2M1138 999v2M1140 1057v2M1140 1035v2M1140 1029v4M1142 1091v7M1142 1019v4M1142 1015v2M1142 1003v2M1142 987v2M1142 979v2M1144 1035v2M1144 1025v2M1144 1017v4M1144 1013v2M1144 1005v2M1144 999v2M1144 989v2M1146 1037v4M1146 1031v2M1146 1019v2M1146 1009v2M1146 1003v2M1146 979v2M1148 1057v2M1148 1043v4M1148 1039v2M1148 1035v2M1148 1029v4M1148 1023v2M1148 1019v2M1148 1013v2M1148 995v2M1148 977v2M1150 1031v2M1150 1019v4M1150 1001v2M1150 985v2M1152 1035v4M1152 1023v10M1152 1009v2M1152 997v4M1152 989v2M1152 979v2M1152 971v4M1154 1063v2M1154 1033v2M1154 1025v2M1154 1003v2M1156 1051v2M1156 1029v2M1156 1005v2M1156 995v2M1156 983v2M1158 1031v4M1158 989v2M1160 1031v2M1160 1027v2M1160 1021v2M1160 1017v2M1160 987v2M1160 975v2M1162 1041v2M1162 1023v8M1162 1019v2M1162 1009v4M1162 973v2M1164 1057v2M1164 1035v2M1164 1029v2M1164 1025v2M1164 1021v2M1164 1003v2M1164 989v2M1164 983v2M1164 970v1M1166 1035v4M1166 1019v4M1168 1033v4M1168 1025v4M1168 1013v2M1168 1009v2M1170 1035v2M1170 1029v2M1170 1023v2M1170 979v2M1172 1059v2M1172 1053v2M1172 1031v8M1172 1027v2M1174 1017v2M1176 1045v2M1176 1039v2M1176 1021v12M1176 1017v2M1176 1007v2M1176 989v2M1178 1029v8M1178 1023v4M1178 1017v2M1178 1003v2M1178 991v2M1180 1067v2M1180 1041v2M1180 1037v2M1180 1031v4M1180 991v2M1182 1049v2M1182 1035v2M1182 1029v4M1182 1023v2M1184 1063v2M1184 1059v2M1184 1047v2M1184 1043v2M1184 1039v2M1186 1059v2M1186 1039v2M1186 1031v4M1186 989v2M1188 1039v4M1188 1027v10M1188 993v2M1188 983v2M1190 1059v2M1190 1055v2M1190 1049v2M1190 1037v6M1190 1027v2M1190 993v2M1192 1045v2M1192 1039v2M1192 1033v2M1192 991v2M1192 981v2M1192 971v4M1194 1047v2M1194 1043v2M1194 1035v2M1194 1029v2M1194 1023v2M1194 1017v4M1194 1011v2M1194 995v2M1196 1049v4M1196 1045v2M1196 1041v2M1196 1029v2M1196 997v4M1198 1063v2M1198 1053v2M1198 1045v4M1198 1041v2M1198 1037v2M1198 1017v2M1198 995v2M1200 1067v2M1200 1051v2M1200 1047v2M1200 1035v2M1200 1025v6M1200 1011v2M1202 1059v2M1202 1055v2M1202 1035v2M1204 1045v2M1204 1033v2M1204 1027v2M1204 1003v2M1206 1045v2M1206 1041v2M1206 1033v2M1206 1029v2M1206 1007v2M1206 970v1M1208 1051v6M1208 1047v2M1208 1035v8M1208 1031v2M1208 1027v2M1208 1009v2M1208 999v2M1208 977v2M1210 1063v2M1210 1055v2M1210 1047v4M1210 1039v4M1210 1033v2M1210 1027v2M1210 977v2M1212 1069v2M1212 1063v2M1212 1045v4M1212 1037v4M1212 1011v2M1214 1079v3M1214 1071v3M1214 1065v2M1214 1055v4M1214 1047v2M1214 1029v2M1216 973v2M1218 1063v2M1218 1053v2M1218 1041v8M1218 1035v2M1220 1051v2M1220 1041v4M1220 1033v6M1220 1027v4M1222 1076v3M1222 1063v2M1222 1047v6M1222 1041v4M1222 1007v2M1224 1045v2M1224 1039v4M1224 1023v4M1224 1009v2M1226 1071v3M1226 1055v6M1226 1047v4M1226 1041v2M1226 989v2M1228 1049v2M1228 1037v4M1228 1033v2M1228 1027v4M1228 1023v2M1228 981v4M1230 1051v2M1230 1039v4M1230 1035v2M1230 1027v2M1232 1051v4M1232 1043v4M1232 1035v2M1232 1021v2M1234 1074v2M1234 1063v4M1234 1053v6M1234 975v2M1236 1082v5M1236 1063v4M1236 1059v2M1236 1049v6M1236 1037v2M1238 1057v6M1238 1045v8M1238 1033v2M1238 1027v2M1238 979v2M1240 1055v2M1240 1047v2M1240 1031v4M1240 1009v2M1240 977v2M1240 970v1M1242 1091v7M1242 1074v5M1242 1069v2M1242 1065v2M1242 1057v2M1242 1051v2M1244 1055v4M1244 1051v2M1244 1043v4M1244 1039v2M1244 1027v2M1246 1055v2M1246 1049v2M1246 1041v6M1246 1009v2M1248 1043v2M1248 1035v4M1248 1027v2M1250 1063v2M1250 1055v2M1250 1039v4M1250 983v2M1252 1071v5M1252 1067v2M1252 1061v2M1252 1049v2M1252 1043v2M1252 987v2M1252 971v2M1254 1091v7M1254 1082v5M1254 1069v2M1254 1057v2M1254 1053v2M1254 1049v2M1254 1037v2M1254 1033v2M1254 1021v2M1254 1011v2M1254 995v2M1254 970v1M1256 1098v9M1256 1087v4M1256 1076v3M1256 1071v3M1256 1063v2M1256 1055v2M1256 1035v2M1256 1023v4M1258 1057v2M1258 1041v2M1258 1035v4M1258 1025v4M1258 1021v2M1258 993v2M1258 987v2M1260 1069v2M1260 1051v6M1260 1041v6M1260 1037v2M1260 1031v2M1262 1087v4M1262 1074v2M1262 1067v2M1262 1059v6M1262 1053v2M1262 1045v2M1262 1015v2M1262 1003v2M1262 991v2M1262 983v2M1264 1082v5M1264 1076v3M1264 1069v2M1264 1061v6M1264 1053v4M1266 1051v2M1266 1045v2M1266 1031v2M1266 1019v2M1266 977v2M1270 1079v28M1270 1059v4M1272 1107v15M1272 1087v4M1272 1074v2M1272 1005v2M1274 1076v3M1274 1071v3M1274 1065v2M1274 1061v2M1274 1053v2M1274 1045v4M1274 1041v2M1274 1033v2M1274 1011v2M1276 1082v5M1276 1076v3M1276 1063v2M1276 1053v4M1276 1047v4M1276 1037v2M1276 1033v2M1278 1098v9M1278 1087v4M1278 1079v3M1278 1001v2M1278 977v2M1280 1079v3M1280 1065v2M1280 1061v2M1280 1053v4M1280 1045v6M1280 1041v2M1280 987v2M1282 1005v2M1284 1091v16M1284 1074v8M1284 1067v2M1284 1055v4M1284 1035v2M1284 1031v2M1286 1087v4M1286 1021v2M1286 1007v2M1288 1087v4M1288 1074v5M1288 1065v2M1288 1053v8M1290 1071v8M1290 1065v4M1290 1059v4M1290 1051v2M1290 1043v6M1290 1021v2M1292 1061v2M1292 1049v2M1292 1037v8M1292 1029v2M1292 999v2M1294 1065v9M1294 1057v6M1294 1051v4M1294 1047v2M1294 1041v2M1294 1035v2M1294 1007v2M1296 1074v2M1296 1067v2M1296 1059v2M1296 1051v6M1296 1043v2M1296 1037v2M1298 1087v4M1298 1063v2M1298 1053v2M1298 1037v2M1298 995v2M1300 1061v4M1300 1055v4M1300 1043v2M1300 1033v2M1300 1029v2M1300 1011v2M1302 1071v8M1302 1063v6M1302 1053v2M1302 1047v2M1302 1017v2M1302 1011v2M1302 981v2M1304 1069v5M1304 1057v2M1304 1051v2M1304 1045v2M1304 1041v2M1414 1043v4M1414 1027v6M1414 1007v2M1414 971v4M1416 1033v2M1416 1021v8M1416 1009v2M1416 991v4M1416 981v2M1418 1051v2M1418 1041v2M1418 1033v6M1418 1027v4M1418 991v2M1420 1041v4M1420 1033v4M1420 1027v2M1420 995v2M1420 970v1M1422 1063v2M1422 1033v2M1422 1019v2M1422 973v2M1424 1067v2M1424 1059v2M1424 1047v2M1424 1035v4M1424 1027v2M1424 1017v2M1424 987v4M1424 977v4M1426 1033v4M1426 1025v4M1426 1001v4M1426 970v1M1428 1057v2M1428 1041v10M1428 1031v2M1428 983v2M1430 1082v5M1430 1065v2M1430 1055v6M1430 1051v2M1430 1041v2M1432 1069v2M1434 1087v4M1434 1065v4M1434 1057v2M1434 1011v2M1436 1091v7M1438 1091v31M1438 1076v6M1440 1079v8M1440 1069v5M1440 1065v2M1440 1059v2M1440 1055v2M1440 1047v4M1440 973v2M1442 1087v4M1442 1079v3M1444 1059v2M1444 1049v2M1444 1045v2M1444 1033v4M1444 1027v2M1444 1009v2M1446 1082v5M1446 1065v2M1446 1061v2M1446 1057v2M1446 1047v4M1446 1031v2M1448 1037v2M1450 1051v2M1450 1045v2M1450 1035v2M1452 1074v24M1452 1061v4M1452 1057v2M1452 1037v4M1454 1082v9M1454 1069v10M1454 1045v2M1456 1098v24M1456 1079v8M1456 1071v5M1456 1065v2M1456 1057v2M1456 1049v2M1458 1107v15M1458 1091v7M1458 1082v5M1458 1074v5M1458 1063v8M1458 1057v2M1460 1091v7M1460 1076v3M1460 1069v2M1460 1065v2M1460 1051v2M1462 1071v8M1462 1059v6M1462 1039v2M1464 1087v20M1464 1076v3M1464 1059v2M1464 1021v2M1466 1074v8M1466 1067v2M1466 1055v2M1466 1045v4M1466 987v2M1468 1079v8M1468 1069v2M1468 1063v4M1468 1053v8M1468 1045v4M1470 1091v16M1470 1076v3M1470 1069v2M1472 1055v2M1472 1047v2M1472 1041v2M1472 1037v2M1472 1023v2M1474 1107v15M1474 1074v2M1474 995v2M1476 1071v5M1476 1063v6M1476 1059v2M1476 1053v2M1476 1047v2M1476 1043v2M1476 1009v2M1476 970v1M1478 1107v15M1478 1079v8M1480 1065v2M1482 1098v9M1482 1082v5M1484 1059v2M1484 1045v2M1484 1041v2M1484 1035v4M1484 1027v6M1484 1011v2M1486 1107v15M1486 1087v4M1486 1079v3M1486 1071v5M1488 1076v3M1488 1071v3M1488 1057v2M1488 1053v2M1488 1049v2M1488 1039v8M1490 1082v5M1490 1069v2M1490 1061v2M1492 1071v5M1492 1065v4M1492 1019v2M1492 1001v2M1494 1082v9M1494 1067v9M1494 1045v2M1494 1023v2M1494 1005v2" stroke="#0000e5" stroke-width="2" fill="none" shape-rendering="crispEdges"/>
<path d="M1305.5 1098v24M1305.5 1087v4" stroke="#0019ff" stroke-width="1" fill="none" shape-rendering="crispEdges"/>
<path d="M706 1087v4M706 1063v2M706 1055v4M706 1049v2M708 1076v3M708 1065v2M708 1057v2M708 1049v2M708 1041v2M710 1061v8M710 1051v4M710 1041v2M710 1035v2M712 1053v2M712 1049v2M712 1043v4M712 1037v2M714 1082v5M714 1067v7M714 1059v2M716 1045v2M716 1037v2M718 1079v3M718 1065v4M718 1057v6M718 1049v4M720 1069v2M720 1053v6M720 1041v6M722 1079v3M722 1067v2M722 1061v4M722 1043v4M724 1082v9M724 1069v5M724 1063v4M724 1055v2M724 1047v2M726 1082v5M726 1069v5M726 1063v4M726 1057v4M726 1049v4M728 1065v2M728 1059v2M728 1051v6M728 1045v4M728 1039v2M730 1065v2M730 1059v2M730 1049v6M730 1041v2M732 1091v7M732 1079v3M732 1061v4M734 1065v2M734 1061v2M734 1047v6M734 1041v2M734 1033v2M736 1076v3M736 1063v2M736 1057v4M736 1045v2M736 1035v2M738 1057v2M738 1049v2M738 1039v2M738 1033v2M740 1069v2M740 1055v4M740 1047v2M740 1039v2M742 1059v2M742 1055v2M742 1051v2M742 1043v6M744 1076v6M744 1037v2M746 1059v2M746 1043v6M746 1039v2M746 1035v2M748 1049v6M748 1045v2M748 1037v6M750 1071v3M750 1055v2M750 1049v2M750 1045v2M752 1059v2M752 1047v2M752 1043v2M752 1035v2M754 1069v2M754 1055v2M754 1049v4M754 1043v2M754 1037v2M756 1061v4M756 1051v2M756 1045v2M756 1031v2M758 1055v2M758 1047v2M758 1041v2M758 1037v2M760 1065v2M760 1061v2M760 1055v2M760 1047v4M766 1069v2M766 1059v4M766 1049v8M770 1098v9M770 1071v11M770 1057v2M772 1107v15M772 1091v7M780 1079v8M780 1067v2M780 1063v2M784 1107v15M784 1087v11M784 1079v3M786 1063v4M786 1057v2M786 1047v2M788 1091v16M788 1079v3M790 1063v8M790 1055v4M792 1061v13M792 1057v2M796 1091v31M796 1076v3M796 1071v3M798 1082v5M798 1074v5M798 1067v2M798 1063v2M798 1059v2M798 1049v4M800 1091v7M800 1079v3M800 1071v3M800 1067v2M800 1057v2M800 1041v2M802 1076v3M802 1065v2M802 1061v2M802 1049v6M802 1035v2M806 1098v9M806 1087v4M806 1079v3M806 1071v3M806 1063v2M808 1067v2M808 1053v10M808 1049v2M808 1045v2M810 1076v3M810 1065v2M810 1061v2M810 1053v2M810 1047v2M812 1074v2M812 1069v2M812 1061v2M812 1055v4M814 1107v15M814 1087v4M814 1076v3M814 1067v7M814 1059v2M816 1074v17M816 1069v2M816 1065v2M816 1061v2M818 1082v9M818 1076v3M818 1069v2M818 1059v2M818 1049v2M820 1107v15M822 1082v5M822 1071v3M822 1057v2M824 1079v12M824 1069v2M824 1057v2M826 1067v7M826 1059v4M826 1055v2M826 1045v2M826 1041v2M828 1076v6M828 1069v5M830 1091v16M830 1074v2M830 1067v2M830 1063v2M830 1053v2M830 1049v2M834 1082v16M834 1074v2M834 1069v2M834 1061v2M834 1053v2M836 1107v15M836 1087v4M836 1074v2M836 1057v2M838 1098v9M840 1071v8M840 1067v2M840 1063v2M840 1059v2M840 1049v2M842 1076v6M842 1061v10M842 1055v2M844 1079v3M844 1067v2M844 1055v6M844 1049v2M846 1107v15M846 1091v7M846 1079v3M846 1074v2M846 1067v4M850 1098v9M850 1087v4M852 1107v15M852 1091v7M852 1074v8M852 1069v2M854 1082v5M854 1076v3M854 1067v4M854 1061v4M854 1053v2M856 1087v20M856 1076v6M858 1087v11M858 1076v3M860 1098v9M860 1087v4M860 1079v3M860 1074v2M862 1074v2M862 1065v6M862 1057v4M862 1049v2M862 1041v2M864 1071v3M864 1067v2M864 1063v2M864 1059v2M864 1055v2M866 1063v4M866 1053v6M866 1049v2M866 1039v4M866 1033v2M868 1082v5M868 1045v2M868 1039v2M870 1091v7M870 1079v8M870 1074v2M870 1067v4M870 1061v2M872 1079v3M872 1063v4M872 1059v2M872 1055v2M872 1049v4M874 1061v4M874 1053v6M874 1049v2M874 1041v6M874 1035v2M878 1107v15M878 1091v7M878 1079v3M878 1069v5M878 1065v2M878 1061v2M880 1076v3M880 1067v4M880 1061v2M880 1055v2M880 1049v2M882 1082v5M882 1065v2M882 1057v2M882 1051v2M882 1035v8M884 1091v7M884 1074v5M884 1063v6M884 1059v2M884 1055v2M886 1079v3M888 1076v3M888 1063v6M890 1069v2M890 1061v2M890 1053v6M890 1043v2M892 1082v5M892 1069v5M892 1065v2M892 1053v2M894 1063v2M894 1057v2M894 1053v2M894 1049v2M896 1079v8M896 1065v4M896 1059v2M898 1071v3M898 1059v8M898 1053v4M898 1043v4M900 1091v16M900 1082v5M900 1069v2M900 1065v2M902 1091v7M902 1069v5M902 1063v4M904 1107v15M904 1069v5M904 1059v2M906 1082v5M906 1071v5M906 1067v2M906 1055v2M908 1098v9M908 1074v2M908 1069v2M908 1065v2M908 1061v2M908 1049v2M910 1067v4M910 1063v2M910 1051v2M912 1051v2M912 1037v4M912 1033v2M914 1067v2M914 1059v2M914 1047v2M914 1043v2M916 1041v8M916 1031v2M918 1059v2M918 1051v2M920 1045v2M920 1037v2M922 1047v6M922 1041v4M922 1031v2M924 1069v2M924 1059v2M924 1049v4M924 1041v2M926 1041v2M926 1033v2M926 1029v2M928 1049v2M928 1045v2M928 1033v4M928 1023v2M930 1055v2M930 1047v2M930 1035v4M930 1031v2M930 1023v2M932 1091v7M932 1071v3M932 1065v2M932 1055v6M932 1049v4M932 1045v2M932 1035v2M932 985v2M934 1043v4M934 1039v2M934 1031v4M936 1025v2M938 1041v2M940 1063v2M940 1055v2M940 1051v2M942 1041v2M942 1037v2M944 1061v2M944 1039v2M944 1035v2M946 1061v2M946 1051v4M946 1045v2M946 1041v2M946 1033v2M948 1045v4M948 1033v4M948 1029v2M950 1039v4M952 1087v4M952 1069v2M952 1061v2M952 1043v2M952 1031v2M954 1074v2M954 1069v2M954 1047v2M954 1043v2M954 1029v2M956 1059v4M956 1049v2M956 1041v4M956 1037v2M956 1029v6M958 1051v4M958 1047v2M958 1039v2M960 1035v4M962 1059v2M962 1047v2M962 1037v4M962 1029v2M964 1076v3M964 1039v8M964 1033v4M966 1055v2M966 1035v4M968 1043v4M968 1039v2M968 1035v2M970 1041v4M970 1033v4M972 1053v2M972 1041v2M972 1037v2M972 1033v2M972 1029v2M974 1071v3M974 1053v6M974 1041v2M974 1037v2M974 1031v2M974 1027v2M976 1043v2M976 1035v2M978 1065v2M978 1061v2M978 1057v2M978 1051v2M978 1043v2M978 1037v2M978 1033v2M980 1053v2M980 1045v2M980 1041v2M980 1033v4M980 1025v2M982 1069v2M982 1053v2M982 1043v4M982 1031v2M984 1049v2M984 1037v6M984 1027v2M986 1049v2M986 1045v2M986 1035v4M988 1067v2M988 1051v6M988 1045v2M988 1041v2M988 1035v4M990 1053v2M990 1041v8M990 1033v4M992 1057v4M992 1045v4M992 1033v2M994 1061v2M994 1057v2M994 1053v2M994 1039v4M994 1031v6M996 1035v6M998 1049v2M998 1037v8M1000 1043v4M1000 1037v2M1002 1055v2M1002 1051v2M1002 1033v6M1004 1053v2M1004 1043v2M1006 1065v2M1006 1053v2M1006 1043v2M1006 1039v2M1006 1029v4M1008 1045v2M1008 1039v2M1008 1031v4M1008 1023v2M1010 1041v2M1010 1031v2M1012 1047v2M1012 1029v4M1014 1053v2M1014 1047v2M1014 1041v2M1014 1035v4M1014 1027v2M1016 1055v2M1016 1051v2M1016 1047v2M1016 1039v4M1016 1031v2M1018 1049v2M1018 1043v2M1018 1039v2M1018 1033v2M1020 1045v2M1020 1037v2M1020 1027v2M1022 1055v2M1022 1039v6M1024 1051v2M1024 1043v6M1024 1021v2M1026 1061v4M1026 1047v2M1026 1041v4M1026 1037v2M1028 1049v2M1028 1043v2M1030 1055v2M1030 1049v2M1030 1045v2M1030 1035v4M1032 1071v3M1032 1045v2M1032 1041v2M1032 1029v6M1034 1049v2M1034 1043v2M1034 1027v2M1036 1045v2M1036 1033v6M1038 1059v2M1038 1037v10M1040 1045v4M1040 1039v2M1042 1076v3M1042 1051v2M1042 1047v2M1042 1039v2M1042 1033v2M1044 1053v2M1044 1041v2M1044 1037v2M1046 1049v2M1046 1039v6M1046 1029v2M1048 1059v2M1048 1051v2M1048 1043v4M1048 1035v2M1050 1049v4M1050 1043v4M1050 1039v2M1050 1031v4M1052 1061v2M1052 1035v2M1054 1071v3M1054 1061v2M1054 1045v2M1054 1041v2M1054 1037v2M1054 1031v2M1056 1082v5M1056 1053v2M1056 1043v4M1056 1037v4M1056 1029v2M1058 1055v4M1058 1047v4M1058 1037v4M1060 1045v6M1060 1033v2M1060 1029v2M1062 1059v2M1062 1051v2M1062 1045v4M1062 1039v2M1062 1035v2M1062 1027v2M1064 1053v2M1064 1049v2M1064 1043v2M1064 1039v2M1066 1076v3M1066 1071v3M1066 1065v2M1066 1061v2M1066 1053v6M1068 1049v2M1068 1035v2M1070 1074v2M1070 1069v2M1070 1057v2M1070 1047v2M1072 1055v2M1072 1047v2M1074 1071v5M1074 1063v2M1074 1057v2M1074 1053v2M1074 1047v2M1076 1065v2M1076 1061v2M1076 1053v4M1076 1045v2M1076 1037v2M1076 1031v2M1078 1051v6M1078 1043v2M1080 1063v2M1080 1059v2M1080 1055v2M1080 1043v2M1080 1039v2M1082 1074v2M1082 1069v2M1082 1049v2M1082 1041v4M1082 1029v2M1084 1076v6M1084 1065v6M1084 1055v4M1084 1047v2M1086 1059v2M1086 1037v12M1086 1033v2M1088 1065v2M1088 1053v6M1088 1045v6M1088 1039v4M1088 1031v2M1090 1061v2M1090 1045v2M1090 1039v2M1092 1061v2M1092 1055v2M1092 1049v2M1092 1041v2M1094 1074v2M1094 1061v4M1094 1049v2M1094 1043v2M1096 1041v4M1096 1037v2M1096 1031v2M1098 1041v6M1098 1033v2M1100 1055v2M1100 1051v2M1100 1045v2M1100 1041v2M1100 1035v2M1102 1047v2M1102 1043v2M1102 1035v2M1102 1025v2M1104 1055v2M1104 1047v2M1104 1037v2M1104 1033v2M1106 1061v2M1106 1041v8M1106 1035v2M1108 1041v6M1108 1035v2M1110 1059v2M1110 1053v2M1110 1049v2M1110 1035v2M1112 1053v2M1112 1045v4M1112 1037v2M1112 1031v4M1114 1055v2M1114 1043v4M1114 1029v2M1116 1063v2M1116 1055v2M1116 1035v8M1116 1027v2M1118 1067v2M1118 1063v2M1118 1053v2M1118 1027v2M1120 1074v2M1120 1063v2M1120 1045v4M1120 1041v2M1122 1053v2M1122 1045v2M1122 1027v2M1124 1051v2M1124 1047v2M1124 1041v4M1124 1033v2M1126 1043v2M1126 1031v2M1128 1051v4M1128 1035v2M1128 1031v2M1128 1013v2M1130 1055v2M1130 1041v2M1130 1035v2M1132 1059v2M1132 1039v2M1132 1035v2M1134 1053v2M1134 1043v2M1134 1035v6M1136 1045v8M1136 1039v4M1136 1035v2M1138 1069v2M1138 1063v2M1138 1047v2M1138 1035v4M1138 1031v2M1140 1059v2M1142 1037v6M1144 1043v2M1144 1039v2M1144 1027v2M1144 1009v2M1146 1049v2M1146 1041v4M1148 1037v2M1150 1043v2M1150 1033v4M1150 1029v2M1152 1067v2M1152 1047v2M1152 1041v4M1154 1047v2M1154 1043v2M1154 1037v4M1154 1029v2M1156 1065v2M1156 1049v2M1158 1057v2M1158 1049v6M1158 1039v6M1158 1035v2M1158 1029v2M1160 1043v2M1162 1049v2M1162 1043v2M1162 1039v2M1162 1033v4M1164 1049v2M1164 1043v4M1164 1013v2M1166 1067v2M1166 1061v4M1166 1053v2M1166 1047v2M1166 1039v6M1166 1033v2M1168 1047v8M1168 1039v6M1170 1055v2M1170 1051v2M1170 1047v2M1170 1041v2M1170 1031v2M1170 987v2M1172 1071v3M1172 1051v2M1172 1047v2M1172 1039v2M1174 1055v2M1174 1041v8M1174 1035v4M1174 1029v2M1176 1059v2M1176 1053v2M1176 1047v2M1176 1041v2M1176 1033v6M1178 1037v4M1178 1021v2M1180 1059v2M1180 1055v2M1180 1043v8M1180 1027v2M1182 1067v2M1182 1037v6M1182 1027v2M1184 1057v2M1184 1049v2M1184 1041v2M1184 1033v4M1186 1061v2M1186 1051v2M1186 1045v4M1186 1035v2M1188 1061v2M1188 1043v6M1188 1037v2M1190 1057v2M1190 1043v6M1192 1047v2M1192 1043v2M1192 1035v4M1194 1051v2M1194 1037v4M1196 1071v5M1196 1057v6M1196 1053v2M1196 1047v2M1198 1069v2M1198 1065v2M1198 1059v2M1198 1049v2M1198 1033v2M1200 1065v2M1200 1057v6M1200 1053v2M1200 1039v6M1202 1065v2M1202 1051v4M1202 1037v10M1202 1031v4M1204 1061v2M1204 1055v2M1204 1047v2M1204 1037v8M1206 1047v6M1206 1043v2M1206 1035v2M1206 1027v2M1208 1079v3M1208 1059v2M1208 1049v2M1208 1045v2M1210 1076v3M1210 1057v2M1210 1051v4M1210 1043v2M1210 1035v2M1212 1107v15M1212 1076v3M1212 1071v3M1212 1065v4M1212 1059v4M1212 1051v2M1214 1087v4M1214 1074v5M1214 1067v4M1214 1063v2M1218 1079v3M1218 1071v3M1218 1061v2M1218 1055v4M1218 1051v2M1220 1057v2M1220 1053v2M1220 1045v2M1220 1039v2M1222 1071v3M1222 1065v2M1222 1061v2M1222 1055v4M1224 1055v4M1224 1049v2M1226 1076v3M1226 1061v8M1226 1051v4M1228 1065v2M1228 1055v2M1228 1051v2M1228 1045v4M1230 1053v4M1230 1047v2M1230 1043v2M1230 1037v2M1232 1082v5M1232 1061v2M1232 1057v2M1234 1082v16M1234 1067v2M1234 1061v2M1234 1049v4M1236 1076v3M1236 1067v7M1236 1061v2M1236 1055v2M1236 1045v4M1238 1079v3M1238 1069v2M1238 1063v2M1238 1055v2M1240 1051v4M1240 1043v2M1240 1037v2M1242 1059v4M1242 1049v2M1244 1082v5M1244 1074v5M1244 1063v6M1244 1059v2M1244 1053v2M1244 1049v2M1246 1067v2M1246 1059v2M1246 1051v4M1248 1047v4M1248 1039v2M1250 1091v7M1250 1071v3M1250 1065v4M1250 1057v6M1250 1051v4M1250 1047v2M1252 1087v4M1252 1063v4M1252 1059v2M1252 1055v2M1254 1071v5M1254 1065v2M1254 1061v2M1256 1107v15M1256 1091v7M1256 1079v3M1258 1071v3M1258 1063v2M1258 1059v2M1258 1055v2M1258 1043v4M1260 1091v7M1260 1071v3M1260 1067v2M1260 1059v4M1262 1107v15M1262 1091v7M1262 1076v3M1262 1069v2M1264 1087v4M1264 1079v3M1264 1067v2M1266 1071v5M1266 1063v4M1266 1053v8M1266 1047v2M1266 1041v2M1274 1069v2M1274 1063v2M1274 1055v4M1274 1051v2M1276 1087v11M1276 1079v3M1276 1071v3M1276 1065v4M1276 1061v2M1276 1057v2M1280 1082v5M1280 1067v9M1280 1051v2M1284 1107v15M1288 1091v7M1288 1067v2M1290 1098v9M1290 1082v5M1290 1069v2M1290 1063v2M1290 1057v2M1292 1067v2M1292 1059v2M1292 1055v2M1292 1047v2M1294 1079v8M1294 1074v2M1294 1063v2M1296 1107v15M1296 1069v5M1296 1065v2M1298 1091v16M1298 1082v5M1298 1076v3M1298 1071v3M1298 1059v2M1298 1051v2M1300 1071v3M1300 1065v4M1300 1045v10M1302 1087v35M1302 1069v2M1304 1091v7M1304 1076v11M1304 1059v4M1414 1069v2M1414 1037v2M1414 1033v2M1416 1069v2M1416 1041v2M1416 1037v2M1418 1079v3M1418 1063v2M1418 1043v2M1418 1039v2M1418 1025v2M1420 1053v2M1420 1049v2M1420 1039v2M1420 1031v2M1422 1059v2M1422 1055v2M1422 1049v2M1422 1041v4M1424 1053v4M1424 1049v2M1424 1041v2M1424 1033v2M1426 1049v4M1428 1063v8M1428 1059v2M1428 1053v4M1430 1087v4M1430 1074v2M1430 1067v4M1430 1061v2M1434 1107v15M1434 1091v7M1440 1091v16M1440 1074v2M1440 1063v2M1440 1057v2M1440 1051v2M1444 1051v2M1444 1039v6M1446 1067v12M1446 1063v2M1446 1053v2M1450 1091v7M1450 1069v2M1450 1053v14M1450 1047v4M1450 1041v2M1452 1098v9M1452 1071v3M1454 1091v16M1456 1087v11M1456 1076v3M1458 1098v9M1458 1087v4M1458 1071v3M1460 1098v9M1460 1079v12M1462 1087v4M1464 1079v3M1466 1087v20M1466 1069v5M1468 1074v2M1468 1067v2M1472 1059v2M1472 1051v2M1472 1043v4M1472 1039v2M1476 1091v7M1476 1079v8M1476 1069v2M1476 1055v2M1484 1055v2M1484 1047v2M1488 1079v3M1488 1074v2M1488 1069v2M1488 1065v2M1488 1059v2M1490 1107v15M1490 1091v7M1492 1087v4M1494 1098v24M1494 1079v3" stroke="#0019ff" stroke-width="2" fill="none" shape-rendering="crispEdges"/>
<path d="M1305.5 1082v5" stroke="#004cff" stroke-width="1" fill="none" shape-rendering="crispEdges"/>
<path d="M706 1076v3M706 1067v4M706 1059v4M706 1053v2M708 1061v4M710 1091v7M710 1076v11M710 1069v2M710 1057v2M712 1079v8M712 1065v6M712 1055v8M714 1087v4M714 1076v3M716 1061v6M716 1055v2M718 1107v15M718 1076v3M718 1069v2M718 1063v2M718 1055v2M720 1074v5M720 1065v4M720 1059v4M722 1076v3M722 1069v5M722 1065v2M722 1057v2M722 1051v4M724 1076v3M724 1067v2M724 1057v6M724 1051v4M726 1091v16M726 1076v6M726 1061v2M728 1067v2M728 1063v2M730 1079v8M730 1071v3M730 1067v2M730 1057v2M732 1098v9M732 1082v5M732 1074v2M734 1074v2M734 1069v2M734 1063v2M734 1057v4M736 1071v3M736 1053v4M738 1067v2M738 1055v2M738 1047v2M738 1043v2M740 1067v2M740 1053v2M742 1082v5M742 1065v2M742 1061v2M742 1049v2M744 1061v4M744 1057v2M744 1047v6M746 1065v2M746 1049v6M748 1069v2M748 1057v2M748 1043v2M750 1091v7M750 1061v4M750 1057v2M750 1041v2M752 1061v15M752 1055v2M752 1049v4M754 1107v15M754 1059v4M754 1047v2M756 1071v3M756 1053v2M756 1047v4M758 1053v2M758 1049v2M760 1098v9M760 1076v3M760 1069v2M760 1059v2M760 1053v2M766 1076v6M766 1063v2M770 1082v9M780 1098v9M780 1087v4M780 1071v3M784 1098v9M786 1087v4M786 1067v15M790 1082v5M790 1076v3M790 1071v3M792 1091v7M792 1082v5M792 1076v3M792 1049v2M798 1087v11M798 1079v3M798 1071v3M800 1076v3M800 1069v2M800 1063v4M802 1069v2M802 1063v2M808 1082v5M808 1076v3M808 1069v5M810 1079v3M810 1067v2M810 1063v2M810 1059v2M810 1055v2M810 1051v2M810 1045v2M812 1091v7M812 1079v3M812 1065v2M812 1059v2M814 1091v16M814 1082v5M816 1091v16M818 1098v24M818 1079v3M818 1074v2M818 1067v2M818 1063v2M822 1087v11M822 1079v3M822 1074v2M822 1067v2M824 1098v24M826 1091v7M826 1074v5M826 1063v2M828 1091v7M830 1071v3M830 1065v2M830 1061v2M834 1079v3M836 1091v16M840 1087v11M840 1069v2M840 1065v2M840 1055v2M842 1082v25M844 1082v5M844 1076v3M844 1071v3M844 1061v6M844 1053v2M850 1107v15M852 1098v9M852 1087v4M854 1091v7M854 1079v3M858 1107v15M860 1107v15M860 1091v7M862 1082v5M862 1076v3M862 1071v3M862 1061v4M864 1079v8M864 1074v2M864 1069v2M864 1065v2M864 1051v2M866 1074v2M866 1067v2M866 1059v4M866 1051v2M866 1045v2M868 1074v2M868 1067v2M868 1061v4M868 1053v2M868 1049v2M870 1107v15M872 1082v5M872 1074v2M872 1069v2M874 1079v3M874 1065v9M874 1059v2M878 1087v4M880 1079v8M880 1071v5M880 1063v2M880 1059v2M882 1061v2M884 1098v9M884 1079v12M884 1069v2M886 1098v24M886 1087v4M888 1087v11M888 1071v5M890 1082v5M890 1065v4M890 1059v2M890 1049v2M892 1087v4M892 1074v8M892 1067v2M892 1057v8M892 1047v2M894 1067v4M894 1061v2M894 1055v2M894 1051v2M894 1047v2M896 1087v4M896 1076v3M898 1079v3M898 1074v2M898 1069v2M902 1098v9M902 1087v4M902 1076v6M904 1091v16M904 1079v3M906 1107v15M906 1087v11M906 1069v2M908 1076v3M908 1071v3M908 1067v2M908 1063v2M908 1057v4M908 1053v2M910 1079v3M910 1061v2M910 1057v2M912 1057v2M912 1049v2M912 1041v4M914 1076v6M914 1065v2M914 1049v4M916 1055v2M916 1051v2M918 1071v3M918 1053v6M918 1047v4M918 1043v2M918 1037v4M920 1055v6M920 1051v2M920 1047v2M922 1055v2M922 1045v2M922 1037v4M924 1082v5M924 1053v4M924 1045v2M926 1053v2M926 1043v6M926 1039v2M926 1035v2M928 1079v3M928 1074v2M928 1051v4M928 1043v2M928 1037v4M930 1074v2M930 1039v2M930 1033v2M932 1074v2M932 1063v2M934 1071v3M934 1051v2M934 1041v2M936 1067v2M936 1041v2M936 1033v2M938 1074v2M938 1055v2M938 1049v2M940 1091v7M940 1082v5M940 1076v3M940 1067v2M940 1059v4M942 1049v2M942 1043v4M944 1059v2M944 1053v2M944 1047v4M944 1043v2M946 1037v2M948 1079v3M948 1049v2M948 1043v2M950 1055v6M950 1049v2M950 1045v2M950 1033v2M952 1082v5M952 1063v4M952 1059v2M952 1053v4M952 1049v2M952 1045v2M952 1041v2M954 1061v2M954 1057v2M954 1049v4M954 1045v2M954 1039v4M956 1053v4M956 1047v2M956 1035v2M958 1057v2M958 1049v2M958 1045v2M958 1041v2M958 1037v2M960 1061v2M960 1039v2M962 1055v2M962 1043v4M962 1033v2M964 1079v3M964 1071v3M964 1067v2M964 1061v4M964 1051v6M964 1047v2M966 1061v2M966 1051v2M966 1047v2M966 1043v2M968 1061v4M968 1057v2M968 1053v2M970 1045v6M970 1037v4M972 1063v4M972 1055v2M972 1045v4M972 1039v2M974 1061v4M974 1043v4M976 1067v2M976 1057v2M976 1049v4M976 1041v2M976 1037v2M978 1059v2M978 1041v2M980 1063v2M980 1055v2M980 1047v4M980 1037v2M982 1067v2M982 1063v2M982 1049v2M984 1074v2M984 1063v2M984 1055v2M984 1043v2M986 1074v2M986 1053v4M986 1047v2M986 1039v2M988 1071v3M988 1047v4M988 1043v2M990 1059v2M990 1049v2M992 1053v4M994 1055v2M994 1047v6M996 1055v2M996 1047v4M996 1041v4M998 1063v2M998 1059v2M998 1053v4M998 1045v2M998 1033v2M1000 1079v3M1000 1057v2M1000 1051v2M1000 1047v2M1000 1041v2M1002 1065v2M1002 1061v2M1002 1053v2M1002 1047v4M1004 1055v2M1004 1045v6M1004 1041v2M1006 1061v2M1006 1057v2M1006 1045v2M1006 1035v2M1008 1049v2M1008 1043v2M1010 1059v4M1010 1049v6M1010 1043v2M1012 1059v2M1012 1053v2M1012 1043v4M1012 1039v2M1012 1035v2M1014 1043v2M1016 1067v2M1016 1053v2M1016 1049v2M1016 1037v2M1018 1069v2M1018 1053v2M1018 1047v2M1018 1029v2M1020 1071v3M1020 1055v2M1020 1049v4M1020 1039v2M1022 1091v7M1022 1063v2M1022 1051v2M1022 1045v2M1022 1035v2M1024 1061v2M1024 1055v4M1024 1049v2M1024 1035v6M1026 1053v2M1026 1049v2M1026 1035v2M1028 1041v2M1030 1061v4M1030 1057v2M1030 1043v2M1030 1039v2M1032 1069v2M1032 1065v2M1032 1043v2M1034 1045v4M1034 1037v2M1034 1031v2M1036 1053v2M1036 1047v4M1036 1039v4M1038 1061v4M1038 1057v2M1038 1051v4M1038 1047v2M1040 1098v9M1040 1055v2M1040 1051v2M1040 1041v2M1042 1055v2M1042 1049v2M1042 1041v2M1044 1061v2M1044 1049v4M1044 1043v2M1046 1061v4M1046 1053v4M1046 1047v2M1048 1057v2M1048 1041v2M1050 1053v6M1050 1041v2M1050 1035v2M1052 1071v3M1052 1063v4M1052 1059v2M1052 1047v8M1052 1043v2M1052 1039v2M1054 1067v2M1054 1063v2M1054 1049v6M1056 1033v2M1058 1069v2M1058 1061v2M1058 1051v2M1058 1043v2M1060 1041v4M1062 1055v4M1064 1063v2M1064 1055v2M1064 1045v2M1066 1082v9M1066 1074v2M1066 1063v2M1066 1059v2M1068 1061v6M1068 1051v8M1068 1039v2M1070 1076v6M1070 1071v3M1070 1063v4M1070 1055v2M1072 1069v2M1072 1059v4M1074 1065v2M1074 1061v2M1074 1045v2M1076 1079v8M1076 1067v2M1076 1059v2M1076 1047v6M1078 1069v5M1078 1063v2M1078 1057v4M1078 1047v2M1080 1061v2M1080 1053v2M1080 1045v4M1082 1067v2M1082 1059v6M1082 1053v4M1084 1082v9M1084 1071v3M1086 1065v2M1086 1057v2M1086 1053v2M1086 1049v2M1088 1082v5M1088 1069v5M1090 1082v5M1090 1069v5M1090 1063v4M1090 1057v4M1090 1051v4M1090 1047v2M1092 1079v3M1092 1051v2M1092 1045v4M1094 1098v9M1094 1076v3M1094 1071v3M1094 1065v4M1094 1047v2M1096 1045v8M1096 1035v2M1098 1047v2M1100 1057v2M1100 1039v2M1102 1065v2M1102 1059v2M1102 1049v6M1102 1037v6M1104 1057v2M1104 1049v2M1104 1041v2M1106 1059v2M1106 1049v2M1106 1039v2M1108 1057v2M1108 1051v2M1108 1047v2M1110 1043v6M1110 1037v2M1112 1035v2M1114 1061v4M1114 1047v8M1114 1037v2M1116 1061v2M1116 1053v2M1116 1045v2M1118 1057v2M1118 1051v2M1118 1047v2M1118 1037v4M1120 1053v2M1120 1043v2M1122 1047v4M1122 1039v4M1124 1063v2M1124 1045v2M1126 1059v2M1126 1053v2M1126 1047v4M1126 1035v4M1128 1045v6M1128 1037v2M1128 1033v2M1130 1061v4M1130 1047v6M1132 1074v2M1132 1063v2M1132 1055v2M1132 1047v4M1132 1041v4M1134 1061v2M1134 1045v8M1134 1041v2M1134 1033v2M1136 1061v2M1136 1053v4M1138 1067v2M1138 1055v2M1138 1039v2M1140 1082v5M1140 1055v2M1140 1051v2M1140 1045v2M1140 1039v2M1142 1049v2M1142 1043v2M1142 1031v4M1144 1057v2M1144 1045v2M1144 1041v2M1144 1037v2M1146 1067v2M1146 1059v2M1146 1055v2M1146 1051v2M1146 1045v4M1148 1059v4M1148 1047v4M1150 1067v2M1150 1057v2M1150 1045v2M1150 1037v2M1152 1057v2M1152 1053v2M1152 1049v2M1152 1045v2M1154 1067v4M1154 1049v10M1154 1045v2M1154 1041v2M1156 1041v8M1156 1037v2M1158 1063v2M1158 1045v4M1160 1063v4M1160 1057v2M1160 1051v2M1160 1045v4M1160 1039v4M1160 1035v2M1162 1059v2M1162 1045v2M1162 1037v2M1164 1051v2M1164 1037v6M1166 1059v2M1166 1055v2M1166 1049v4M1166 1045v2M1168 1061v4M1168 1055v2M1170 1061v4M1170 1053v2M1170 1049v2M1170 1037v4M1170 1033v2M1172 1069v2M1172 1049v2M1172 1041v4M1174 1065v2M1174 1061v2M1174 1053v2M1174 1049v2M1174 1039v2M1174 1033v2M1176 1065v4M1176 1049v4M1178 1059v2M1178 1055v2M1178 1041v4M1180 1061v4M1180 1057v2M1180 1053v2M1182 1071v3M1182 1057v2M1182 1051v4M1184 1067v2M1184 1061v2M1184 1051v4M1186 1087v11M1186 1071v3M1186 1063v6M1186 1055v4M1186 1049v2M1186 1043v2M1188 1069v2M1188 1065v2M1188 1057v2M1188 1051v2M1190 1076v3M1190 1069v2M1190 1063v2M1190 1051v4M1192 1074v2M1192 1069v2M1192 1061v2M1192 1049v6M1192 1041v2M1194 1076v3M1194 1071v3M1194 1053v14M1194 1049v2M1196 1067v4M1196 1055v2M1198 1079v8M1198 1071v3M1198 1067v2M1198 1061v2M1198 1057v2M1200 1076v3M1200 1063v2M1200 1055v2M1200 1049v2M1202 1079v3M1202 1071v5M1202 1061v2M1202 1057v2M1202 1047v4M1204 1074v2M1204 1069v2M1204 1065v2M1204 1057v2M1204 1049v4M1206 1076v3M1206 1069v2M1206 1061v2M1206 1055v4M1208 1082v9M1208 1067v2M1208 1063v2M1208 1057v2M1210 1082v5M1210 1065v4M1210 1061v2M1212 1091v7M1212 1079v8M1212 1055v2M1212 1049v2M1214 1098v24M1214 1082v5M1218 1076v3M1218 1065v6M1220 1061v2M1220 1055v2M1220 1047v4M1222 1098v9M1222 1079v12M1222 1074v2M1222 1067v4M1222 1059v2M1224 1069v2M1224 1065v2M1224 1059v4M1224 1051v4M1226 1082v16M1226 1069v2M1228 1069v7M1228 1057v8M1228 1053v2M1230 1091v7M1230 1069v2M1230 1065v2M1230 1059v4M1230 1045v2M1232 1079v3M1232 1074v2M1232 1065v6M1232 1059v2M1232 1055v2M1234 1076v3M1234 1071v3M1236 1087v4M1236 1079v3M1236 1074v2M1236 1057v2M1238 1074v2M1238 1065v4M1240 1067v2M1240 1063v2M1240 1057v2M1242 1087v4M1242 1079v3M1242 1071v3M1242 1067v2M1244 1087v11M1244 1069v2M1244 1061v2M1246 1074v2M1246 1065v2M1246 1061v2M1246 1057v2M1248 1067v2M1248 1057v8M1248 1045v2M1250 1107v15M1250 1082v5M1250 1074v5M1250 1069v2M1252 1091v16M1252 1076v6M1252 1069v2M1254 1067v2M1258 1067v2M1258 1061v2M1258 1049v6M1260 1087v4M1260 1074v8M1260 1063v2M1262 1079v3M1264 1091v31M1266 1082v9M1266 1076v3M1266 1069v2M1266 1061v2M1274 1079v12M1274 1074v2M1274 1067v2M1276 1107v15M1276 1074v2M1280 1087v4M1290 1091v7M1290 1079v3M1292 1082v5M1292 1071v5M1292 1063v2M1292 1053v2M1294 1098v9M1294 1087v4M1294 1076v3M1296 1087v20M1296 1079v3M1298 1107v15M1298 1079v3M1300 1087v4M1300 1079v3M1300 1069v2M1302 1082v5M1304 1098v9M1414 1061v2M1414 1057v2M1414 1053v2M1414 1047v4M1414 1041v2M1414 1035v2M1416 1047v6M1416 1043v2M1416 1039v2M1418 1053v2M1418 1045v6M1420 1082v5M1420 1061v2M1420 1045v2M1422 1057v2M1422 1051v2M1422 1045v4M1422 1037v2M1424 1061v2M1424 1051v2M1424 1043v2M1424 1039v2M1426 1074v2M1426 1067v4M1426 1061v2M1426 1057v2M1426 1053v2M1426 1041v8M1428 1082v5M1428 1074v5M1428 1061v2M1430 1091v7M1430 1071v3M1440 1076v3M1440 1067v2M1444 1061v10M1444 1053v6M1444 1047v2M1446 1087v35M1446 1079v3M1450 1071v11M1450 1067v2M1452 1107v15M1454 1107v15M1460 1107v15M1462 1098v9M1468 1087v20M1472 1065v2M1472 1061v2M1472 1057v2M1472 1053v2M1476 1098v24M1476 1087v4M1484 1076v3M1484 1061v4M1484 1049v4M1488 1087v11M1488 1067v2" stroke="#004cff" stroke-width="2" fill="none" shape-rendering="crispEdges"/>
<path d="M706 1107v15M706 1091v7M706 1082v5M708 1082v5M708 1071v5M708 1067v2M710 1071v3M710 1055v2M712 1087v11M712 1071v8M714 1098v24M716 1079v8M716 1069v5M716 1057v2M716 1053v2M718 1098v9M718 1082v5M718 1074v2M722 1087v11M722 1074v2M724 1091v7M724 1079v3M724 1074v2M726 1074v2M728 1087v4M728 1076v3M728 1069v5M728 1061v2M730 1091v7M730 1074v5M730 1063v2M732 1076v3M732 1071v3M734 1082v9M734 1067v2M736 1091v7M736 1079v3M736 1065v4M736 1061v2M738 1079v3M738 1063v2M738 1059v2M738 1053v2M740 1074v2M740 1061v6M742 1067v2M742 1063v2M744 1082v5M744 1067v7M744 1059v2M744 1055v2M746 1107v15M746 1071v3M746 1067v2M746 1061v4M746 1057v2M748 1074v2M748 1067v2M748 1059v2M748 1055v2M750 1082v5M750 1074v2M750 1065v6M750 1059v2M750 1053v2M752 1082v5M752 1057v2M754 1074v5M754 1065v4M754 1057v2M754 1053v2M756 1065v4M756 1055v4M758 1087v4M758 1071v3M758 1059v4M760 1079v3M760 1071v5M760 1067v2M766 1082v9M766 1071v5M770 1091v7M780 1091v7M786 1091v16M788 1107v15M790 1087v11M790 1079v3M792 1087v4M792 1079v3M798 1107v15M800 1087v4M802 1079v12M802 1067v2M806 1107v15M806 1091v7M808 1087v11M808 1074v2M810 1074v2M810 1069v2M812 1082v9M812 1076v3M812 1071v3M816 1107v15M818 1091v7M822 1098v9M826 1107v15M826 1079v12M828 1098v9M828 1082v9M830 1082v5M834 1107v15M840 1079v3M844 1087v11M846 1098v9M854 1098v24M856 1107v15M862 1087v11M864 1076v3M866 1069v5M868 1079v3M868 1071v3M868 1065v2M870 1098v9M872 1087v20M872 1071v3M874 1074v5M878 1098v9M880 1091v16M882 1076v3M882 1067v7M882 1063v2M888 1098v24M888 1082v5M890 1087v4M890 1076v6M890 1071v3M892 1107v15M892 1091v7M894 1071v3M894 1065v2M896 1091v31M898 1082v5M900 1107v15M902 1107v15M906 1098v9M908 1091v7M908 1079v8M910 1082v5M910 1074v2M912 1071v5M912 1061v4M912 1053v2M912 1047v2M914 1091v16M914 1069v5M914 1063v2M914 1055v2M916 1079v3M916 1065v2M916 1057v6M916 1053v2M918 1065v4M920 1071v3M920 1067v2M920 1061v4M920 1053v2M922 1079v3M922 1063v4M922 1057v2M924 1091v7M924 1071v8M924 1061v8M926 1061v2M926 1057v2M926 1049v4M928 1069v2M928 1061v2M928 1055v4M930 1067v2M930 1061v2M930 1057v2M930 1049v2M930 1041v2M932 1079v8M932 1069v2M932 1061v2M934 1076v3M934 1065v2M934 1061v2M934 1053v6M934 1049v2M936 1087v4M936 1065v2M936 1059v2M936 1053v4M936 1045v6M938 1071v3M938 1067v2M938 1057v8M938 1051v2M940 1079v3M940 1069v5M940 1065v2M942 1059v2M942 1055v2M942 1051v2M944 1065v6M944 1057v2M944 1051v2M946 1071v3M946 1063v2M946 1055v6M946 1049v2M948 1082v5M948 1067v2M948 1051v6M950 1069v2M950 1051v2M950 1047v2M950 1043v2M952 1067v2M952 1051v2M954 1053v4M956 1051v2M958 1079v3M958 1059v6M960 1063v4M960 1057v2M960 1047v6M960 1041v2M962 1061v2M962 1053v2M962 1041v2M964 1057v4M964 1049v2M966 1082v5M966 1065v2M966 1057v4M966 1053v2M966 1049v2M966 1045v2M968 1065v4M968 1059v2M968 1055v2M968 1051v2M968 1047v2M970 1076v3M970 1051v6M972 1071v5M972 1061v2M972 1051v2M974 1079v3M974 1069v2M974 1059v2M974 1049v4M976 1059v8M976 1053v2M976 1047v2M978 1082v5M978 1067v4M978 1063v2M978 1053v2M978 1049v2M980 1061v2M980 1057v2M980 1051v2M982 1057v6M982 1051v2M982 1041v2M984 1065v2M984 1057v6M984 1053v2M984 1045v4M986 1067v4M986 1057v4M986 1043v2M988 1082v5M988 1069v2M988 1061v2M990 1065v2M990 1055v4M990 1051v2M992 1074v2M992 1061v8M992 1049v2M994 1071v3M994 1067v2M994 1043v4M996 1061v2M996 1051v4M998 1076v3M998 1071v3M998 1067v2M998 1061v2M998 1057v2M1000 1059v2M1000 1053v2M1002 1069v5M1002 1063v2M1002 1057v4M1004 1061v8M1004 1057v2M1004 1051v2M1006 1091v7M1006 1067v2M1006 1063v2M1006 1049v2M1008 1063v2M1008 1057v2M1008 1051v2M1010 1069v2M1010 1063v2M1012 1087v4M1012 1071v3M1012 1067v2M1012 1061v2M1012 1055v4M1012 1049v4M1014 1045v2M1016 1065v2M1016 1057v4M1018 1067v2M1018 1059v6M1018 1055v2M1020 1057v2M1020 1053v2M1020 1047v2M1022 1079v3M1022 1069v2M1022 1057v6M1022 1049v2M1024 1071v3M1024 1065v2M1024 1053v2M1026 1082v5M1026 1076v3M1026 1065v6M1026 1059v2M1026 1055v2M1026 1051v2M1028 1063v2M1028 1051v8M1028 1045v4M1028 1039v2M1030 1074v5M1030 1069v2M1030 1065v2M1030 1059v2M1030 1053v2M1032 1067v2M1032 1059v6M1032 1053v4M1032 1047v4M1034 1069v2M1034 1065v2M1034 1053v2M1034 1041v2M1036 1074v2M1036 1067v4M1036 1063v2M1036 1057v2M1038 1065v2M1040 1057v8M1040 1053v2M1040 1043v2M1042 1069v2M1042 1065v2M1042 1057v6M1044 1071v5M1044 1055v6M1046 1057v2M1048 1061v4M1048 1053v4M1048 1047v2M1050 1079v8M1050 1065v2M1050 1059v4M1050 1047v2M1052 1087v4M1052 1074v2M1052 1067v2M1052 1055v4M1054 1079v3M1054 1065v2M1054 1055v4M1056 1071v8M1056 1063v2M1056 1059v2M1056 1055v2M1056 1051v2M1056 1047v2M1058 1076v3M1058 1059v2M1060 1076v3M1060 1059v2M1060 1051v4M1062 1067v2M1062 1053v2M1062 1049v2M1062 1043v2M1064 1087v4M1064 1071v8M1064 1065v4M1064 1057v4M1064 1051v2M1066 1098v9M1066 1079v3M1068 1087v4M1068 1074v2M1068 1059v2M1070 1067v2M1070 1059v2M1072 1071v3M1072 1063v4M1072 1057v2M1074 1076v3M1074 1067v4M1074 1059v2M1074 1055v2M1076 1074v2M1076 1069v2M1076 1063v2M1076 1057v2M1078 1065v4M1080 1079v3M1080 1071v3M1080 1065v4M1082 1098v9M1082 1076v3M1082 1071v3M1082 1065v2M1084 1091v7M1084 1074v2M1086 1082v5M1086 1067v12M1086 1055v2M1088 1087v4M1088 1076v6M1088 1067v2M1088 1059v4M1090 1087v4M1090 1074v2M1090 1067v2M1090 1049v2M1092 1087v4M1092 1063v16M1092 1059v2M1094 1087v4M1094 1079v3M1094 1069v2M1096 1061v2M1096 1053v4M1098 1063v2M1098 1059v2M1098 1055v2M1098 1051v2M1100 1079v3M1100 1053v2M1100 1047v4M1104 1079v3M1104 1071v3M1104 1061v2M1104 1053v2M1106 1069v2M1106 1051v8M1108 1071v3M1108 1067v2M1108 1059v2M1108 1053v2M1110 1074v2M1110 1055v2M1110 1051v2M1112 1071v3M1112 1061v2M1112 1055v2M1112 1049v2M1112 1041v2M1114 1065v2M1116 1069v2M1116 1057v4M1116 1049v4M1118 1074v2M1118 1065v2M1118 1059v2M1118 1049v2M1120 1065v2M1120 1059v2M1120 1055v2M1120 1049v4M1122 1079v3M1124 1069v5M1124 1059v2M1124 1053v4M1124 1049v2M1126 1079v3M1126 1061v2M1126 1051v2M1128 1061v6M1128 1055v2M1128 1043v2M1130 1069v2M1130 1057v2M1130 1053v2M1132 1071v3M1132 1057v2M1132 1051v4M1132 1045v2M1134 1065v2M1134 1059v2M1136 1069v2M1136 1065v2M1138 1059v4M1138 1049v4M1138 1041v6M1140 1079v3M1140 1071v3M1140 1063v2M1140 1053v2M1140 1047v4M1140 1041v4M1142 1074v2M1142 1059v2M1142 1053v2M1142 1045v4M1144 1069v2M1144 1061v2M1144 1047v10M1146 1065v2M1146 1057v2M1146 1053v2M1148 1063v8M1150 1059v2M1150 1047v8M1150 1041v2M1152 1076v3M1152 1071v3M1152 1063v2M1152 1059v2M1152 1055v2M1152 1051v2M1154 1071v3M1154 1065v2M1154 1059v2M1156 1059v2M1156 1053v4M1158 1067v4M1158 1055v2M1160 1079v3M1160 1069v2M1160 1061v2M1160 1053v2M1160 1049v2M1162 1074v2M1162 1061v10M1162 1051v8M1164 1076v3M1164 1067v2M1164 1053v4M1164 1047v2M1166 1082v5M1166 1069v7M1166 1065v2M1168 1069v2M1168 1065v2M1168 1045v2M1170 1057v4M1170 1045v2M1172 1079v3M1172 1074v2M1172 1063v2M1172 1057v2M1174 1063v2M1174 1057v4M1174 1051v2M1176 1074v2M1176 1069v2M1176 1061v4M1176 1055v4M1178 1061v2M1178 1057v2M1178 1045v10M1180 1087v11M1180 1069v2M1180 1065v2M1180 1051v2M1182 1074v2M1182 1069v2M1182 1065v2M1182 1059v4M1182 1055v2M1184 1079v8M1184 1069v7M1184 1065v2M1186 1074v5M1186 1069v2M1188 1076v3M1188 1067v2M1188 1063v2M1188 1055v2M1188 1049v2M1190 1098v9M1190 1065v4M1190 1061v2M1192 1065v4M1192 1055v6M1194 1079v3M1194 1074v2M1194 1067v4M1196 1098v9M1196 1079v3M1196 1065v2M1198 1076v3M1200 1087v4M1200 1079v3M1200 1074v2M1200 1069v2M1202 1087v4M1202 1067v4M1202 1063v2M1204 1053v2M1206 1063v4M1206 1059v2M1208 1074v5M1208 1069v2M1208 1065v2M1208 1061v2M1210 1069v2M1210 1059v2M1212 1087v4M1212 1074v2M1218 1082v9M1218 1074v2M1220 1074v2M1220 1063v6M1220 1059v2M1222 1091v7M1224 1071v27M1224 1067v2M1226 1079v3M1228 1098v9M1228 1079v3M1228 1067v2M1230 1079v8M1230 1071v3M1230 1063v2M1230 1057v2M1232 1091v7M1232 1076v3M1232 1071v3M1232 1063v2M1234 1107v15M1234 1079v3M1238 1107v15M1238 1082v9M1238 1076v3M1238 1071v3M1240 1074v5M1240 1069v2M1240 1065v2M1240 1059v4M1242 1098v24M1242 1082v5M1244 1079v3M1244 1071v3M1246 1069v5M1246 1063v2M1248 1074v8M1248 1065v2M1248 1051v2M1250 1087v4M1250 1079v3M1252 1107v15M1254 1098v24M1254 1087v4M1258 1079v8M1258 1074v2M1258 1069v2M1258 1065v2M1260 1082v5M1262 1098v9M1266 1091v7M1266 1079v3M1266 1067v2M1274 1091v7M1276 1098v9M1280 1091v16M1288 1098v24M1290 1107v15M1290 1087v4M1292 1087v4M1292 1076v3M1292 1065v2M1294 1091v7M1300 1082v5M1300 1074v5M1414 1071v3M1414 1051v2M1416 1074v2M1416 1055v6M1416 1045v2M1418 1087v4M1418 1065v2M1418 1061v2M1418 1055v4M1420 1063v4M1420 1055v6M1420 1051v2M1420 1047v2M1422 1076v3M1422 1069v5M1422 1065v2M1422 1061v2M1422 1053v2M1424 1091v7M1424 1079v3M1424 1069v7M1424 1063v2M1424 1057v2M1426 1082v5M1426 1071v3M1426 1059v2M1426 1055v2M1428 1087v4M1428 1079v3M1430 1098v24M1440 1087v4M1444 1087v11M1444 1076v3M1444 1071v3M1450 1082v9M1466 1107v15M1468 1107v15M1472 1071v11M1484 1074v2M1484 1065v4M1484 1057v2M1488 1098v24M1488 1082v5" stroke="#007fff" stroke-width="2" fill="none" shape-rendering="crispEdges"/>
<path d="M706 1098v9M708 1079v3M708 1069v2M710 1098v9M712 1098v9M716 1087v4M716 1076v3M718 1087v4M720 1079v12M720 1071v3M724 1098v9M726 1107v15M726 1087v4M728 1091v7M728 1079v3M734 1091v7M734 1076v6M736 1098v9M736 1074v2M736 1069v2M738 1098v9M738 1069v5M738 1065v2M738 1061v2M740 1059v2M742 1087v20M742 1074v5M742 1069v2M744 1098v24M744 1087v4M744 1074v2M746 1076v11M748 1082v5M748 1061v4M750 1087v4M750 1079v3M752 1087v11M752 1076v3M754 1079v12M754 1071v3M756 1074v5M756 1069v2M758 1076v3M758 1067v2M760 1082v16M766 1098v9M780 1107v15M786 1107v15M790 1098v24M792 1098v9M798 1098v9M800 1098v9M802 1098v9M802 1074v2M808 1107v15M810 1091v7M810 1082v5M822 1107v15M826 1098v9M830 1087v4M840 1098v24M842 1107v15M844 1098v9M862 1107v15M864 1107v15M864 1087v11M866 1087v11M866 1076v3M868 1076v3M874 1082v5M880 1087v4M882 1098v9M882 1087v4M882 1079v3M882 1074v2M884 1107v15M890 1074v2M892 1098v9M894 1074v17M898 1087v20M908 1087v4M910 1087v20M910 1076v3M912 1082v5M912 1067v2M912 1059v2M912 1055v2M914 1082v5M914 1074v2M916 1082v9M916 1067v7M916 1063v2M918 1069v2M918 1061v4M920 1074v2M920 1065v2M922 1069v5M922 1059v4M922 1053v2M924 1087v4M926 1069v2M926 1063v2M926 1059v2M926 1055v2M928 1076v3M928 1071v3M928 1063v6M928 1059v2M930 1071v3M930 1063v4M930 1059v2M930 1053v2M932 1087v4M934 1079v3M934 1069v2M936 1082v5M936 1071v3M936 1057v2M936 1051v2M938 1076v11M938 1069v2M938 1065v2M940 1087v4M940 1074v2M942 1057v2M944 1074v5M946 1091v7M946 1079v3M946 1069v2M946 1065v2M948 1071v3M948 1059v4M950 1087v4M950 1067v2M950 1061v4M952 1079v3M952 1071v5M954 1071v3M954 1063v2M954 1059v2M956 1071v3M956 1063v6M956 1057v2M958 1069v7M958 1065v2M958 1055v2M960 1079v3M960 1067v7M960 1059v2M960 1053v4M962 1074v2M962 1063v6M962 1057v2M964 1074v2M964 1065v2M966 1071v5M966 1067v2M966 1063v2M968 1079v3M968 1069v5M970 1071v3M970 1065v2M970 1061v2M972 1076v3M972 1067v4M974 1076v3M974 1065v4M976 1069v2M976 1055v2M978 1055v2M980 1074v5M980 1065v4M980 1059v2M982 1071v3M982 1065v2M984 1051v2M986 1076v6M986 1071v3M986 1063v4M988 1098v9M988 1087v4M988 1079v3M988 1074v2M988 1063v4M988 1057v4M990 1074v2M990 1061v2M992 1079v8M992 1069v5M994 1074v5M994 1069v2M994 1065v2M996 1074v2M996 1067v4M996 1059v2M998 1069v2M998 1065v2M998 1051v2M1000 1067v2M1000 1055v2M1002 1074v8M1002 1067v2M1004 1076v3M1004 1069v5M1006 1082v9M1006 1074v5M1006 1069v2M1006 1059v2M1006 1055v2M1008 1067v7M1008 1059v4M1008 1053v4M1010 1079v3M1010 1071v5M1010 1065v4M1010 1057v2M1012 1069v2M1012 1063v4M1014 1076v3M1014 1063v4M1014 1055v6M1014 1049v2M1016 1076v3M1016 1071v3M1016 1061v4M1018 1071v3M1018 1065v2M1020 1061v6M1022 1071v3M1022 1065v2M1022 1053v2M1024 1074v2M1024 1067v4M1024 1063v2M1024 1059v2M1026 1079v3M1026 1071v3M1028 1074v2M1028 1065v2M1028 1059v4M1030 1071v3M1030 1067v2M1032 1079v3M1032 1074v2M1032 1057v2M1034 1079v3M1034 1071v3M1034 1067v2M1034 1061v4M1034 1055v2M1036 1076v11M1036 1071v3M1036 1065v2M1038 1074v5M1038 1067v4M1040 1067v9M1040 1049v2M1042 1091v7M1042 1079v3M1042 1071v3M1042 1063v2M1044 1079v3M1044 1067v2M1044 1063v2M1046 1069v10M1046 1065v2M1048 1079v3M1048 1074v2M1048 1065v6M1048 1049v2M1050 1071v3M1050 1063v2M1052 1082v5M1054 1074v5M1054 1069v2M1054 1059v2M1056 1069v2M1056 1061v2M1058 1071v5M1058 1063v6M1060 1061v8M1062 1065v2M1064 1091v7M1064 1082v5M1066 1091v7M1068 1082v5M1068 1076v3M1068 1069v5M1072 1076v3M1072 1067v2M1074 1087v4M1074 1079v3M1076 1107v15M1076 1087v11M1076 1076v3M1076 1071v3M1078 1091v7M1078 1082v5M1078 1076v3M1080 1082v5M1080 1074v5M1080 1069v2M1082 1082v16M1084 1098v9M1086 1079v3M1086 1063v2M1088 1091v7M1088 1074v2M1090 1076v6M1092 1082v5M1096 1063v4M1096 1057v4M1098 1065v2M1098 1057v2M1098 1053v2M1098 1049v2M1100 1067v4M1100 1059v2M1102 1074v2M1102 1067v2M1102 1061v4M1102 1055v4M1104 1074v2M1104 1069v2M1104 1063v2M1104 1059v2M1106 1076v3M1106 1063v2M1108 1069v2M1108 1061v6M1108 1055v2M1110 1061v10M1110 1057v2M1112 1057v4M1114 1091v7M1114 1067v7M1114 1059v2M1116 1076v6M1116 1065v4M1116 1047v2M1118 1071v3M1118 1061v2M1118 1055v2M1120 1079v3M1120 1069v2M1120 1061v2M1120 1057v2M1122 1069v5M1122 1061v4M1122 1055v4M1122 1051v2M1124 1074v2M1124 1065v4M1124 1061v2M1124 1057v2M1126 1067v4M1126 1063v2M1126 1055v4M1128 1059v2M1130 1079v8M1130 1071v3M1130 1065v2M1132 1061v2M1134 1063v2M1134 1055v4M1136 1076v3M1136 1067v2M1138 1074v2M1140 1067v4M1140 1061v2M1142 1082v5M1142 1065v4M1142 1055v4M1144 1065v4M1144 1059v2M1146 1098v9M1146 1079v3M1146 1071v3M1146 1061v4M1148 1079v8M1148 1051v6M1150 1074v5M1150 1065v2M1150 1061v2M1150 1055v2M1154 1091v7M1154 1074v8M1154 1061v2M1156 1082v5M1156 1074v5M1156 1067v2M1156 1061v4M1156 1057v2M1158 1079v3M1158 1065v2M1158 1059v4M1160 1071v3M1160 1067v2M1160 1055v2M1164 1071v3M1164 1059v8M1166 1087v4M1166 1076v6M1166 1057v2M1168 1067v2M1168 1057v4M1170 1065v2M1172 1082v5M1172 1065v4M1172 1061v2M1172 1055v2M1174 1067v4M1176 1076v6M1176 1071v3M1178 1063v4M1180 1071v16M1182 1076v15M1184 1107v15M1184 1087v4M1184 1076v3M1186 1098v9M1186 1079v3M1188 1071v5M1188 1059v2M1190 1079v8M1190 1071v5M1192 1082v5M1192 1076v3M1192 1071v3M1192 1063v2M1194 1082v5M1196 1082v9M1196 1076v3M1198 1074v2M1200 1082v5M1202 1091v7M1202 1082v5M1204 1087v4M1204 1071v3M1204 1063v2M1204 1059v2M1206 1071v3M1208 1071v3M1210 1087v4M1210 1079v3M1210 1071v5M1212 1098v9M1218 1091v31M1220 1091v7M1220 1071v3M1222 1107v15M1226 1098v9M1228 1087v11M1228 1076v3M1230 1074v5M1230 1067v2M1234 1098v9M1236 1091v16M1238 1091v16M1240 1071v3M1244 1098v24M1246 1087v11M1246 1076v6M1248 1091v7M1248 1069v5M1250 1098v9M1258 1076v3M1260 1098v24M1274 1098v24M1280 1107v15M1292 1091v16M1292 1079v3M1294 1107v15M1300 1091v16M1304 1107v15M1414 1067v2M1414 1055v2M1416 1091v7M1416 1071v3M1416 1067v2M1416 1063v2M1418 1091v7M1418 1082v5M1418 1071v5M1418 1067v2M1420 1067v4M1422 1079v3M1422 1067v2M1424 1087v4M1424 1076v3M1424 1065v2M1426 1076v6M1426 1065v2M1428 1091v7M1440 1107v15M1444 1079v3M1444 1074v2M1450 1098v9M1472 1082v5M1472 1067v2M1472 1063v2M1484 1079v19M1484 1069v5" stroke="#00b2ff" stroke-width="2" fill="none" shape-rendering="crispEdges"/>
<path d="M708 1087v20M710 1107v15M716 1091v31M720 1091v16M722 1098v24M724 1107v15M728 1098v9M728 1082v5M730 1107v15M730 1087v4M732 1107v15M734 1098v9M736 1082v9M738 1087v11M738 1074v5M740 1091v7M740 1076v6M742 1079v3M746 1074v2M746 1069v2M748 1087v11M748 1076v3M748 1065v2M750 1076v3M752 1098v9M754 1091v7M756 1079v12M758 1079v8M758 1074v2M758 1069v2M766 1107v15M766 1091v7M802 1107v15M802 1091v7M808 1098v9M810 1098v9M810 1087v4M812 1098v9M830 1107v15M864 1098v9M866 1079v8M868 1091v16M872 1107v15M874 1087v11M880 1107v15M882 1091v7M890 1091v31M894 1091v7M898 1107v15M912 1091v7M912 1079v3M912 1069v2M912 1065v2M914 1107v15M916 1074v5M918 1098v9M918 1082v5M918 1074v2M920 1076v3M920 1069v2M922 1087v4M922 1074v2M924 1079v3M926 1087v4M926 1071v5M926 1065v2M928 1082v9M930 1079v3M932 1098v9M932 1076v3M934 1074v2M934 1067v2M934 1063v2M934 1059v2M936 1091v7M936 1074v2M936 1069v2M936 1061v2M942 1071v3M942 1061v2M942 1053v2M944 1082v5M944 1071v3M944 1063v2M946 1082v9M946 1074v5M946 1067v2M948 1074v2M948 1063v4M950 1071v8M950 1065v2M952 1076v3M954 1076v6M954 1065v2M956 1079v3M956 1074v2M958 1087v4M958 1067v2M962 1091v7M962 1076v6M962 1069v2M964 1069v2M966 1076v6M966 1069v2M970 1067v4M970 1063v2M970 1057v4M972 1098v9M972 1079v8M974 1082v5M974 1074v2M976 1071v5M978 1091v7M978 1071v8M980 1098v9M980 1079v8M980 1069v5M982 1076v6M984 1079v3M984 1067v7M986 1091v16M986 1082v5M988 1076v3M990 1076v6M990 1067v4M990 1063v2M992 1107v15M992 1076v3M994 1063v2M996 1076v3M996 1063v2M998 1074v2M1000 1082v5M1000 1069v7M1000 1065v2M1000 1061v2M1004 1079v12M1004 1074v2M1006 1071v3M1008 1082v9M1008 1076v3M1008 1065v2M1010 1091v7M1010 1076v3M1012 1076v6M1014 1067v4M1014 1061v2M1016 1079v3M1016 1074v2M1016 1069v2M1018 1079v12M1018 1074v2M1020 1074v5M1020 1067v2M1022 1087v4M1022 1074v5M1024 1091v7M1026 1087v4M1028 1079v3M1028 1067v4M1030 1079v8M1032 1091v7M1032 1082v5M1032 1076v3M1034 1082v5M1034 1074v2M1036 1087v4M1038 1079v8M1038 1071v3M1040 1076v3M1040 1065v2M1042 1082v9M1042 1074v2M1044 1082v16M1044 1076v3M1044 1069v2M1044 1065v2M1046 1079v3M1046 1067v2M1048 1076v3M1048 1071v3M1050 1074v2M1050 1067v2M1052 1076v6M1052 1069v2M1054 1082v5M1056 1079v3M1056 1065v4M1058 1091v7M1058 1079v8M1060 1079v3M1060 1069v5M1062 1069v5M1062 1061v4M1064 1079v3M1066 1107v15M1068 1079v3M1068 1067v2M1070 1082v25M1072 1079v12M1072 1074v2M1074 1098v9M1074 1082v5M1078 1087v4M1078 1079v3M1080 1087v20M1082 1107v15M1084 1107v15M1086 1107v15M1086 1087v11M1090 1091v7M1092 1091v7M1094 1107v15M1094 1091v7M1094 1082v5M1096 1082v5M1096 1067v7M1098 1082v5M1098 1069v5M1098 1061v2M1100 1065v2M1102 1069v5M1104 1076v3M1104 1067v2M1106 1082v5M1106 1071v5M1106 1065v4M1108 1074v2M1110 1082v5M1112 1067v4M1112 1063v2M1112 1051v2M1114 1087v4M1114 1079v3M1114 1074v2M1116 1074v2M1118 1087v4M1118 1076v6M1118 1069v2M1120 1071v3M1120 1067v2M1122 1087v4M1122 1076v3M1122 1067v2M1124 1076v6M1126 1091v7M1126 1082v5M1126 1071v8M1126 1065v2M1128 1076v3M1128 1067v4M1130 1074v5M1130 1067v2M1132 1082v5M1132 1065v6M1134 1087v4M1134 1079v3M1134 1074v2M1134 1067v4M1136 1087v4M1136 1079v3M1136 1071v5M1136 1063v2M1138 1098v9M1138 1071v3M1138 1065v2M1138 1057v2M1140 1087v4M1140 1074v2M1140 1065v2M1142 1071v3M1142 1061v2M1144 1063v2M1146 1074v5M1146 1069v2M1148 1076v3M1148 1071v3M1150 1071v3M1150 1063v2M1152 1082v5M1152 1074v2M1152 1065v2M1152 1061v2M1156 1069v5M1158 1074v5M1160 1074v5M1160 1059v2M1162 1087v11M1162 1071v3M1164 1082v9M1164 1069v2M1166 1091v7M1168 1071v8M1170 1067v9M1172 1087v4M1172 1076v3M1174 1107v15M1174 1087v4M1174 1071v11M1176 1087v4M1178 1079v3M1178 1074v2M1178 1067v4M1180 1098v9M1184 1091v7M1186 1082v5M1188 1091v7M1188 1079v8M1190 1107v15M1190 1087v11M1192 1087v11M1192 1079v3M1194 1107v15M1194 1087v4M1196 1091v7M1198 1087v20M1200 1091v16M1202 1076v3M1204 1076v11M1204 1067v2M1206 1079v19M1206 1074v2M1208 1107v15M1208 1091v7M1210 1098v9M1220 1076v15M1220 1069v2M1224 1098v9M1226 1107v15M1228 1082v5M1230 1098v9M1230 1087v4M1232 1098v9M1232 1087v4M1236 1107v15M1240 1098v9M1240 1079v12M1246 1107v15M1246 1082v5M1248 1107v15M1258 1107v15M1258 1091v7M1266 1098v24M1292 1107v15M1300 1107v15M1414 1074v5M1414 1063v4M1414 1059v2M1416 1082v5M1416 1076v3M1416 1065v2M1416 1061v2M1418 1107v15M1418 1076v3M1418 1069v2M1420 1071v11M1422 1082v9M1422 1074v2M1426 1087v4M1426 1063v2M1428 1098v24M1444 1098v9M1444 1082v5M1472 1087v4M1484 1098v9" stroke="#00e5ff" stroke-width="2" fill="none" shape-rendering="crispEdges"/>
<path d="M708 1107v15M720 1107v15M730 1098v9M734 1107v15M738 1082v5M740 1107v15M740 1087v4M744 1091v7M746 1087v11M748 1079v3M748 1071v3M752 1107v15M754 1098v9M756 1091v7M758 1091v7M760 1107v15M792 1107v15M810 1107v15M812 1107v15M844 1107v15M866 1098v9M874 1098v24M894 1098v24M908 1107v15M910 1107v15M912 1076v3M914 1087v4M918 1087v4M918 1076v6M920 1091v7M920 1079v8M922 1076v3M922 1067v2M924 1098v9M926 1082v5M926 1076v3M926 1067v2M930 1076v3M930 1069v2M932 1107v15M936 1076v6M938 1091v7M940 1098v9M942 1079v3M942 1074v2M942 1065v6M944 1107v15M944 1087v11M944 1079v3M948 1069v2M950 1098v9M950 1079v3M952 1107v15M952 1091v7M954 1082v5M954 1067v2M956 1082v16M956 1076v3M958 1098v9M958 1076v3M960 1087v4M960 1074v5M962 1082v5M962 1071v3M964 1082v9M968 1082v5M968 1074v5M970 1074v2M972 1087v4M976 1076v15M978 1087v4M980 1087v4M982 1087v4M984 1076v3M988 1091v7M990 1091v7M992 1087v20M994 1087v4M998 1079v12M1000 1076v3M1002 1087v11M1006 1098v9M1006 1079v3M1008 1079v3M1008 1074v2M1010 1082v9M1012 1082v5M1012 1074v2M1014 1071v3M1016 1098v24M1016 1082v9M1018 1076v3M1020 1079v3M1020 1069v2M1022 1082v5M1024 1079v8M1026 1091v7M1028 1091v7M1028 1076v3M1028 1071v3M1030 1098v9M1030 1087v4M1032 1087v4M1034 1087v4M1034 1076v3M1038 1091v7M1040 1079v19M1046 1098v9M1046 1082v9M1048 1082v16M1050 1091v7M1050 1076v3M1050 1069v2M1054 1087v4M1058 1098v9M1058 1087v4M1060 1082v16M1060 1074v2M1062 1074v5M1064 1098v9M1068 1091v31M1070 1107v15M1072 1091v16M1074 1091v7M1076 1098v9M1088 1098v24M1090 1098v9M1092 1107v15M1096 1098v9M1096 1079v3M1096 1074v2M1098 1076v3M1100 1091v7M1100 1071v5M1100 1063v2M1102 1079v3M1104 1082v5M1106 1079v3M1108 1076v22M1110 1076v3M1110 1071v3M1112 1076v3M1112 1065v2M1114 1082v5M1114 1076v3M1116 1082v9M1116 1071v3M1118 1098v9M1118 1082v5M1120 1082v16M1120 1076v3M1122 1091v7M1122 1082v5M1122 1074v2M1124 1087v4M1126 1087v4M1128 1071v5M1130 1087v11M1132 1087v11M1132 1076v6M1134 1082v5M1134 1071v3M1136 1098v9M1138 1079v3M1140 1076v3M1142 1069v2M1142 1063v2M1144 1071v8M1148 1087v4M1148 1074v2M1150 1069v2M1152 1091v7M1152 1079v3M1152 1069v2M1154 1082v9M1156 1087v4M1158 1082v9M1158 1071v3M1162 1098v9M1162 1082v5M1162 1076v3M1164 1079v3M1164 1074v2M1168 1091v7M1168 1079v8M1170 1076v11M1172 1091v7M1174 1091v7M1174 1082v5M1176 1107v15M1176 1091v7M1176 1082v5M1178 1076v3M1178 1071v3M1182 1091v16M1184 1098v9M1188 1098v9M1188 1087v4M1192 1098v9M1194 1098v9M1196 1107v15M1198 1107v15M1200 1107v15M1202 1098v9M1204 1091v16M1206 1098v24M1208 1098v9M1210 1091v7M1220 1098v9M1224 1107v15M1228 1107v15M1230 1107v15M1232 1107v15M1240 1107v15M1240 1091v7M1246 1098v9M1248 1098v9M1248 1082v9M1258 1098v9M1258 1087v4M1414 1079v12M1416 1087v4M1416 1079v3M1420 1087v20M1424 1098v9M1426 1091v16M1450 1107v15M1472 1091v7" stroke="#19ffe5" stroke-width="2" fill="none" shape-rendering="crispEdges"/>
<path d="M712 1107v15M728 1107v15M738 1107v15M740 1082v5M742 1107v15M746 1098v9M748 1098v9M750 1098v24M756 1098v9M758 1098v9M866 1107v15M868 1107v15M882 1107v15M912 1087v4M918 1091v7M922 1091v7M926 1079v3M930 1082v5M934 1087v4M938 1107v15M938 1087v4M940 1107v15M942 1087v4M942 1076v3M942 1063v2M948 1076v3M950 1082v5M952 1098v9M954 1087v11M958 1082v5M960 1082v5M964 1091v7M966 1098v9M966 1087v4M968 1087v11M970 1079v19M972 1091v7M976 1091v7M978 1079v3M980 1091v7M982 1082v5M984 1082v16M986 1087v4M990 1098v9M990 1082v9M994 1091v16M994 1079v8M996 1079v19M998 1098v9M1000 1087v20M1002 1098v9M1002 1082v5M1004 1091v7M1008 1091v7M1014 1079v12M1014 1074v2M1016 1091v7M1018 1091v31M1020 1091v7M1020 1082v5M1024 1098v9M1024 1076v3M1026 1098v9M1028 1082v9M1030 1091v7M1032 1098v9M1034 1098v9M1036 1091v7M1038 1098v9M1038 1087v4M1042 1098v9M1044 1098v9M1046 1107v15M1046 1091v7M1048 1098v9M1050 1107v15M1050 1087v4M1052 1091v7M1054 1091v16M1056 1098v9M1060 1098v9M1062 1079v19M1074 1107v15M1078 1098v24M1080 1107v15M1086 1098v9M1090 1107v15M1092 1098v9M1096 1087v4M1096 1076v3M1098 1098v9M1098 1079v3M1098 1074v2M1100 1082v9M1100 1076v3M1102 1091v7M1102 1082v5M1102 1076v3M1104 1087v35M1106 1087v4M1110 1079v3M1112 1091v7M1112 1079v3M1112 1074v2M1114 1098v9M1116 1091v7M1122 1098v9M1124 1107v15M1124 1091v7M1124 1082v5M1128 1091v7M1128 1079v8M1130 1098v9M1132 1098v24M1134 1091v16M1134 1076v3M1136 1091v7M1136 1082v5M1138 1087v4M1138 1076v3M1142 1087v4M1142 1079v3M1144 1091v7M1144 1079v8M1146 1087v11M1150 1091v16M1150 1082v5M1152 1087v4M1156 1091v7M1156 1079v3M1158 1091v16M1160 1098v9M1160 1082v9M1162 1079v3M1164 1098v9M1166 1098v9M1168 1107v15M1170 1087v4M1174 1098v9M1176 1098v9M1178 1082v16M1182 1107v15M1192 1107v15M1194 1091v7M1202 1107v15M1220 1107v15M1418 1098v9M1422 1091v7M1426 1107v15M1444 1107v15M1472 1098v24M1484 1107v15" stroke="#4cffb2" stroke-width="2" fill="none" shape-rendering="crispEdges"/>
<path d="M736 1107v15M740 1098v9M748 1107v15M756 1107v15M758 1107v15M912 1098v24M916 1091v16M920 1087v4M922 1098v9M922 1082v5M924 1107v15M926 1091v31M928 1091v7M930 1087v20M934 1091v16M938 1098v9M942 1091v7M942 1082v5M944 1098v9M948 1087v11M950 1091v7M954 1098v9M956 1098v9M958 1091v7M960 1098v24M962 1098v9M962 1087v4M964 1098v24M966 1107v15M966 1091v7M968 1098v24M972 1107v15M974 1087v4M976 1098v9M978 1107v15M982 1091v16M986 1107v15M996 1098v9M998 1107v15M998 1091v7M1004 1107v15M1006 1107v15M1008 1107v15M1010 1107v15M1012 1098v9M1014 1091v7M1020 1087v4M1022 1098v9M1024 1087v4M1026 1107v15M1028 1098v9M1032 1107v15M1034 1091v7M1036 1098v9M1038 1107v15M1044 1107v15M1050 1098v9M1052 1098v9M1054 1107v15M1056 1107v15M1056 1087v11M1064 1107v15M1072 1107v15M1096 1091v7M1098 1087v4M1102 1098v9M1102 1087v4M1106 1091v31M1108 1098v9M1110 1087v4M1112 1082v9M1114 1107v15M1118 1091v7M1120 1098v9M1124 1098v9M1126 1107v15M1128 1087v4M1136 1107v15M1138 1091v7M1138 1082v5M1140 1091v16M1142 1076v3M1148 1091v16M1150 1087v4M1150 1079v3M1154 1098v9M1160 1091v7M1164 1091v7M1166 1107v15M1168 1087v4M1170 1091v7M1172 1098v24M1178 1098v9M1180 1107v15M1186 1107v15M1188 1107v15M1210 1107v15M1414 1091v16M1416 1107v15M1422 1098v24M1424 1107v15" stroke="#7fff7f" stroke-width="2" fill="none" shape-rendering="crispEdges"/>
<path d="M916 1107v15M918 1107v15M920 1098v24M928 1098v9M930 1107v15M936 1098v9M946 1098v9M948 1098v24M950 1107v15M958 1107v15M960 1091v7M962 1107v15M970 1098v9M974 1091v16M976 1107v15M978 1098v9M980 1107v15M982 1107v15M984 1098v9M988 1107v15M990 1107v15M994 1107v15M1002 1107v15M1004 1098v9M1008 1098v9M1010 1098v9M1012 1107v15M1012 1091v7M1020 1098v9M1022 1107v15M1028 1107v15M1030 1107v15M1042 1107v15M1048 1107v15M1058 1107v15M1060 1107v15M1062 1098v9M1098 1091v7M1100 1107v15M1110 1091v16M1112 1098v9M1116 1098v9M1118 1107v15M1120 1107v15M1122 1107v15M1126 1098v9M1128 1098v9M1130 1107v15M1140 1107v15M1142 1107v15M1144 1087v4M1146 1107v15M1148 1107v15M1152 1098v24M1156 1098v24M1158 1107v15M1168 1098v9M1170 1098v24M1204 1107v15" stroke="#b2ff4c" stroke-width="2" fill="none" shape-rendering="crispEdges"/>
<path d="M922 1107v15M928 1107v15M934 1107v15M936 1107v15M942 1098v24M946 1107v15M954 1107v15M956 1107v15M970 1107v15M974 1107v15M984 1107v15M996 1107v15M1000 1107v15M1014 1098v24M1020 1107v15M1024 1107v15M1034 1107v15M1036 1107v15M1040 1107v15M1052 1107v15M1062 1107v15M1096 1107v15M1098 1107v15M1100 1098v9M1102 1107v15M1108 1107v15M1110 1107v15M1112 1107v15M1116 1107v15M1128 1107v15M1134 1107v15M1138 1107v15M1142 1098v9M1144 1098v24M1150 1107v15M1154 1107v15M1160 1107v15M1162 1107v15M1164 1107v15M1178 1107v15M1414 1107v15M1416 1098v9M1420 1107v15" stroke="#e5ff19" stroke-width="2" fill="none" shape-rendering="crispEdges"/>
<path d="M740 999.5H870M890 999.5H960M1050 999.5H1130M1160 999.5H1200M780 1040.5H860M900 1040.5H960M1265 983.5H1290M1240 992.5H1280M1470 998.5H1495M1423 998.5H1440" stroke="#3a7bff" stroke-width="1" stroke-dasharray="3 2" opacity="0.55" fill="none" shape-rendering="crispEdges"/>
<rect x="259.5" y="969.5" width="1551" height="152" stroke="#000" stroke-width="1.3" fill="none" shape-rendering="crispEdges"/>
<text x="203" y="1005.4" font-size="28">10</text>
<text x="234.5" y="988.4" font-size="18">-1</text>
<text x="203" y="1056.4" font-size="28">10</text>
<text x="234.5" y="1039.4" font-size="18">0</text>
<text x="203" y="1107.4" font-size="28">10</text>
<text x="234.5" y="1090.4" font-size="18">1</text>
<g transform="translate(184 1151.8) rotate(-90)"><text x="0" y="0" font-size="28">Wavelength (km)</text></g>
<path d="M265 1179.5H1810.5M265 1244.5H1810.5M265 1309.5H1810.5M440.5 1136.5V1355.5M620.5 1136.5V1355.5M801.5 1136.5V1355.5M983.5 1136.5V1355.5M1164.5 1136.5V1355.5M1449.5 1136.5V1355.5M1629.5 1136.5V1355.5" stroke="#000" stroke-width="1" stroke-dasharray="1 4" fill="none" shape-rendering="crispEdges"/>
<path d="M260.5 1179.5H276.5M1810.5 1179.5H1794.5M260.5 1244.5H276.5M1810.5 1244.5H1794.5M260.5 1309.5H276.5M1810.5 1309.5H1794.5M440.5 1355.5V1339.5M440.5 1133.5V1149.5M620.5 1355.5V1339.5M620.5 1133.5V1149.5M801.5 1355.5V1339.5M801.5 1133.5V1149.5M983.5 1355.5V1339.5M983.5 1133.5V1149.5M1164.5 1355.5V1339.5M1164.5 1133.5V1149.5M1449.5 1355.5V1339.5M1449.5 1133.5V1149.5M1629.5 1355.5V1339.5M1629.5 1133.5V1149.5M1810.5 1355.5V1339.5M1810.5 1133.5V1149.5" stroke="#000" stroke-width="1.2" fill="none" shape-rendering="crispEdges"/>
<path d="M260.4 1210L266 1216 275 1218 287 1223.5 294.5 1231 299 1237 297.5 1243 293 1249M291 1248L296 1246.5 301 1247 307 1249 313 1251 320 1253.5 327.5 1255.8 339.5 1255.8 350 1262.5 360.5 1267 365 1276 362 1285 353 1295.5 345.5 1304.5 344 1315 342.5 1328.5 338 1339 330.5 1345 320 1348 309.5 1355.5M449.2 1134L442.5 1143 440.2 1150.5 444 1156.5 444.8 1167 442.5 1174.5 439.5 1180.5 441 1188 446.2 1194 454.5 1203 457.5 1210.5 465 1216.5 472.5 1222.5 481.5 1227 490.5 1222.5 498 1221.8 507 1222.5 517.5 1218 528 1215.8 534 1218 538.5 1225.5 549 1225.5 555 1230 555 1239 552 1248 555 1255.5 562.5 1261.5 568.5 1270.5 571.5 1282.5 573 1296 568.5 1303.5 564 1315.5 564 1323 570 1336.5 576 1345.5 577.5 1354.5M664.5 1134L673.5 1150.5 675 1161 684 1171.5 690 1179 699 1188 700.5 1195.5 706.5 1200 714 1197 724 1194.5 734.5 1192.5 733 1203 727 1215 715 1230 705 1236 694.5 1245 687 1255.5 681.8 1263 682.5 1272 684 1284 687 1293 688.5 1309.5 682.5 1318.5 672 1323 663 1332 666 1341 664.5 1354.5M673.5 1134L681 1141.5 682.5 1152 688.5 1159.5 696 1168.5 698 1177.5 700.5 1189.5 708 1188 715.5 1185 724 1180.5 734.5 1176 742 1171.5 754 1165.5 763 1158 769 1146 770.5 1143 760 1135.5 755.5 1134M734.5 1134.5L739 1138.5 746.5 1137 749.5 1134M702 1354.5L700.5 1338 702 1323 705 1315.5 718.5 1305 724 1297.5 728.5 1299 730 1311 725.5 1327.5 721 1341 716.5 1354.5M651 1246.5L655.5 1243.5 660 1244 660 1251 655.5 1255.5 650.2 1255.5 651 1246.5M802 1134L811 1143 817 1144.5 814 1149 824.5 1152 825.2 1146 826 1161 830.5 1173 835 1185 841 1198.5 847 1207.5 853 1204.5 857.5 1194 859 1177.5 865 1173 880 1161 887.5 1153.5 890.5 1147.5 900 1148.8 907.1 1143.5 910.6 1150.6 917.7 1159.4 921.2 1166.5 920.3 1174.4 923 1175.3 930.9 1170.9 934.4 1175.3 937.1 1187.7 938.8 1195.6 937.1 1200 936.2 1206.2 941.5 1213.3 945 1217.7 945.9 1224.7 947.7 1232.7 953 1236.2 962.7 1238 960.9 1232.7 958.3 1221.2 956.5 1217.7 949.4 1212.4 944.1 1206.2 939.7 1201.8 945 1186.8 946.8 1185.9 951.2 1189.4 960 1198.3 965.3 1201.8 965.3 1206.2 973.3 1200 983.8 1194.7 984.7 1179.7 977.7 1169.1 968.8 1161.2 971.5 1155 982.1 1147.9 988.3 1148.8 991.8 1151.5 1005.9 1143.5 1019.2 1140 1025 1134M913.2 1186.8L912.4 1193M857.5 1201.5L863.5 1207.5 866.5 1215 860.5 1218 857.5 1215 857.5 1201.5M981.2 1159.4L988.3 1155.9 991.8 1158.5 989.1 1163.8 983 1163.8 981.2 1159.4M923.8 1221.2L931.8 1220.3 937.1 1224.7 946.8 1233.6 957.4 1238.8 965.3 1251.2 972.4 1256.5 969.7 1268.9 963.5 1268 953 1256.5 942.4 1243.3 933.5 1231.8 923.8 1221.2M926.5 1232.7L927.5 1233.5M933.5 1238L935.3 1241.5M968 1270.6L975 1275.9 988.3 1277.7 1001.5 1280.3 1005.9 1276.8 997.1 1273.3 983.8 1272.4 968 1270.6M1001.5 1278L1015 1279 1030 1279.5 1040 1280.8 1048 1284 1060 1280M982.1 1237.1L991.8 1235.3 993.6 1230.9 1003.3 1224.7 1017.4 1215 1027.1 1222.1 1021.8 1232.7 1025.3 1240.6 1019.2 1248.6 1014.7 1256.5 1007.7 1261.8 997.1 1258.3 988.3 1256.5 984.7 1245.9 982.1 1237.1M1030.6 1239.7L1035 1238 1051.8 1237.1 1044.7 1241.5 1035 1244.2 1032.4 1249.4 1045.6 1247.7 1035.9 1253.9 1041.2 1261.8 1043.9 1268 1038.6 1263.6 1033.3 1257.4 1031.5 1267.1 1028 1268 1025.3 1256.5 1030.6 1239.7M1064 1235.2L1067.2 1240.8 1064 1244 1065.6 1250.4M1074.4 1244.8L1081.6 1245.6 1088 1248.8 1092 1253.6 1096 1257.6 1100.8 1253.6 1107.2 1250.4 1120 1254.4 1132 1259.2 1139.2 1264.8 1144 1268.8 1150.4 1270.4 1158 1269 1163 1266 1152 1268.8M1074.4 1244.8L1078.4 1250.4 1083.2 1256.8 1088 1260 1097.6 1263.2 1105.6 1266.4 1109.6 1272 1109.6 1277.6 1112 1278 1127 1278 1142 1281 1152.5 1287 1161.5 1288.5M1163.2 1256L1171.2 1261.6 1168 1266.4 1160 1268M1081 1249.6L1085 1247 1089 1249.6 1085 1252 1081 1249.6M1032.6 1163.1L1040.7 1163.1 1041.6 1169.4 1037.1 1176.6 1035.3 1180.2 1037.1 1185.6 1035.3 1191.9 1032.6 1186.5 1029.9 1180.2 1029.9 1173.9 1032.6 1174.8 1032.6 1163.1M1039.8 1182L1047 1186.5 1054.2 1191 1055.1 1196.4 1054.2 1202.7 1057.8 1207.2 1058.7 1214.4 1054.2 1219.8 1047.9 1217.1 1047 1213.5 1040.7 1204.5 1038 1197.3 1038.9 1192.8 1039.8 1182M1043 1190L1050 1196 1046 1203 1051 1208M1029 1195.5L1020.9 1206.3M1033.5 1134.3L1038.9 1135.2 1036.2 1146 1031.7 1145.1 1031.7 1138.8 1033.5 1134.3M1010 1336.5L1037 1327.5 1040 1318.5 1055 1305 1070 1308 1074.5 1300.5 1083.5 1294.5 1097 1297.5 1103 1299 1098.5 1309.5 1116.5 1323 1122.5 1305 1127 1290 1133 1299 1140.5 1314 1145 1326 1154 1335 1160 1342.5 1167.5 1354.5M1001.5 1354.5L1003 1342.5 1013.5 1336.5 1010 1336.5M1191.5 1278L1202 1284 1211 1290M1232 1309.5L1235 1317M1220 1333.5L1233.5 1342.5M1278.5 1321.5L1287.5 1315.5M1374 1147.5L1377 1147M1383 1149.8L1390.5 1152 1395 1159.5 1392 1161M1318.5 1302L1326 1305M1420.5 1321.5L1421.5 1322.5M1580 1134L1592.3 1141.6M1599 1134L1608.6 1145.7 1610 1151.9 1608.6 1156.7 1621 1164.8 1634.6 1171.7 1648.2 1175.8 1655 1173 1664.6 1178.5 1672.8 1184 1686.4 1188 1693.2 1197.6 1700 1203 1709.6 1208.5 1716.4 1212.6 1720.5 1207 1724.6 1205.8 1730 1215.3 1730 1229 1726 1233 1719.2 1241.2 1715 1249.4 1717.8 1256.3 1713.7 1263 1713.7 1270 1722 1278 1727.4 1287.6 1732.8 1298.6 1737 1308 1746.5 1314.9 1757.4 1321.7 1761.5 1330 1760 1346.3 1758.7 1355.2M1642.8 1134L1641.4 1147.1 1648.2 1158 1657.8 1164.8 1671.4 1162.1 1674 1151.2 1689.2 1148.5 1686.4 1162.1 1682.3 1174.4 1700 1174.4 1704.2 1178.5 1702.8 1193.5 1708.3 1204.4 1716.4 1207.1 1724.6 1204.4 1732.8 1209.9 1741 1196.2 1754.6 1190.8 1756 1204.4 1758 1192 1768.3 1194.9 1784.7 1199 1798.3 1199 1801 1207.1 1810.6 1211.2M1698.7 1147.8L1705.5 1143 1713.7 1141 1724.6 1144.4 1734.2 1149.8 1743.7 1156 1736.9 1156.7 1728.7 1155.3 1719.2 1149.8 1709.6 1145.7 1698.7 1147.8M1749.2 1157.3L1761.5 1158.7 1768.3 1162.1 1757.4 1167.6 1743.7 1164.8 1749.2 1157.3M1727 1165.2L1731 1163.2 1735 1165.2 1731 1167.2 1727 1165.2M1773.7 1164.2L1777.5 1162.7 1781.2 1164.2 1777.5 1165.7 1773.7 1164.2M1727 1135L1729 1137M1741 1144L1746.5 1151M1752 1147L1756 1149M1611 1134.5L1618 1140 1615 1142 1608 1136" stroke="#000" stroke-width="2" fill="none" stroke-linejoin="round"/>
<path d="M639 1260L642 1270.5 648 1282.5M660 1285.5L663 1297.5 665.2 1306.5M1058 1258L1064 1257.5M1068 1257L1076 1258.5M1374 1147L1378 1146.5M1318 1301.5L1327 1305.5M1232 1309L1235.5 1318" stroke="#000" stroke-width="3.5" fill="none" stroke-linecap="round" stroke-linejoin="round"/>
<path d="M1801 1179.8h0M294 1248.5h0M300 1249h0M305 1250h0M575 1186h0M745 1189.5h0M913 1189.5h0M1670.7 1246.7h0M1798.3 1173.7h0M1058 1258.5h0M1070 1257h0M1098.5 1248h0M1146.5 1252.5h0M1092.5 1270.5h0M1079 1276.5h0M752.5 1336.5h0M761.5 1332.8h0M928 1233h0M934 1239h0M940 1251h0M1000 1276h0M1050.5 1251.8h0M1168 1262h0M1420.5 1322h0" stroke="#000" stroke-width="4" fill="none" stroke-linecap="round"/>
<path d="M260.5 1188C273.7 1188.8 286.8 1189.5 300 1190.5C316.7 1191.8 333.3 1192.9 350 1195C366.7 1197.1 383.3 1199.6 400 1203C406.7 1204.4 413.3 1206 420 1207.5C446.7 1213.5 473.3 1218.7 500 1225C520 1229.7 540 1235 560 1240C580 1245 600 1250.3 620 1255C640.3 1259.8 660.7 1264 681 1268.2C692 1270.5 703 1272.5 714 1275C723.3 1277.1 732.7 1279.9 742 1281.8C755.8 1284.5 769.5 1285.7 783.2 1287.8C797.5 1289.9 811.8 1292.6 826 1294.5C839.8 1296.3 853.5 1297.9 867.2 1299C881 1300.1 894.8 1300.9 908.5 1301.2C922.5 1301.6 936.5 1301.5 950.5 1301.2C964.5 1301 978.5 1300.5 992.5 1299.8C1006.3 1299 1020.2 1298.4 1034 1296.8C1048 1295.1 1062 1292.1 1076 1290C1090.2 1287.9 1104.5 1286.3 1118.8 1284C1132.8 1281.8 1146.8 1279.3 1160.8 1276.5C1174.5 1273.8 1188.2 1270.6 1202 1267.5C1215.2 1264.6 1228.5 1261.5 1241.8 1258.5" stroke="#b51515" stroke-width="1.15" fill="none"/>
<path d="M1413 1244.2C1425 1241.7 1437 1239.2 1449 1236.5C1466 1232.7 1483 1228.5 1500 1224.5C1520 1219.8 1540 1214.8 1560 1210.5C1575 1207.3 1590 1203.8 1605 1201.5C1613 1200.2 1621 1199.3 1629 1198.3C1649.1 1195.7 1669.1 1192.6 1689.2 1190.8C1709.7 1189 1730.1 1187.9 1750.6 1187.4C1765.6 1187 1780.6 1186.9 1795.6 1187.4C1800.6 1187.6 1805.5 1187.8 1810.5 1188" stroke="#b51515" stroke-width="1.15" fill="none"/>
<path d="M1241.8 1258.5L1307 1243.5" stroke="#b51515" stroke-width="1.15" fill="none"/>
<path d="M260.5 1280.5L296 1262.5 320 1249 350 1231.8 383 1214.5 410 1207 447 1198.5 465 1197 510 1195.5 525 1195.5 559.5 1196.2 615 1201.5 660 1207.5 705 1211.2 720 1212 800 1212 850 1209.8 887.5 1208.2 1010 1209.8 1062.5 1208.2 1107.5 1208.2 1160 1210.5 1205 1216.5 1250 1224 1310 1235.2 1380 1244 1449 1254 1527 1265.2 1605 1276.5 1627.8 1282.2 1675.5 1291.7 1730 1297.2 1741 1297.9 1810.5 1279.4" stroke="#04f004" stroke-width="6" fill="none" stroke-linejoin="round"/>
<path d="M710.5 1267.8L720.6 1270.6L717.5 1282.2L707.4 1279.4ZM724.1 1271.7L734.3 1274.1L731.4 1285.8L721.2 1283.4ZM738 1274.9L748.3 1276.8L746 1288.6L735.7 1286.7ZM751.3 1277.2L761.6 1278.9L759.7 1290.8L749.4 1289.1ZM765.4 1279.6L775.8 1281L774.1 1292.9L763.7 1291.5ZM779 1281L789.4 1282.7L787.5 1294.5L777.1 1292.8ZM793.4 1283.9L803.8 1285.8L801.6 1297.6L791.2 1295.7ZM807.3 1286.4L817.7 1287.7L816.2 1299.6L805.8 1298.3ZM821.4 1288L831.9 1289.1L830.6 1301L820.1 1299.9ZM834.9 1289.5L845.4 1290.6L844.1 1302.5L833.6 1301.4ZM848.4 1291L858.9 1292.1L857.6 1304L847.1 1302.9ZM862.5 1292.6L873 1293.4L872 1305.4L861.5 1304.6ZM876.6 1293.5L887.1 1294L886.4 1306L875.9 1305.5ZM890.1 1294.2L900.6 1294.8L899.9 1306.8L889.4 1306.2ZM903.4 1295.1L913.9 1295.4L913.6 1307.4L903.1 1307.1ZM917.5 1295.2L928 1295.2L928 1307.2L917.5 1307.2ZM931.8 1295.2L942.2 1295.2L942.2 1307.2L931.8 1307.2ZM945.2 1295.2L955.8 1295.2L955.8 1307.2L945.2 1307.2ZM959.3 1295.4L969.8 1295.1L970.2 1307.1L959.7 1307.4ZM972.7 1294.8L983.2 1294.2L983.8 1306.2L973.3 1306.8ZM986.9 1294L997.4 1293.5L998.1 1305.5L987.6 1306ZM1000.4 1293.3L1010.9 1292.7L1011.6 1304.7L1001.1 1305.3ZM1014.8 1292.7L1025.3 1291.8L1026.2 1303.8L1015.7 1304.7ZM1028 1291.5L1038.4 1290.1L1040 1302L1029.6 1303.4ZM1042.2 1289.3L1052.6 1287.9L1054.3 1299.7L1043.9 1301.1ZM1055.6 1287.9L1066 1286.2L1067.9 1298.1L1057.5 1299.8ZM1069.9 1284.9L1080.2 1283.3L1082.1 1295.1L1071.8 1296.7ZM1084.1 1283.4L1094.5 1281.8L1096.4 1293.6L1086 1295.2ZM1098.4 1280.4L1108.7 1278.8L1110.6 1290.6L1100.3 1292.2ZM1112.9 1278.6L1123.3 1277.5L1124.6 1289.4L1114.2 1290.5ZM1126.1 1277.4L1136.5 1275.7L1138.4 1287.6L1128 1289.3ZM1140.1 1274.7L1150.4 1272.5L1152.9 1284.3L1142.6 1286.5ZM1154.4 1271.7L1164.7 1269.5L1167.1 1281.3L1156.8 1283.5ZM1168.6 1268.7L1178.9 1266.5L1181.4 1278.3L1171.1 1280.5ZM1182.1 1265.8L1192.3 1263.5L1194.9 1275.2L1184.7 1277.5ZM1195.7 1262.6L1206 1260.6L1208.3 1272.4L1198 1274.4ZM1209.2 1260.4L1219.5 1258.3L1221.8 1270.1L1211.5 1272.2ZM1221.7 1257.7L1231.8 1255.1L1234.8 1266.8L1224.7 1269.4ZM1235.1 1254.1L1245.2 1251.3L1248.4 1262.9L1238.3 1265.7Z" fill="#f01010"/>
<path d="M323 1247.5L325 1253 330.8 1253.2 326.2 1256.8 327.8 1262.4 323 1259.2 318.2 1262.4 319.8 1256.8 315.2 1253.2 321 1253ZM1137 1176.5L1139 1181.9 1144.8 1182.2 1140.2 1185.8 1141.8 1191.3 1137 1188.1 1132.2 1191.3 1133.8 1185.8 1129.2 1182.2 1135 1181.9ZM1233.5 1194.8L1235.5 1200.2 1241.3 1200.5 1236.7 1204.1 1238.3 1209.6 1233.5 1206.4 1228.7 1209.6 1230.3 1204.1 1225.7 1200.5 1231.5 1200.2ZM1386 1226.3L1388 1231.7 1393.8 1232 1389.2 1235.6 1390.8 1241.1 1386 1237.9 1381.2 1241.1 1382.8 1235.6 1378.2 1232 1384 1231.7ZM1732.8 1287.6L1734.8 1293 1740.6 1293.3 1736 1296.9 1737.6 1302.4 1732.8 1299.2 1728 1302.4 1729.6 1296.9 1725 1293.3 1730.8 1293Z" stroke="#d030d0" stroke-width="1.3" fill="none"/>
<rect x="260.5" y="1133.5" width="1550" height="222" stroke="#000" stroke-width="1.3" fill="none" shape-rendering="crispEdges"/>
<text x="187" y="1193" font-size="28">15</text><text x="218.3" y="1181" font-size="22">o</text><text x="231" y="1193" font-size="28">N</text>
<text x="215.5" y="1258" font-size="28">0</text><text x="230.3" y="1245.3" font-size="22">o</text>
<text x="187" y="1323.5" font-size="28">15</text><text x="218.3" y="1311" font-size="22">o</text><text x="232.5" y="1323.5" font-size="28">S</text>
<text x="215.2" y="1401.2" font-size="28">GLON</text>
<text x="439.5" y="1401.2" font-size="28" text-anchor="middle">342.9</text>
<text x="619.5" y="1401.2" font-size="28" text-anchor="middle">024.8</text>
<text x="800.5" y="1401.2" font-size="28" text-anchor="middle">066.8</text>
<text x="982.5" y="1401.2" font-size="28" text-anchor="middle">109.0</text>
<text x="1163.5" y="1401.2" font-size="28" text-anchor="middle">151.2</text>
<text x="1448.5" y="1401.2" font-size="28" text-anchor="middle">217.4</text>
<text x="1628.5" y="1401.2" font-size="28" text-anchor="middle">259.2</text>
<text x="1809.5" y="1401.2" font-size="28" text-anchor="middle">301.0</text>
<text x="218.3" y="1442.1" font-size="28">GLAT</text>
<text x="439.5" y="1442.1" font-size="28" text-anchor="middle">+07.7</text>
<text x="619.5" y="1442.1" font-size="28" text-anchor="middle">-02.2</text>
<text x="800.5" y="1442.1" font-size="28" text-anchor="middle">-10.7</text>
<text x="982.5" y="1442.1" font-size="28" text-anchor="middle">-12.9</text>
<text x="1163.5" y="1442.1" font-size="28" text-anchor="middle">-07.6</text>
<text x="1448.5" y="1442.1" font-size="28" text-anchor="middle">+02.2</text>
<text x="1628.5" y="1442.1" font-size="28" text-anchor="middle">+10.7</text>
<text x="1809.5" y="1442.1" font-size="28" text-anchor="middle">+12.9</text>
<text x="221.8" y="1482.9" font-size="28">GALT</text>
<text x="439.5" y="1482.9" font-size="28" text-anchor="middle">&#160;726</text>
<text x="619.5" y="1482.9" font-size="28" text-anchor="middle">&#160;556</text>
<text x="800.5" y="1482.9" font-size="28" text-anchor="middle">&#160;430</text>
<text x="982.5" y="1482.9" font-size="28" text-anchor="middle">&#160;412</text>
<text x="1163.5" y="1482.9" font-size="28" text-anchor="middle">&#160;508</text>
<text x="1448.5" y="1482.9" font-size="28" text-anchor="middle">&#160;676</text>
<text x="1628.5" y="1482.9" font-size="28" text-anchor="middle">&#160;813</text>
<text x="1809.5" y="1482.9" font-size="28" text-anchor="middle">&#160;833</text>
<text x="215.3" y="1523.7" font-size="28">MLON</text>
<text x="439.5" y="1523.7" font-size="28" text-anchor="middle">057.1</text>
<text x="619.5" y="1523.7" font-size="28" text-anchor="middle">095.6</text>
<text x="800.5" y="1523.7" font-size="28" text-anchor="middle">136.3</text>
<text x="982.5" y="1523.7" font-size="28" text-anchor="middle">179.8</text>
<text x="1163.5" y="1523.7" font-size="28" text-anchor="middle">223.1</text>
<text x="1448.5" y="1523.7" font-size="28" text-anchor="middle">287.6</text>
<text x="1628.5" y="1523.7" font-size="28" text-anchor="middle">327.5</text>
<text x="1809.5" y="1523.7" font-size="28" text-anchor="middle">016.3</text>
<text x="219.3" y="1564.6" font-size="28">MLAT</text>
<text x="439.5" y="1564.6" font-size="28" text-anchor="middle">-02.1</text>
<text x="619.5" y="1564.6" font-size="28" text-anchor="middle">-14.0</text>
<text x="800.5" y="1564.6" font-size="28" text-anchor="middle">-20.9</text>
<text x="982.5" y="1564.6" font-size="28" text-anchor="middle">-23.4</text>
<text x="1163.5" y="1564.6" font-size="28" text-anchor="middle">-15.7</text>
<text x="1448.5" y="1564.6" font-size="28" text-anchor="middle">+05.0</text>
<text x="1628.5" y="1564.6" font-size="28" text-anchor="middle">+19.4</text>
<text x="1809.5" y="1564.6" font-size="28" text-anchor="middle">+23.5</text>
<text x="236" y="1605.4" font-size="28">UT</text>
<text x="439.5" y="1605.4" font-size="28" text-anchor="middle">16:12</text>
<text x="619.5" y="1605.4" font-size="28" text-anchor="middle">16:24</text>
<text x="800.5" y="1605.4" font-size="28" text-anchor="middle">16:36</text>
<text x="982.5" y="1605.4" font-size="28" text-anchor="middle">16:47</text>
<text x="1163.5" y="1605.4" font-size="28" text-anchor="middle">16:59</text>
<text x="1448.5" y="1605.4" font-size="28" text-anchor="middle">15:34</text>
<text x="1628.5" y="1605.4" font-size="28" text-anchor="middle">15:46</text>
<text x="1809.5" y="1605.4" font-size="28" text-anchor="middle">15:59</text>
<text x="225.8" y="1646.2" font-size="28">SLT</text>
<text x="439.5" y="1646.2" font-size="28" text-anchor="middle">15:00</text>
<text x="619.5" y="1646.2" font-size="28" text-anchor="middle">18:00</text>
<text x="800.5" y="1646.2" font-size="28" text-anchor="middle">21:00</text>
<text x="982.5" y="1646.2" font-size="28" text-anchor="middle">00:00</text>
<text x="1163.5" y="1646.2" font-size="28" text-anchor="middle">03:00</text>
<text x="1448.5" y="1646.2" font-size="28" text-anchor="middle">06:00</text>
<text x="1628.5" y="1646.2" font-size="28" text-anchor="middle">09:00</text>
<text x="1809.5" y="1646.2" font-size="28" text-anchor="middle">12:00</text>
<g transform="translate(1899.5 1662.5) rotate(-90)"><text x="0" y="0" font-size="21.7">Preliminary corrected calibration, 2/11/09</text></g>
<g transform="translate(1924.7 1662.5) rotate(-90)"><text x="0" y="0" font-size="20.9">Produced 27-Oct-2009 13:20:04</text></g>
</svg>
</body></html>
